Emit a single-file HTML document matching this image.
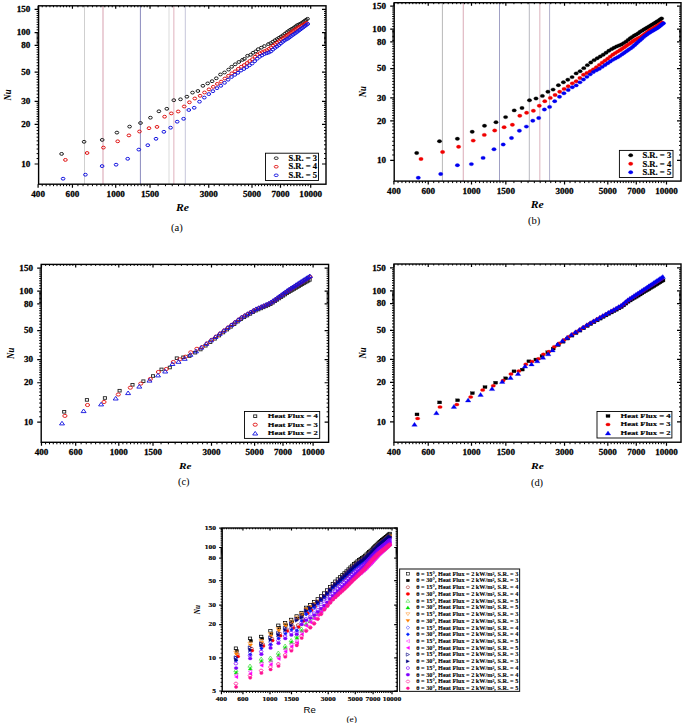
<!DOCTYPE html><html><head><meta charset="utf-8"><style>html,body{margin:0;padding:0;background:#fff;width:685px;height:723px;overflow:hidden}svg{display:block}</style></head><body>
<svg width="685" height="723" viewBox="0 0 685 723">
<rect width="685" height="723" fill="#fff"/>
<line x1="84.5" y1="5.8" x2="84.5" y2="184.2" stroke="#cfcfcf" stroke-width="1"/>
<line x1="103" y1="5.8" x2="103" y2="184.2" stroke="#e6c4cd" stroke-width="1.6"/>
<line x1="140.4" y1="5.8" x2="140.4" y2="184.2" stroke="#8a8abd" stroke-width="1"/>
<line x1="169" y1="5.8" x2="169" y2="184.2" stroke="#e6e6e6" stroke-width="1.4"/>
<line x1="173.8" y1="5.8" x2="173.8" y2="184.2" stroke="#ebcbd3" stroke-width="1.5"/>
<line x1="185.3" y1="5.8" x2="185.3" y2="184.2" stroke="#c6c6da" stroke-width="1"/>
<ellipse cx="61.6" cy="153.9" rx="1.85" ry="1.4" fill="none" stroke="#1a1a1a" stroke-width="1"/>
<ellipse cx="84.1" cy="141.8" rx="1.85" ry="1.4" fill="none" stroke="#1a1a1a" stroke-width="1"/>
<ellipse cx="102.2" cy="139.9" rx="1.85" ry="1.4" fill="none" stroke="#1a1a1a" stroke-width="1"/>
<ellipse cx="116.9" cy="132.6" rx="1.85" ry="1.4" fill="none" stroke="#1a1a1a" stroke-width="1"/>
<ellipse cx="129.6" cy="126.6" rx="1.85" ry="1.4" fill="none" stroke="#1a1a1a" stroke-width="1"/>
<ellipse cx="140.5" cy="123" rx="1.85" ry="1.4" fill="none" stroke="#1a1a1a" stroke-width="1"/>
<ellipse cx="150.4" cy="117.7" rx="1.85" ry="1.4" fill="none" stroke="#1a1a1a" stroke-width="1"/>
<ellipse cx="158.9" cy="111.3" rx="1.85" ry="1.4" fill="none" stroke="#1a1a1a" stroke-width="1"/>
<ellipse cx="166.8" cy="108.8" rx="1.85" ry="1.4" fill="none" stroke="#1a1a1a" stroke-width="1"/>
<ellipse cx="173.8" cy="100.2" rx="1.85" ry="1.4" fill="none" stroke="#1a1a1a" stroke-width="1"/>
<ellipse cx="180.5" cy="99.3" rx="1.85" ry="1.4" fill="none" stroke="#1a1a1a" stroke-width="1"/>
<ellipse cx="186.9" cy="96.7" rx="1.85" ry="1.4" fill="none" stroke="#1a1a1a" stroke-width="1"/>
<ellipse cx="192.5" cy="92.6" rx="1.85" ry="1.4" fill="none" stroke="#1a1a1a" stroke-width="1"/>
<ellipse cx="197.9" cy="91" rx="1.85" ry="1.4" fill="none" stroke="#1a1a1a" stroke-width="1"/>
<ellipse cx="202.9" cy="85.8" rx="1.85" ry="1.4" fill="none" stroke="#1a1a1a" stroke-width="1"/>
<ellipse cx="207.7" cy="83.4" rx="1.85" ry="1.4" fill="none" stroke="#1a1a1a" stroke-width="1"/>
<ellipse cx="212.1" cy="81.2" rx="1.85" ry="1.4" fill="none" stroke="#1a1a1a" stroke-width="1"/>
<ellipse cx="216.3" cy="78.3" rx="1.85" ry="1.4" fill="none" stroke="#1a1a1a" stroke-width="1"/>
<ellipse cx="220.4" cy="74.5" rx="1.85" ry="1.4" fill="none" stroke="#1a1a1a" stroke-width="1"/>
<ellipse cx="224.5" cy="72.5" rx="1.85" ry="1.4" fill="none" stroke="#1a1a1a" stroke-width="1"/>
<ellipse cx="228.6" cy="69.6" rx="1.85" ry="1.4" fill="none" stroke="#1a1a1a" stroke-width="1"/>
<ellipse cx="231.7" cy="66.8" rx="1.85" ry="1.4" fill="none" stroke="#1a1a1a" stroke-width="1"/>
<ellipse cx="235.2" cy="64.3" rx="1.85" ry="1.4" fill="none" stroke="#1a1a1a" stroke-width="1"/>
<ellipse cx="238.8" cy="62" rx="1.85" ry="1.4" fill="none" stroke="#1a1a1a" stroke-width="1"/>
<ellipse cx="242.4" cy="59.9" rx="1.85" ry="1.4" fill="none" stroke="#1a1a1a" stroke-width="1"/>
<ellipse cx="244.4" cy="58.9" rx="1.85" ry="1.4" fill="none" stroke="#1a1a1a" stroke-width="1"/>
<ellipse cx="247.5" cy="55.8" rx="1.85" ry="1.4" fill="none" stroke="#1a1a1a" stroke-width="1"/>
<ellipse cx="250.6" cy="54.8" rx="1.85" ry="1.4" fill="none" stroke="#1a1a1a" stroke-width="1"/>
<ellipse cx="253.1" cy="52.8" rx="1.85" ry="1.4" fill="none" stroke="#1a1a1a" stroke-width="1"/>
<ellipse cx="255.7" cy="51.4" rx="1.85" ry="1.4" fill="none" stroke="#1a1a1a" stroke-width="1"/>
<ellipse cx="258.2" cy="49.2" rx="1.85" ry="1.4" fill="none" stroke="#1a1a1a" stroke-width="1"/>
<ellipse cx="261.3" cy="47.7" rx="1.85" ry="1.4" fill="none" stroke="#1a1a1a" stroke-width="1"/>
<ellipse cx="264.4" cy="46.1" rx="1.85" ry="1.4" fill="none" stroke="#1a1a1a" stroke-width="1"/>
<ellipse cx="268.4" cy="44.1" rx="1.85" ry="1.4" fill="none" stroke="#1a1a1a" stroke-width="1"/>
<ellipse cx="270.63" cy="43.17" rx="1.85" ry="1.4" fill="none" stroke="#1a1a1a" stroke-width="1"/>
<ellipse cx="272.8" cy="41.76" rx="1.85" ry="1.4" fill="none" stroke="#1a1a1a" stroke-width="1"/>
<ellipse cx="274.92" cy="40.28" rx="1.85" ry="1.4" fill="none" stroke="#1a1a1a" stroke-width="1"/>
<ellipse cx="276.99" cy="39.09" rx="1.85" ry="1.4" fill="none" stroke="#1a1a1a" stroke-width="1"/>
<ellipse cx="279.01" cy="37.81" rx="1.85" ry="1.4" fill="none" stroke="#1a1a1a" stroke-width="1"/>
<ellipse cx="280.98" cy="36.55" rx="1.85" ry="1.4" fill="none" stroke="#1a1a1a" stroke-width="1"/>
<ellipse cx="282.91" cy="35.33" rx="1.85" ry="1.4" fill="none" stroke="#1a1a1a" stroke-width="1"/>
<ellipse cx="284.79" cy="33.86" rx="1.85" ry="1.4" fill="none" stroke="#1a1a1a" stroke-width="1"/>
<ellipse cx="286.63" cy="32.34" rx="1.85" ry="1.4" fill="none" stroke="#1a1a1a" stroke-width="1"/>
<ellipse cx="288.44" cy="31.04" rx="1.85" ry="1.4" fill="none" stroke="#1a1a1a" stroke-width="1"/>
<ellipse cx="290.2" cy="29.82" rx="1.85" ry="1.4" fill="none" stroke="#1a1a1a" stroke-width="1"/>
<ellipse cx="291.93" cy="28.81" rx="1.85" ry="1.4" fill="none" stroke="#1a1a1a" stroke-width="1"/>
<ellipse cx="293.63" cy="27.86" rx="1.85" ry="1.4" fill="none" stroke="#1a1a1a" stroke-width="1"/>
<ellipse cx="295.29" cy="26.59" rx="1.85" ry="1.4" fill="none" stroke="#1a1a1a" stroke-width="1"/>
<ellipse cx="296.92" cy="25.36" rx="1.85" ry="1.4" fill="none" stroke="#1a1a1a" stroke-width="1"/>
<ellipse cx="298.52" cy="24.61" rx="1.85" ry="1.4" fill="none" stroke="#1a1a1a" stroke-width="1"/>
<ellipse cx="300.09" cy="23.88" rx="1.85" ry="1.4" fill="none" stroke="#1a1a1a" stroke-width="1"/>
<ellipse cx="301.63" cy="22.95" rx="1.85" ry="1.4" fill="none" stroke="#1a1a1a" stroke-width="1"/>
<ellipse cx="303.14" cy="21.89" rx="1.85" ry="1.4" fill="none" stroke="#1a1a1a" stroke-width="1"/>
<ellipse cx="304.63" cy="20.84" rx="1.85" ry="1.4" fill="none" stroke="#1a1a1a" stroke-width="1"/>
<ellipse cx="306.09" cy="19.82" rx="1.85" ry="1.4" fill="none" stroke="#1a1a1a" stroke-width="1"/>
<ellipse cx="307.53" cy="18.81" rx="1.85" ry="1.4" fill="none" stroke="#1a1a1a" stroke-width="1"/>
<ellipse cx="65.4" cy="159.9" rx="1.85" ry="1.4" fill="none" stroke="#e01010" stroke-width="1"/>
<ellipse cx="87.1" cy="153" rx="1.85" ry="1.4" fill="none" stroke="#e01010" stroke-width="1"/>
<ellipse cx="103.4" cy="147.6" rx="1.85" ry="1.4" fill="none" stroke="#e01010" stroke-width="1"/>
<ellipse cx="117.7" cy="141.3" rx="1.85" ry="1.4" fill="none" stroke="#e01010" stroke-width="1"/>
<ellipse cx="128.9" cy="135.4" rx="1.85" ry="1.4" fill="none" stroke="#e01010" stroke-width="1"/>
<ellipse cx="139.5" cy="131.5" rx="1.85" ry="1.4" fill="none" stroke="#e01010" stroke-width="1"/>
<ellipse cx="149" cy="128.2" rx="1.85" ry="1.4" fill="none" stroke="#e01010" stroke-width="1"/>
<ellipse cx="157" cy="126.9" rx="1.85" ry="1.4" fill="none" stroke="#e01010" stroke-width="1"/>
<ellipse cx="164.6" cy="116.7" rx="1.85" ry="1.4" fill="none" stroke="#e01010" stroke-width="1"/>
<ellipse cx="171.3" cy="113.4" rx="1.85" ry="1.4" fill="none" stroke="#e01010" stroke-width="1"/>
<ellipse cx="178.2" cy="111.5" rx="1.85" ry="1.4" fill="none" stroke="#e01010" stroke-width="1"/>
<ellipse cx="184.2" cy="106.5" rx="1.85" ry="1.4" fill="none" stroke="#e01010" stroke-width="1"/>
<ellipse cx="189.4" cy="102.3" rx="1.85" ry="1.4" fill="none" stroke="#e01010" stroke-width="1"/>
<ellipse cx="194.8" cy="98.5" rx="1.85" ry="1.4" fill="none" stroke="#e01010" stroke-width="1"/>
<ellipse cx="200.1" cy="95.8" rx="1.85" ry="1.4" fill="none" stroke="#e01010" stroke-width="1"/>
<ellipse cx="204.5" cy="92.5" rx="1.85" ry="1.4" fill="none" stroke="#e01010" stroke-width="1"/>
<ellipse cx="208.98" cy="89.39" rx="1.85" ry="1.4" fill="none" stroke="#e01010" stroke-width="1"/>
<ellipse cx="213.23" cy="86.85" rx="1.85" ry="1.4" fill="none" stroke="#e01010" stroke-width="1"/>
<ellipse cx="217.28" cy="83.9" rx="1.85" ry="1.4" fill="none" stroke="#e01010" stroke-width="1"/>
<ellipse cx="221.15" cy="81.63" rx="1.85" ry="1.4" fill="none" stroke="#e01010" stroke-width="1"/>
<ellipse cx="224.85" cy="78.53" rx="1.85" ry="1.4" fill="none" stroke="#e01010" stroke-width="1"/>
<ellipse cx="228.39" cy="75.83" rx="1.85" ry="1.4" fill="none" stroke="#e01010" stroke-width="1"/>
<ellipse cx="231.79" cy="73.39" rx="1.85" ry="1.4" fill="none" stroke="#e01010" stroke-width="1"/>
<ellipse cx="235.06" cy="71.35" rx="1.85" ry="1.4" fill="none" stroke="#e01010" stroke-width="1"/>
<ellipse cx="238.21" cy="68.89" rx="1.85" ry="1.4" fill="none" stroke="#e01010" stroke-width="1"/>
<ellipse cx="241.24" cy="66.79" rx="1.85" ry="1.4" fill="none" stroke="#e01010" stroke-width="1"/>
<ellipse cx="244.17" cy="65.08" rx="1.85" ry="1.4" fill="none" stroke="#e01010" stroke-width="1"/>
<ellipse cx="247" cy="63.08" rx="1.85" ry="1.4" fill="none" stroke="#e01010" stroke-width="1"/>
<ellipse cx="249.74" cy="61.01" rx="1.85" ry="1.4" fill="none" stroke="#e01010" stroke-width="1"/>
<ellipse cx="252.4" cy="59.2" rx="1.85" ry="1.4" fill="none" stroke="#e01010" stroke-width="1"/>
<ellipse cx="254.97" cy="56.77" rx="1.85" ry="1.4" fill="none" stroke="#e01010" stroke-width="1"/>
<ellipse cx="257.47" cy="54.79" rx="1.85" ry="1.4" fill="none" stroke="#e01010" stroke-width="1"/>
<ellipse cx="259.89" cy="53.25" rx="1.85" ry="1.4" fill="none" stroke="#e01010" stroke-width="1"/>
<ellipse cx="262.25" cy="52.1" rx="1.85" ry="1.4" fill="none" stroke="#e01010" stroke-width="1"/>
<ellipse cx="264.55" cy="51.17" rx="1.85" ry="1.4" fill="none" stroke="#e01010" stroke-width="1"/>
<ellipse cx="266.78" cy="50.16" rx="1.85" ry="1.4" fill="none" stroke="#e01010" stroke-width="1"/>
<ellipse cx="268.96" cy="48.93" rx="1.85" ry="1.4" fill="none" stroke="#e01010" stroke-width="1"/>
<ellipse cx="271.08" cy="47.37" rx="1.85" ry="1.4" fill="none" stroke="#e01010" stroke-width="1"/>
<ellipse cx="273.15" cy="45.71" rx="1.85" ry="1.4" fill="none" stroke="#e01010" stroke-width="1"/>
<ellipse cx="275.17" cy="44.1" rx="1.85" ry="1.4" fill="none" stroke="#e01010" stroke-width="1"/>
<ellipse cx="277.14" cy="42.69" rx="1.85" ry="1.4" fill="none" stroke="#e01010" stroke-width="1"/>
<ellipse cx="279.07" cy="41.17" rx="1.85" ry="1.4" fill="none" stroke="#e01010" stroke-width="1"/>
<ellipse cx="280.96" cy="39.71" rx="1.85" ry="1.4" fill="none" stroke="#e01010" stroke-width="1"/>
<ellipse cx="282.8" cy="38.32" rx="1.85" ry="1.4" fill="none" stroke="#e01010" stroke-width="1"/>
<ellipse cx="284.61" cy="37" rx="1.85" ry="1.4" fill="none" stroke="#e01010" stroke-width="1"/>
<ellipse cx="286.38" cy="35.75" rx="1.85" ry="1.4" fill="none" stroke="#e01010" stroke-width="1"/>
<ellipse cx="288.11" cy="34.53" rx="1.85" ry="1.4" fill="none" stroke="#e01010" stroke-width="1"/>
<ellipse cx="289.81" cy="33.34" rx="1.85" ry="1.4" fill="none" stroke="#e01010" stroke-width="1"/>
<ellipse cx="291.47" cy="32.17" rx="1.85" ry="1.4" fill="none" stroke="#e01010" stroke-width="1"/>
<ellipse cx="293.1" cy="31.02" rx="1.85" ry="1.4" fill="none" stroke="#e01010" stroke-width="1"/>
<ellipse cx="294.7" cy="29.89" rx="1.85" ry="1.4" fill="none" stroke="#e01010" stroke-width="1"/>
<ellipse cx="296.27" cy="28.79" rx="1.85" ry="1.4" fill="none" stroke="#e01010" stroke-width="1"/>
<ellipse cx="297.81" cy="27.87" rx="1.85" ry="1.4" fill="none" stroke="#e01010" stroke-width="1"/>
<ellipse cx="299.33" cy="26.98" rx="1.85" ry="1.4" fill="none" stroke="#e01010" stroke-width="1"/>
<ellipse cx="300.82" cy="26.11" rx="1.85" ry="1.4" fill="none" stroke="#e01010" stroke-width="1"/>
<ellipse cx="302.28" cy="25.26" rx="1.85" ry="1.4" fill="none" stroke="#e01010" stroke-width="1"/>
<ellipse cx="303.72" cy="24.42" rx="1.85" ry="1.4" fill="none" stroke="#e01010" stroke-width="1"/>
<ellipse cx="305.13" cy="23.59" rx="1.85" ry="1.4" fill="none" stroke="#e01010" stroke-width="1"/>
<ellipse cx="306.52" cy="22.77" rx="1.85" ry="1.4" fill="none" stroke="#e01010" stroke-width="1"/>
<ellipse cx="63.1" cy="178.7" rx="1.85" ry="1.4" fill="none" stroke="#1010e0" stroke-width="1"/>
<ellipse cx="85.4" cy="174.7" rx="1.85" ry="1.4" fill="none" stroke="#1010e0" stroke-width="1"/>
<ellipse cx="102.1" cy="166.1" rx="1.85" ry="1.4" fill="none" stroke="#1010e0" stroke-width="1"/>
<ellipse cx="116.1" cy="164.7" rx="1.85" ry="1.4" fill="none" stroke="#1010e0" stroke-width="1"/>
<ellipse cx="127.7" cy="158.8" rx="1.85" ry="1.4" fill="none" stroke="#1010e0" stroke-width="1"/>
<ellipse cx="138.8" cy="149.6" rx="1.85" ry="1.4" fill="none" stroke="#1010e0" stroke-width="1"/>
<ellipse cx="147.8" cy="145.2" rx="1.85" ry="1.4" fill="none" stroke="#1010e0" stroke-width="1"/>
<ellipse cx="156" cy="138.8" rx="1.85" ry="1.4" fill="none" stroke="#1010e0" stroke-width="1"/>
<ellipse cx="163.9" cy="131.8" rx="1.85" ry="1.4" fill="none" stroke="#1010e0" stroke-width="1"/>
<ellipse cx="170.6" cy="127.7" rx="1.85" ry="1.4" fill="none" stroke="#1010e0" stroke-width="1"/>
<ellipse cx="177.2" cy="121.7" rx="1.85" ry="1.4" fill="none" stroke="#1010e0" stroke-width="1"/>
<ellipse cx="183.6" cy="118.8" rx="1.85" ry="1.4" fill="none" stroke="#1010e0" stroke-width="1"/>
<ellipse cx="188.8" cy="110" rx="1.85" ry="1.4" fill="none" stroke="#1010e0" stroke-width="1"/>
<ellipse cx="194.2" cy="107.8" rx="1.85" ry="1.4" fill="none" stroke="#1010e0" stroke-width="1"/>
<ellipse cx="199.5" cy="101.7" rx="1.85" ry="1.4" fill="none" stroke="#1010e0" stroke-width="1"/>
<ellipse cx="204.3" cy="97.6" rx="1.85" ry="1.4" fill="none" stroke="#1010e0" stroke-width="1"/>
<ellipse cx="208.8" cy="94.1" rx="1.85" ry="1.4" fill="none" stroke="#1010e0" stroke-width="1"/>
<ellipse cx="212.9" cy="91.2" rx="1.85" ry="1.4" fill="none" stroke="#1010e0" stroke-width="1"/>
<ellipse cx="216.97" cy="88.16" rx="1.85" ry="1.4" fill="none" stroke="#1010e0" stroke-width="1"/>
<ellipse cx="220.85" cy="85.8" rx="1.85" ry="1.4" fill="none" stroke="#1010e0" stroke-width="1"/>
<ellipse cx="224.56" cy="82.82" rx="1.85" ry="1.4" fill="none" stroke="#1010e0" stroke-width="1"/>
<ellipse cx="228.11" cy="79.72" rx="1.85" ry="1.4" fill="none" stroke="#1010e0" stroke-width="1"/>
<ellipse cx="231.52" cy="76.99" rx="1.85" ry="1.4" fill="none" stroke="#1010e0" stroke-width="1"/>
<ellipse cx="234.8" cy="74.82" rx="1.85" ry="1.4" fill="none" stroke="#1010e0" stroke-width="1"/>
<ellipse cx="237.96" cy="72.81" rx="1.85" ry="1.4" fill="none" stroke="#1010e0" stroke-width="1"/>
<ellipse cx="241" cy="70.55" rx="1.85" ry="1.4" fill="none" stroke="#1010e0" stroke-width="1"/>
<ellipse cx="243.94" cy="68.99" rx="1.85" ry="1.4" fill="none" stroke="#1010e0" stroke-width="1"/>
<ellipse cx="246.78" cy="67.06" rx="1.85" ry="1.4" fill="none" stroke="#1010e0" stroke-width="1"/>
<ellipse cx="249.53" cy="65.27" rx="1.85" ry="1.4" fill="none" stroke="#1010e0" stroke-width="1"/>
<ellipse cx="252.19" cy="63.5" rx="1.85" ry="1.4" fill="none" stroke="#1010e0" stroke-width="1"/>
<ellipse cx="254.77" cy="61.14" rx="1.85" ry="1.4" fill="none" stroke="#1010e0" stroke-width="1"/>
<ellipse cx="257.27" cy="58.7" rx="1.85" ry="1.4" fill="none" stroke="#1010e0" stroke-width="1"/>
<ellipse cx="259.7" cy="56.76" rx="1.85" ry="1.4" fill="none" stroke="#1010e0" stroke-width="1"/>
<ellipse cx="262.07" cy="55.39" rx="1.85" ry="1.4" fill="none" stroke="#1010e0" stroke-width="1"/>
<ellipse cx="264.37" cy="54.05" rx="1.85" ry="1.4" fill="none" stroke="#1010e0" stroke-width="1"/>
<ellipse cx="266.6" cy="53.28" rx="1.85" ry="1.4" fill="none" stroke="#1010e0" stroke-width="1"/>
<ellipse cx="268.79" cy="52.55" rx="1.85" ry="1.4" fill="none" stroke="#1010e0" stroke-width="1"/>
<ellipse cx="270.91" cy="51.44" rx="1.85" ry="1.4" fill="none" stroke="#1010e0" stroke-width="1"/>
<ellipse cx="272.99" cy="49.59" rx="1.85" ry="1.4" fill="none" stroke="#1010e0" stroke-width="1"/>
<ellipse cx="275.01" cy="47.93" rx="1.85" ry="1.4" fill="none" stroke="#1010e0" stroke-width="1"/>
<ellipse cx="276.99" cy="46.56" rx="1.85" ry="1.4" fill="none" stroke="#1010e0" stroke-width="1"/>
<ellipse cx="278.92" cy="45.1" rx="1.85" ry="1.4" fill="none" stroke="#1010e0" stroke-width="1"/>
<ellipse cx="280.81" cy="43.51" rx="1.85" ry="1.4" fill="none" stroke="#1010e0" stroke-width="1"/>
<ellipse cx="282.66" cy="41.97" rx="1.85" ry="1.4" fill="none" stroke="#1010e0" stroke-width="1"/>
<ellipse cx="284.47" cy="40.62" rx="1.85" ry="1.4" fill="none" stroke="#1010e0" stroke-width="1"/>
<ellipse cx="286.24" cy="39.49" rx="1.85" ry="1.4" fill="none" stroke="#1010e0" stroke-width="1"/>
<ellipse cx="287.97" cy="38.6" rx="1.85" ry="1.4" fill="none" stroke="#1010e0" stroke-width="1"/>
<ellipse cx="289.67" cy="37.39" rx="1.85" ry="1.4" fill="none" stroke="#1010e0" stroke-width="1"/>
<ellipse cx="291.34" cy="36.06" rx="1.85" ry="1.4" fill="none" stroke="#1010e0" stroke-width="1"/>
<ellipse cx="292.97" cy="34.88" rx="1.85" ry="1.4" fill="none" stroke="#1010e0" stroke-width="1"/>
<ellipse cx="294.57" cy="33.74" rx="1.85" ry="1.4" fill="none" stroke="#1010e0" stroke-width="1"/>
<ellipse cx="296.15" cy="32.67" rx="1.85" ry="1.4" fill="none" stroke="#1010e0" stroke-width="1"/>
<ellipse cx="297.69" cy="31.53" rx="1.85" ry="1.4" fill="none" stroke="#1010e0" stroke-width="1"/>
<ellipse cx="299.21" cy="30.39" rx="1.85" ry="1.4" fill="none" stroke="#1010e0" stroke-width="1"/>
<ellipse cx="300.7" cy="29.28" rx="1.85" ry="1.4" fill="none" stroke="#1010e0" stroke-width="1"/>
<ellipse cx="302.16" cy="28.18" rx="1.85" ry="1.4" fill="none" stroke="#1010e0" stroke-width="1"/>
<ellipse cx="303.6" cy="27.1" rx="1.85" ry="1.4" fill="none" stroke="#1010e0" stroke-width="1"/>
<ellipse cx="305.02" cy="26.04" rx="1.85" ry="1.4" fill="none" stroke="#1010e0" stroke-width="1"/>
<ellipse cx="306.41" cy="24.99" rx="1.85" ry="1.4" fill="none" stroke="#1010e0" stroke-width="1"/>
<ellipse cx="307.78" cy="23.96" rx="1.85" ry="1.4" fill="none" stroke="#1010e0" stroke-width="1"/>
<path d="M42.23 184.2v2 M42.23 5.8v1.5 M46.17 184.2v2 M46.17 5.8v1.5 M49.94 184.2v2 M49.94 5.8v1.5 M53.54 184.2v2 M53.54 5.8v1.5 M57 184.2v2 M57 5.8v1.5 M60.32 184.2v2 M60.32 5.8v1.5 M63.52 184.2v2 M63.52 5.8v1.5 M66.6 184.2v2 M66.6 5.8v1.5 M69.57 184.2v2 M69.57 5.8v1.5 M77.91 184.2v2 M77.91 5.8v1.5 M83.04 184.2v2 M83.04 5.8v1.5 M87.88 184.2v2 M87.88 5.8v1.5 M92.46 184.2v2 M92.46 5.8v1.5 M96.8 184.2v2 M96.8 5.8v1.5 M100.93 184.2v2 M100.93 5.8v1.5 M104.87 184.2v2 M104.87 5.8v1.5 M108.64 184.2v2 M108.64 5.8v1.5 M112.24 184.2v2 M112.24 5.8v1.5 M119.83 184.2v2 M119.83 5.8v1.5 M123.77 184.2v2 M123.77 5.8v1.5 M127.54 184.2v2 M127.54 5.8v1.5 M131.14 184.2v2 M131.14 5.8v1.5 M134.6 184.2v2 M134.6 5.8v1.5 M137.92 184.2v2 M137.92 5.8v1.5 M141.12 184.2v2 M141.12 5.8v1.5 M144.19 184.2v2 M144.19 5.8v1.5 M147.17 184.2v2 M147.17 5.8v1.5 M158.11 184.2v2 M158.11 5.8v1.5 M165.48 184.2v2 M165.48 5.8v1.5 M172.26 184.2v2 M172.26 5.8v1.5 M178.53 184.2v2 M178.53 5.8v1.5 M184.38 184.2v2 M184.38 5.8v1.5 M189.84 184.2v2 M189.84 5.8v1.5 M194.98 184.2v2 M194.98 5.8v1.5 M199.82 184.2v2 M199.82 5.8v1.5 M204.39 184.2v2 M204.39 5.8v1.5 M214.2 184.2v2 M214.2 5.8v1.5 M219.34 184.2v2 M219.34 5.8v1.5 M224.18 184.2v2 M224.18 5.8v1.5 M228.76 184.2v2 M228.76 5.8v1.5 M233.1 184.2v2 M233.1 5.8v1.5 M237.23 184.2v2 M237.23 5.8v1.5 M241.17 184.2v2 M241.17 5.8v1.5 M244.94 184.2v2 M244.94 5.8v1.5 M248.54 184.2v2 M248.54 5.8v1.5 M255.32 184.2v2 M255.32 5.8v1.5 M258.52 184.2v2 M258.52 5.8v1.5 M261.6 184.2v2 M261.6 5.8v1.5 M264.57 184.2v2 M264.57 5.8v1.5 M267.44 184.2v2 M267.44 5.8v1.5 M270.22 184.2v2 M270.22 5.8v1.5 M272.91 184.2v2 M272.91 5.8v1.5 M275.51 184.2v2 M275.51 5.8v1.5 M278.04 184.2v2 M278.04 5.8v1.5 M284.05 184.2v2 M284.05 5.8v1.5 M287.46 184.2v2 M287.46 5.8v1.5 M290.74 184.2v2 M290.74 5.8v1.5 M293.89 184.2v2 M293.89 5.8v1.5 M296.94 184.2v2 M296.94 5.8v1.5 M299.87 184.2v2 M299.87 5.8v1.5 M302.71 184.2v2 M302.71 5.8v1.5 M305.46 184.2v2 M305.46 5.8v1.5 M308.12 184.2v2 M308.12 5.8v1.5 M38.6 158.56h-2 M326 158.56h-2 M38.6 153.6h-2 M326 153.6h-2 M38.6 149.03h-2 M326 149.03h-2 M38.6 144.8h-2 M326 144.8h-2 M38.6 140.86h-2 M326 140.86h-2 M38.6 137.18h-2 M326 137.18h-2 M38.6 133.72h-2 M326 133.72h-2 M38.6 130.46h-2 M326 130.46h-2 M38.6 127.37h-2 M326 127.37h-2 M38.6 121.66h-2 M326 121.66h-2 M38.6 119.01h-2 M326 119.01h-2 M38.6 116.47h-2 M326 116.47h-2 M38.6 114.04h-2 M326 114.04h-2 M38.6 111.71h-2 M326 111.71h-2 M38.6 109.47h-2 M326 109.47h-2 M38.6 107.32h-2 M326 107.32h-2 M38.6 105.24h-2 M326 105.24h-2 M38.6 103.24h-2 M326 103.24h-2 M38.6 97.62h-2 M326 97.62h-2 M38.6 94.16h-2 M326 94.16h-2 M38.6 90.9h-2 M326 90.9h-2 M38.6 87.82h-2 M326 87.82h-2 M38.6 84.89h-2 M326 84.89h-2 M38.6 82.11h-2 M326 82.11h-2 M38.6 79.45h-2 M326 79.45h-2 M38.6 76.91h-2 M326 76.91h-2 M38.6 74.48h-2 M326 74.48h-2 M38.6 68.83h-2 M326 68.83h-2 M38.6 65.69h-2 M326 65.69h-2 M38.6 62.71h-2 M326 62.71h-2 M38.6 59.88h-2 M326 59.88h-2 M38.6 57.18h-2 M326 57.18h-2 M38.6 54.61h-2 M326 54.61h-2 M38.6 52.14h-2 M326 52.14h-2 M38.6 49.78h-2 M326 49.78h-2 M38.6 47.52h-2 M326 47.52h-2 M38.6 43.92h-2 M326 43.92h-2 M38.6 42.55h-2 M326 42.55h-2 M38.6 41.21h-2 M326 41.21h-2 M38.6 39.89h-2 M326 39.89h-2 M38.6 38.61h-2 M326 38.61h-2 M38.6 37.36h-2 M326 37.36h-2 M38.6 36.13h-2 M326 36.13h-2 M38.6 34.93h-2 M326 34.93h-2 M38.6 33.75h-2 M326 33.75h-2 M38.6 29.82h-2 M326 29.82h-2 M38.6 27.16h-2 M326 27.16h-2 M38.6 24.62h-2 M326 24.62h-2 M38.6 22.2h-2 M326 22.2h-2 M38.6 19.87h-2 M326 19.87h-2 M38.6 17.63h-2 M326 17.63h-2 M38.6 15.47h-2 M326 15.47h-2 M38.6 13.4h-2 M326 13.4h-2 M38.6 11.4h-2 M326 11.4h-2" stroke="#000" stroke-width="1.0" fill="none"/>
<path d="M38.1 184.2v3.5 M38.1 5.8v3 M72.44 184.2v3.5 M72.44 5.8v3 M115.7 184.2v3.5 M115.7 5.8v3 M150.04 184.2v3.5 M150.04 5.8v3 M208.74 184.2v3.5 M208.74 5.8v3 M252 184.2v3.5 M252 5.8v3 M280.49 184.2v3.5 M280.49 5.8v3 M310.7 184.2v3.5 M310.7 5.8v3 M38.6 164h-4 M326 164h-4 M38.6 124.44h-4 M326 124.44h-4 M38.6 101.31h-4 M326 101.31h-4 M38.6 72.16h-4 M326 72.16h-4 M38.6 45.33h-4 M326 45.33h-4 M38.6 32.6h-4 M326 32.6h-4 M38.6 9.46h-4 M326 9.46h-4" stroke="#000" stroke-width="1.2" fill="none"/>
<rect x="38.6" y="5.8" width="287.4" height="178.4" fill="none" stroke="#000" stroke-width="1.4"/>
<text transform="translate(38.1,196.8) scale(1.17,1)" font-family="'Liberation Serif', serif" font-size="7.8" font-weight="bold" font-style="normal" fill="#000" text-anchor="middle" stroke="#000" stroke-width="0.25">400</text>
<text transform="translate(72.44,196.8) scale(1.17,1)" font-family="'Liberation Serif', serif" font-size="7.8" font-weight="bold" font-style="normal" fill="#000" text-anchor="middle" stroke="#000" stroke-width="0.25">600</text>
<text transform="translate(115.7,196.8) scale(1.17,1)" font-family="'Liberation Serif', serif" font-size="7.8" font-weight="bold" font-style="normal" fill="#000" text-anchor="middle" stroke="#000" stroke-width="0.25">1000</text>
<text transform="translate(150.04,196.8) scale(1.17,1)" font-family="'Liberation Serif', serif" font-size="7.8" font-weight="bold" font-style="normal" fill="#000" text-anchor="middle" stroke="#000" stroke-width="0.25">1500</text>
<text transform="translate(208.74,196.8) scale(1.17,1)" font-family="'Liberation Serif', serif" font-size="7.8" font-weight="bold" font-style="normal" fill="#000" text-anchor="middle" stroke="#000" stroke-width="0.25">3000</text>
<text transform="translate(252,196.8) scale(1.17,1)" font-family="'Liberation Serif', serif" font-size="7.8" font-weight="bold" font-style="normal" fill="#000" text-anchor="middle" stroke="#000" stroke-width="0.25">5000</text>
<text transform="translate(280.49,196.8) scale(1.17,1)" font-family="'Liberation Serif', serif" font-size="7.8" font-weight="bold" font-style="normal" fill="#000" text-anchor="middle" stroke="#000" stroke-width="0.25">7000</text>
<text transform="translate(310.7,196.8) scale(1.17,1)" font-family="'Liberation Serif', serif" font-size="7.8" font-weight="bold" font-style="normal" fill="#000" text-anchor="middle" stroke="#000" stroke-width="0.25">10000</text>
<text transform="translate(30.4,166.7) scale(1.17,1)" font-family="'Liberation Serif', serif" font-size="7.8" font-weight="bold" font-style="normal" fill="#000" text-anchor="end" stroke="#000" stroke-width="0.25">10</text>
<text transform="translate(30.4,127.14) scale(1.17,1)" font-family="'Liberation Serif', serif" font-size="7.8" font-weight="bold" font-style="normal" fill="#000" text-anchor="end" stroke="#000" stroke-width="0.25">20</text>
<text transform="translate(30.4,104.01) scale(1.17,1)" font-family="'Liberation Serif', serif" font-size="7.8" font-weight="bold" font-style="normal" fill="#000" text-anchor="end" stroke="#000" stroke-width="0.25">30</text>
<text transform="translate(30.4,74.86) scale(1.17,1)" font-family="'Liberation Serif', serif" font-size="7.8" font-weight="bold" font-style="normal" fill="#000" text-anchor="end" stroke="#000" stroke-width="0.25">50</text>
<text transform="translate(30.4,48.03) scale(1.17,1)" font-family="'Liberation Serif', serif" font-size="7.8" font-weight="bold" font-style="normal" fill="#000" text-anchor="end" stroke="#000" stroke-width="0.25">80</text>
<text transform="translate(30.4,35.3) scale(1.17,1)" font-family="'Liberation Serif', serif" font-size="7.8" font-weight="bold" font-style="normal" fill="#000" text-anchor="end" stroke="#000" stroke-width="0.25">100</text>
<text transform="translate(30.4,12.16) scale(1.17,1)" font-family="'Liberation Serif', serif" font-size="7.8" font-weight="bold" font-style="normal" fill="#000" text-anchor="end" stroke="#000" stroke-width="0.25">150</text>
<rect x="265.5" y="153.2" width="53" height="27.3" fill="#fff" stroke="#000" stroke-width="0.9"/>
<ellipse cx="276.2" cy="158.2" rx="2" ry="1.3" fill="none" stroke="#1a1a1a" stroke-width="0.9"/>
<text transform="translate(288.4,160.8)" font-family="'Liberation Serif', serif" font-size="7.2" font-weight="bold" font-style="normal" fill="#000" text-anchor="start" stroke="#000" stroke-width="0.15" textLength="28.6" lengthAdjust="spacingAndGlyphs">S.R. = 3</text>
<ellipse cx="276.2" cy="166.75" rx="2" ry="1.3" fill="none" stroke="#e01010" stroke-width="0.9"/>
<text transform="translate(288.4,169.35)" font-family="'Liberation Serif', serif" font-size="7.2" font-weight="bold" font-style="normal" fill="#000" text-anchor="start" stroke="#000" stroke-width="0.15" textLength="28.6" lengthAdjust="spacingAndGlyphs">S.R. = 4</text>
<ellipse cx="276.2" cy="175.3" rx="2" ry="1.3" fill="none" stroke="#1010e0" stroke-width="0.9"/>
<text transform="translate(288.4,177.9)" font-family="'Liberation Serif', serif" font-size="7.2" font-weight="bold" font-style="normal" fill="#000" text-anchor="start" stroke="#000" stroke-width="0.15" textLength="28.6" lengthAdjust="spacingAndGlyphs">S.R. = 5</text>
<text transform="translate(11,94.9) rotate(-90)" font-family="'Liberation Serif', serif" font-size="10.5" font-weight="bold" font-style="italic" fill="#000" text-anchor="middle" textLength="11.2" lengthAdjust="spacingAndGlyphs">Nu</text>
<text transform="translate(182.4,211)" font-family="'Liberation Serif', serif" font-size="9.6" font-weight="bold" font-style="italic" fill="#000" text-anchor="middle" textLength="13" lengthAdjust="spacingAndGlyphs">Re</text>
<text transform="translate(176.8,231.3)" font-family="'Liberation Serif', serif" font-size="9.4" font-weight="normal" font-style="normal" fill="#000" text-anchor="middle" textLength="11.8" lengthAdjust="spacingAndGlyphs">(a)</text>
<line x1="442.4" y1="2.7" x2="442.4" y2="181.1" stroke="#b8b8b8" stroke-width="1"/>
<line x1="463.3" y1="2.7" x2="463.3" y2="181.1" stroke="#e0b8c2" stroke-width="1.2"/>
<line x1="499.5" y1="2.7" x2="499.5" y2="181.1" stroke="#a0a0c4" stroke-width="1"/>
<line x1="529.3" y1="2.7" x2="529.3" y2="181.1" stroke="#b8b8c0" stroke-width="1"/>
<line x1="539.8" y1="2.7" x2="539.8" y2="181.1" stroke="#e2c0c8" stroke-width="1.2"/>
<line x1="549.6" y1="2.7" x2="549.6" y2="181.1" stroke="#b0b0cc" stroke-width="1"/>
<ellipse cx="416.7" cy="153" rx="2.2" ry="1.7" fill="#000" stroke="#000" stroke-width="0.3"/>
<ellipse cx="439.5" cy="141.2" rx="2.2" ry="1.7" fill="#000" stroke="#000" stroke-width="0.3"/>
<ellipse cx="457.4" cy="138.8" rx="2.2" ry="1.7" fill="#000" stroke="#000" stroke-width="0.3"/>
<ellipse cx="472.2" cy="131.8" rx="2.2" ry="1.7" fill="#000" stroke="#000" stroke-width="0.3"/>
<ellipse cx="484.5" cy="125.8" rx="2.2" ry="1.7" fill="#000" stroke="#000" stroke-width="0.3"/>
<ellipse cx="496" cy="122.2" rx="2.2" ry="1.7" fill="#000" stroke="#000" stroke-width="0.3"/>
<ellipse cx="505.6" cy="117.1" rx="2.2" ry="1.7" fill="#000" stroke="#000" stroke-width="0.3"/>
<ellipse cx="514.2" cy="110.4" rx="2.2" ry="1.7" fill="#000" stroke="#000" stroke-width="0.3"/>
<ellipse cx="522" cy="108" rx="2.2" ry="1.7" fill="#000" stroke="#000" stroke-width="0.3"/>
<ellipse cx="529.5" cy="100.3" rx="2.2" ry="1.7" fill="#000" stroke="#000" stroke-width="0.3"/>
<ellipse cx="536" cy="98.5" rx="2.2" ry="1.7" fill="#000" stroke="#000" stroke-width="0.3"/>
<ellipse cx="542.4" cy="95.9" rx="2.2" ry="1.7" fill="#000" stroke="#000" stroke-width="0.3"/>
<ellipse cx="547.9" cy="91.7" rx="2.2" ry="1.7" fill="#000" stroke="#000" stroke-width="0.3"/>
<ellipse cx="553.1" cy="89.6" rx="2.2" ry="1.7" fill="#000" stroke="#000" stroke-width="0.3"/>
<ellipse cx="558.4" cy="85.2" rx="2.2" ry="1.7" fill="#000" stroke="#000" stroke-width="0.3"/>
<ellipse cx="563.4" cy="82.3" rx="2.2" ry="1.7" fill="#000" stroke="#000" stroke-width="0.3"/>
<ellipse cx="567.8" cy="79.7" rx="2.2" ry="1.7" fill="#000" stroke="#000" stroke-width="0.3"/>
<ellipse cx="572.09" cy="77.12" rx="2.2" ry="1.7" fill="#000" stroke="#000" stroke-width="0.3"/>
<ellipse cx="576.17" cy="73.41" rx="2.2" ry="1.7" fill="#000" stroke="#000" stroke-width="0.3"/>
<ellipse cx="580.07" cy="71.29" rx="2.2" ry="1.7" fill="#000" stroke="#000" stroke-width="0.3"/>
<ellipse cx="583.79" cy="68.17" rx="2.2" ry="1.7" fill="#000" stroke="#000" stroke-width="0.3"/>
<ellipse cx="587.36" cy="65.15" rx="2.2" ry="1.7" fill="#000" stroke="#000" stroke-width="0.3"/>
<ellipse cx="590.78" cy="62.51" rx="2.2" ry="1.7" fill="#000" stroke="#000" stroke-width="0.3"/>
<ellipse cx="594.07" cy="60.16" rx="2.2" ry="1.7" fill="#000" stroke="#000" stroke-width="0.3"/>
<ellipse cx="597.24" cy="58.26" rx="2.2" ry="1.7" fill="#000" stroke="#000" stroke-width="0.3"/>
<ellipse cx="600.29" cy="56.43" rx="2.2" ry="1.7" fill="#000" stroke="#000" stroke-width="0.3"/>
<ellipse cx="603.24" cy="54.69" rx="2.2" ry="1.7" fill="#000" stroke="#000" stroke-width="0.3"/>
<ellipse cx="606.08" cy="52.73" rx="2.2" ry="1.7" fill="#000" stroke="#000" stroke-width="0.3"/>
<ellipse cx="608.84" cy="50.8" rx="2.2" ry="1.7" fill="#000" stroke="#000" stroke-width="0.3"/>
<ellipse cx="611.51" cy="49.15" rx="2.2" ry="1.7" fill="#000" stroke="#000" stroke-width="0.3"/>
<ellipse cx="614.09" cy="47.75" rx="2.2" ry="1.7" fill="#000" stroke="#000" stroke-width="0.3"/>
<ellipse cx="616.6" cy="46.5" rx="2.2" ry="1.7" fill="#000" stroke="#000" stroke-width="0.3"/>
<ellipse cx="619.04" cy="45.51" rx="2.2" ry="1.7" fill="#000" stroke="#000" stroke-width="0.3"/>
<ellipse cx="621.41" cy="44.51" rx="2.2" ry="1.7" fill="#000" stroke="#000" stroke-width="0.3"/>
<ellipse cx="623.72" cy="43.1" rx="2.2" ry="1.7" fill="#000" stroke="#000" stroke-width="0.3"/>
<ellipse cx="625.96" cy="41.64" rx="2.2" ry="1.7" fill="#000" stroke="#000" stroke-width="0.3"/>
<ellipse cx="628.14" cy="39.9" rx="2.2" ry="1.7" fill="#000" stroke="#000" stroke-width="0.3"/>
<ellipse cx="630.28" cy="38.24" rx="2.2" ry="1.7" fill="#000" stroke="#000" stroke-width="0.3"/>
<ellipse cx="632.35" cy="36.83" rx="2.2" ry="1.7" fill="#000" stroke="#000" stroke-width="0.3"/>
<ellipse cx="634.38" cy="35.46" rx="2.2" ry="1.7" fill="#000" stroke="#000" stroke-width="0.3"/>
<ellipse cx="636.36" cy="34.44" rx="2.2" ry="1.7" fill="#000" stroke="#000" stroke-width="0.3"/>
<ellipse cx="638.3" cy="33.3" rx="2.2" ry="1.7" fill="#000" stroke="#000" stroke-width="0.3"/>
<ellipse cx="640.19" cy="31.77" rx="2.2" ry="1.7" fill="#000" stroke="#000" stroke-width="0.3"/>
<ellipse cx="642.04" cy="30.63" rx="2.2" ry="1.7" fill="#000" stroke="#000" stroke-width="0.3"/>
<ellipse cx="643.86" cy="29.56" rx="2.2" ry="1.7" fill="#000" stroke="#000" stroke-width="0.3"/>
<ellipse cx="645.63" cy="28.5" rx="2.2" ry="1.7" fill="#000" stroke="#000" stroke-width="0.3"/>
<ellipse cx="647.37" cy="27.45" rx="2.2" ry="1.7" fill="#000" stroke="#000" stroke-width="0.3"/>
<ellipse cx="649.07" cy="26.42" rx="2.2" ry="1.7" fill="#000" stroke="#000" stroke-width="0.3"/>
<ellipse cx="650.74" cy="25.39" rx="2.2" ry="1.7" fill="#000" stroke="#000" stroke-width="0.3"/>
<ellipse cx="652.38" cy="24.39" rx="2.2" ry="1.7" fill="#000" stroke="#000" stroke-width="0.3"/>
<ellipse cx="653.98" cy="23.42" rx="2.2" ry="1.7" fill="#000" stroke="#000" stroke-width="0.3"/>
<ellipse cx="655.56" cy="22.48" rx="2.2" ry="1.7" fill="#000" stroke="#000" stroke-width="0.3"/>
<ellipse cx="657.1" cy="21.57" rx="2.2" ry="1.7" fill="#000" stroke="#000" stroke-width="0.3"/>
<ellipse cx="658.62" cy="20.6" rx="2.2" ry="1.7" fill="#000" stroke="#000" stroke-width="0.3"/>
<ellipse cx="660.12" cy="19.56" rx="2.2" ry="1.7" fill="#000" stroke="#000" stroke-width="0.3"/>
<ellipse cx="661.58" cy="18.54" rx="2.2" ry="1.7" fill="#000" stroke="#000" stroke-width="0.3"/>
<ellipse cx="421" cy="159" rx="2.2" ry="1.7" fill="#f00000" stroke="#f00000" stroke-width="0.3"/>
<ellipse cx="442.6" cy="152" rx="2.2" ry="1.7" fill="#f00000" stroke="#f00000" stroke-width="0.3"/>
<ellipse cx="458.6" cy="146.8" rx="2.2" ry="1.7" fill="#f00000" stroke="#f00000" stroke-width="0.3"/>
<ellipse cx="473.2" cy="140.6" rx="2.2" ry="1.7" fill="#f00000" stroke="#f00000" stroke-width="0.3"/>
<ellipse cx="484.3" cy="134.9" rx="2.2" ry="1.7" fill="#f00000" stroke="#f00000" stroke-width="0.3"/>
<ellipse cx="494.7" cy="130.5" rx="2.2" ry="1.7" fill="#f00000" stroke="#f00000" stroke-width="0.3"/>
<ellipse cx="504.1" cy="127.2" rx="2.2" ry="1.7" fill="#f00000" stroke="#f00000" stroke-width="0.3"/>
<ellipse cx="512.4" cy="124.8" rx="2.2" ry="1.7" fill="#f00000" stroke="#f00000" stroke-width="0.3"/>
<ellipse cx="519.8" cy="115.8" rx="2.2" ry="1.7" fill="#f00000" stroke="#f00000" stroke-width="0.3"/>
<ellipse cx="526.6" cy="112.8" rx="2.2" ry="1.7" fill="#f00000" stroke="#f00000" stroke-width="0.3"/>
<ellipse cx="533.4" cy="110.8" rx="2.2" ry="1.7" fill="#f00000" stroke="#f00000" stroke-width="0.3"/>
<ellipse cx="539.3" cy="105.8" rx="2.2" ry="1.7" fill="#f00000" stroke="#f00000" stroke-width="0.3"/>
<ellipse cx="544.8" cy="101.2" rx="2.2" ry="1.7" fill="#f00000" stroke="#f00000" stroke-width="0.3"/>
<ellipse cx="550.3" cy="97.9" rx="2.2" ry="1.7" fill="#f00000" stroke="#f00000" stroke-width="0.3"/>
<ellipse cx="555.1" cy="95" rx="2.2" ry="1.7" fill="#f00000" stroke="#f00000" stroke-width="0.3"/>
<ellipse cx="559.7" cy="91.7" rx="2.2" ry="1.7" fill="#f00000" stroke="#f00000" stroke-width="0.3"/>
<ellipse cx="564.1" cy="88.9" rx="2.2" ry="1.7" fill="#f00000" stroke="#f00000" stroke-width="0.3"/>
<ellipse cx="568.2" cy="86.3" rx="2.2" ry="1.7" fill="#f00000" stroke="#f00000" stroke-width="0.3"/>
<ellipse cx="572.29" cy="83.35" rx="2.2" ry="1.7" fill="#f00000" stroke="#f00000" stroke-width="0.3"/>
<ellipse cx="576.19" cy="81.3" rx="2.2" ry="1.7" fill="#f00000" stroke="#f00000" stroke-width="0.3"/>
<ellipse cx="579.92" cy="78.04" rx="2.2" ry="1.7" fill="#f00000" stroke="#f00000" stroke-width="0.3"/>
<ellipse cx="583.49" cy="74.71" rx="2.2" ry="1.7" fill="#f00000" stroke="#f00000" stroke-width="0.3"/>
<ellipse cx="586.92" cy="73.02" rx="2.2" ry="1.7" fill="#f00000" stroke="#f00000" stroke-width="0.3"/>
<ellipse cx="590.22" cy="71.23" rx="2.2" ry="1.7" fill="#f00000" stroke="#f00000" stroke-width="0.3"/>
<ellipse cx="593.39" cy="69.33" rx="2.2" ry="1.7" fill="#f00000" stroke="#f00000" stroke-width="0.3"/>
<ellipse cx="596.44" cy="67.22" rx="2.2" ry="1.7" fill="#f00000" stroke="#f00000" stroke-width="0.3"/>
<ellipse cx="599.39" cy="64.85" rx="2.2" ry="1.7" fill="#f00000" stroke="#f00000" stroke-width="0.3"/>
<ellipse cx="602.24" cy="62.6" rx="2.2" ry="1.7" fill="#f00000" stroke="#f00000" stroke-width="0.3"/>
<ellipse cx="605" cy="60.6" rx="2.2" ry="1.7" fill="#f00000" stroke="#f00000" stroke-width="0.3"/>
<ellipse cx="607.67" cy="58.66" rx="2.2" ry="1.7" fill="#f00000" stroke="#f00000" stroke-width="0.3"/>
<ellipse cx="610.26" cy="56.62" rx="2.2" ry="1.7" fill="#f00000" stroke="#f00000" stroke-width="0.3"/>
<ellipse cx="612.77" cy="54.66" rx="2.2" ry="1.7" fill="#f00000" stroke="#f00000" stroke-width="0.3"/>
<ellipse cx="615.21" cy="53.11" rx="2.2" ry="1.7" fill="#f00000" stroke="#f00000" stroke-width="0.3"/>
<ellipse cx="617.59" cy="51.62" rx="2.2" ry="1.7" fill="#f00000" stroke="#f00000" stroke-width="0.3"/>
<ellipse cx="619.89" cy="50.23" rx="2.2" ry="1.7" fill="#f00000" stroke="#f00000" stroke-width="0.3"/>
<ellipse cx="622.14" cy="48.77" rx="2.2" ry="1.7" fill="#f00000" stroke="#f00000" stroke-width="0.3"/>
<ellipse cx="624.33" cy="47.23" rx="2.2" ry="1.7" fill="#f00000" stroke="#f00000" stroke-width="0.3"/>
<ellipse cx="626.46" cy="45.75" rx="2.2" ry="1.7" fill="#f00000" stroke="#f00000" stroke-width="0.3"/>
<ellipse cx="628.54" cy="44.33" rx="2.2" ry="1.7" fill="#f00000" stroke="#f00000" stroke-width="0.3"/>
<ellipse cx="630.57" cy="42.93" rx="2.2" ry="1.7" fill="#f00000" stroke="#f00000" stroke-width="0.3"/>
<ellipse cx="632.55" cy="41.53" rx="2.2" ry="1.7" fill="#f00000" stroke="#f00000" stroke-width="0.3"/>
<ellipse cx="634.49" cy="40.2" rx="2.2" ry="1.7" fill="#f00000" stroke="#f00000" stroke-width="0.3"/>
<ellipse cx="636.39" cy="39.23" rx="2.2" ry="1.7" fill="#f00000" stroke="#f00000" stroke-width="0.3"/>
<ellipse cx="638.24" cy="38.28" rx="2.2" ry="1.7" fill="#f00000" stroke="#f00000" stroke-width="0.3"/>
<ellipse cx="640.05" cy="37.37" rx="2.2" ry="1.7" fill="#f00000" stroke="#f00000" stroke-width="0.3"/>
<ellipse cx="641.83" cy="36.23" rx="2.2" ry="1.7" fill="#f00000" stroke="#f00000" stroke-width="0.3"/>
<ellipse cx="643.57" cy="35.04" rx="2.2" ry="1.7" fill="#f00000" stroke="#f00000" stroke-width="0.3"/>
<ellipse cx="645.27" cy="33.82" rx="2.2" ry="1.7" fill="#f00000" stroke="#f00000" stroke-width="0.3"/>
<ellipse cx="646.94" cy="32.46" rx="2.2" ry="1.7" fill="#f00000" stroke="#f00000" stroke-width="0.3"/>
<ellipse cx="648.58" cy="31.13" rx="2.2" ry="1.7" fill="#f00000" stroke="#f00000" stroke-width="0.3"/>
<ellipse cx="650.18" cy="30.06" rx="2.2" ry="1.7" fill="#f00000" stroke="#f00000" stroke-width="0.3"/>
<ellipse cx="651.76" cy="29.13" rx="2.2" ry="1.7" fill="#f00000" stroke="#f00000" stroke-width="0.3"/>
<ellipse cx="653.31" cy="28.21" rx="2.2" ry="1.7" fill="#f00000" stroke="#f00000" stroke-width="0.3"/>
<ellipse cx="654.83" cy="27.32" rx="2.2" ry="1.7" fill="#f00000" stroke="#f00000" stroke-width="0.3"/>
<ellipse cx="656.32" cy="26.43" rx="2.2" ry="1.7" fill="#f00000" stroke="#f00000" stroke-width="0.3"/>
<ellipse cx="657.79" cy="25.57" rx="2.2" ry="1.7" fill="#f00000" stroke="#f00000" stroke-width="0.3"/>
<ellipse cx="659.23" cy="24.52" rx="2.2" ry="1.7" fill="#f00000" stroke="#f00000" stroke-width="0.3"/>
<ellipse cx="660.65" cy="23.48" rx="2.2" ry="1.7" fill="#f00000" stroke="#f00000" stroke-width="0.3"/>
<ellipse cx="662.05" cy="22.45" rx="2.2" ry="1.7" fill="#f00000" stroke="#f00000" stroke-width="0.3"/>
<ellipse cx="418.3" cy="177.8" rx="2.2" ry="1.7" fill="#0000f0" stroke="#0000f0" stroke-width="0.3"/>
<ellipse cx="440.7" cy="174" rx="2.2" ry="1.7" fill="#0000f0" stroke="#0000f0" stroke-width="0.3"/>
<ellipse cx="457.4" cy="165.2" rx="2.2" ry="1.7" fill="#0000f0" stroke="#0000f0" stroke-width="0.3"/>
<ellipse cx="471.4" cy="164.1" rx="2.2" ry="1.7" fill="#0000f0" stroke="#0000f0" stroke-width="0.3"/>
<ellipse cx="483.1" cy="157.9" rx="2.2" ry="1.7" fill="#0000f0" stroke="#0000f0" stroke-width="0.3"/>
<ellipse cx="494" cy="149.3" rx="2.2" ry="1.7" fill="#0000f0" stroke="#0000f0" stroke-width="0.3"/>
<ellipse cx="503.2" cy="144.5" rx="2.2" ry="1.7" fill="#0000f0" stroke="#0000f0" stroke-width="0.3"/>
<ellipse cx="511.5" cy="138" rx="2.2" ry="1.7" fill="#0000f0" stroke="#0000f0" stroke-width="0.3"/>
<ellipse cx="519.4" cy="130.7" rx="2.2" ry="1.7" fill="#0000f0" stroke="#0000f0" stroke-width="0.3"/>
<ellipse cx="526.4" cy="126.6" rx="2.2" ry="1.7" fill="#0000f0" stroke="#0000f0" stroke-width="0.3"/>
<ellipse cx="532.8" cy="120.7" rx="2.2" ry="1.7" fill="#0000f0" stroke="#0000f0" stroke-width="0.3"/>
<ellipse cx="538.7" cy="118" rx="2.2" ry="1.7" fill="#0000f0" stroke="#0000f0" stroke-width="0.3"/>
<ellipse cx="544.4" cy="109.5" rx="2.2" ry="1.7" fill="#0000f0" stroke="#0000f0" stroke-width="0.3"/>
<ellipse cx="549.6" cy="106.9" rx="2.2" ry="1.7" fill="#0000f0" stroke="#0000f0" stroke-width="0.3"/>
<ellipse cx="554.7" cy="101.2" rx="2.2" ry="1.7" fill="#0000f0" stroke="#0000f0" stroke-width="0.3"/>
<ellipse cx="559.5" cy="96.8" rx="2.2" ry="1.7" fill="#0000f0" stroke="#0000f0" stroke-width="0.3"/>
<ellipse cx="563.9" cy="93.3" rx="2.2" ry="1.7" fill="#0000f0" stroke="#0000f0" stroke-width="0.3"/>
<ellipse cx="568.2" cy="90" rx="2.2" ry="1.7" fill="#0000f0" stroke="#0000f0" stroke-width="0.3"/>
<ellipse cx="572.29" cy="87.31" rx="2.2" ry="1.7" fill="#0000f0" stroke="#0000f0" stroke-width="0.3"/>
<ellipse cx="576.19" cy="85.4" rx="2.2" ry="1.7" fill="#0000f0" stroke="#0000f0" stroke-width="0.3"/>
<ellipse cx="579.92" cy="82.33" rx="2.2" ry="1.7" fill="#0000f0" stroke="#0000f0" stroke-width="0.3"/>
<ellipse cx="583.49" cy="79.51" rx="2.2" ry="1.7" fill="#0000f0" stroke="#0000f0" stroke-width="0.3"/>
<ellipse cx="586.92" cy="76.87" rx="2.2" ry="1.7" fill="#0000f0" stroke="#0000f0" stroke-width="0.3"/>
<ellipse cx="590.22" cy="74.34" rx="2.2" ry="1.7" fill="#0000f0" stroke="#0000f0" stroke-width="0.3"/>
<ellipse cx="593.39" cy="71.99" rx="2.2" ry="1.7" fill="#0000f0" stroke="#0000f0" stroke-width="0.3"/>
<ellipse cx="596.44" cy="70.35" rx="2.2" ry="1.7" fill="#0000f0" stroke="#0000f0" stroke-width="0.3"/>
<ellipse cx="599.39" cy="68.76" rx="2.2" ry="1.7" fill="#0000f0" stroke="#0000f0" stroke-width="0.3"/>
<ellipse cx="602.24" cy="66.87" rx="2.2" ry="1.7" fill="#0000f0" stroke="#0000f0" stroke-width="0.3"/>
<ellipse cx="605" cy="65.03" rx="2.2" ry="1.7" fill="#0000f0" stroke="#0000f0" stroke-width="0.3"/>
<ellipse cx="607.67" cy="63.22" rx="2.2" ry="1.7" fill="#0000f0" stroke="#0000f0" stroke-width="0.3"/>
<ellipse cx="610.26" cy="61.45" rx="2.2" ry="1.7" fill="#0000f0" stroke="#0000f0" stroke-width="0.3"/>
<ellipse cx="612.77" cy="59.87" rx="2.2" ry="1.7" fill="#0000f0" stroke="#0000f0" stroke-width="0.3"/>
<ellipse cx="615.21" cy="58.55" rx="2.2" ry="1.7" fill="#0000f0" stroke="#0000f0" stroke-width="0.3"/>
<ellipse cx="617.59" cy="57.27" rx="2.2" ry="1.7" fill="#0000f0" stroke="#0000f0" stroke-width="0.3"/>
<ellipse cx="619.89" cy="55.86" rx="2.2" ry="1.7" fill="#0000f0" stroke="#0000f0" stroke-width="0.3"/>
<ellipse cx="622.14" cy="54.24" rx="2.2" ry="1.7" fill="#0000f0" stroke="#0000f0" stroke-width="0.3"/>
<ellipse cx="624.33" cy="52.7" rx="2.2" ry="1.7" fill="#0000f0" stroke="#0000f0" stroke-width="0.3"/>
<ellipse cx="626.46" cy="51.25" rx="2.2" ry="1.7" fill="#0000f0" stroke="#0000f0" stroke-width="0.3"/>
<ellipse cx="628.54" cy="49.81" rx="2.2" ry="1.7" fill="#0000f0" stroke="#0000f0" stroke-width="0.3"/>
<ellipse cx="630.57" cy="48.38" rx="2.2" ry="1.7" fill="#0000f0" stroke="#0000f0" stroke-width="0.3"/>
<ellipse cx="632.55" cy="46.9" rx="2.2" ry="1.7" fill="#0000f0" stroke="#0000f0" stroke-width="0.3"/>
<ellipse cx="634.49" cy="45.18" rx="2.2" ry="1.7" fill="#0000f0" stroke="#0000f0" stroke-width="0.3"/>
<ellipse cx="636.39" cy="43.5" rx="2.2" ry="1.7" fill="#0000f0" stroke="#0000f0" stroke-width="0.3"/>
<ellipse cx="638.24" cy="41.85" rx="2.2" ry="1.7" fill="#0000f0" stroke="#0000f0" stroke-width="0.3"/>
<ellipse cx="640.05" cy="40.23" rx="2.2" ry="1.7" fill="#0000f0" stroke="#0000f0" stroke-width="0.3"/>
<ellipse cx="641.83" cy="38.65" rx="2.2" ry="1.7" fill="#0000f0" stroke="#0000f0" stroke-width="0.3"/>
<ellipse cx="643.57" cy="37.1" rx="2.2" ry="1.7" fill="#0000f0" stroke="#0000f0" stroke-width="0.3"/>
<ellipse cx="645.27" cy="35.66" rx="2.2" ry="1.7" fill="#0000f0" stroke="#0000f0" stroke-width="0.3"/>
<ellipse cx="646.94" cy="34.46" rx="2.2" ry="1.7" fill="#0000f0" stroke="#0000f0" stroke-width="0.3"/>
<ellipse cx="648.58" cy="33.28" rx="2.2" ry="1.7" fill="#0000f0" stroke="#0000f0" stroke-width="0.3"/>
<ellipse cx="650.18" cy="32.26" rx="2.2" ry="1.7" fill="#0000f0" stroke="#0000f0" stroke-width="0.3"/>
<ellipse cx="651.76" cy="31.33" rx="2.2" ry="1.7" fill="#0000f0" stroke="#0000f0" stroke-width="0.3"/>
<ellipse cx="653.31" cy="30.41" rx="2.2" ry="1.7" fill="#0000f0" stroke="#0000f0" stroke-width="0.3"/>
<ellipse cx="654.83" cy="29.52" rx="2.2" ry="1.7" fill="#0000f0" stroke="#0000f0" stroke-width="0.3"/>
<ellipse cx="656.32" cy="28.63" rx="2.2" ry="1.7" fill="#0000f0" stroke="#0000f0" stroke-width="0.3"/>
<ellipse cx="657.79" cy="27.77" rx="2.2" ry="1.7" fill="#0000f0" stroke="#0000f0" stroke-width="0.3"/>
<ellipse cx="659.23" cy="26.63" rx="2.2" ry="1.7" fill="#0000f0" stroke="#0000f0" stroke-width="0.3"/>
<ellipse cx="660.65" cy="25.48" rx="2.2" ry="1.7" fill="#0000f0" stroke="#0000f0" stroke-width="0.3"/>
<ellipse cx="662.05" cy="24.35" rx="2.2" ry="1.7" fill="#0000f0" stroke="#0000f0" stroke-width="0.3"/>
<ellipse cx="663.42" cy="23.25" rx="2.2" ry="1.7" fill="#0000f0" stroke="#0000f0" stroke-width="0.3"/>
<path d="M398.03 181.1v2 M398.03 2.7v1.5 M401.97 181.1v2 M401.97 2.7v1.5 M405.74 181.1v2 M405.74 2.7v1.5 M409.34 181.1v2 M409.34 2.7v1.5 M412.8 181.1v2 M412.8 2.7v1.5 M416.12 181.1v2 M416.12 2.7v1.5 M419.32 181.1v2 M419.32 2.7v1.5 M422.4 181.1v2 M422.4 2.7v1.5 M425.37 181.1v2 M425.37 2.7v1.5 M433.71 181.1v2 M433.71 2.7v1.5 M438.84 181.1v2 M438.84 2.7v1.5 M443.68 181.1v2 M443.68 2.7v1.5 M448.26 181.1v2 M448.26 2.7v1.5 M452.6 181.1v2 M452.6 2.7v1.5 M456.73 181.1v2 M456.73 2.7v1.5 M460.67 181.1v2 M460.67 2.7v1.5 M464.44 181.1v2 M464.44 2.7v1.5 M468.04 181.1v2 M468.04 2.7v1.5 M475.63 181.1v2 M475.63 2.7v1.5 M479.57 181.1v2 M479.57 2.7v1.5 M483.34 181.1v2 M483.34 2.7v1.5 M486.94 181.1v2 M486.94 2.7v1.5 M490.4 181.1v2 M490.4 2.7v1.5 M493.72 181.1v2 M493.72 2.7v1.5 M496.92 181.1v2 M496.92 2.7v1.5 M499.99 181.1v2 M499.99 2.7v1.5 M502.97 181.1v2 M502.97 2.7v1.5 M513.91 181.1v2 M513.91 2.7v1.5 M521.28 181.1v2 M521.28 2.7v1.5 M528.06 181.1v2 M528.06 2.7v1.5 M534.33 181.1v2 M534.33 2.7v1.5 M540.18 181.1v2 M540.18 2.7v1.5 M545.64 181.1v2 M545.64 2.7v1.5 M550.78 181.1v2 M550.78 2.7v1.5 M555.62 181.1v2 M555.62 2.7v1.5 M560.19 181.1v2 M560.19 2.7v1.5 M570 181.1v2 M570 2.7v1.5 M575.14 181.1v2 M575.14 2.7v1.5 M579.98 181.1v2 M579.98 2.7v1.5 M584.56 181.1v2 M584.56 2.7v1.5 M588.9 181.1v2 M588.9 2.7v1.5 M593.03 181.1v2 M593.03 2.7v1.5 M596.97 181.1v2 M596.97 2.7v1.5 M600.74 181.1v2 M600.74 2.7v1.5 M604.34 181.1v2 M604.34 2.7v1.5 M611.12 181.1v2 M611.12 2.7v1.5 M614.32 181.1v2 M614.32 2.7v1.5 M617.4 181.1v2 M617.4 2.7v1.5 M620.37 181.1v2 M620.37 2.7v1.5 M623.24 181.1v2 M623.24 2.7v1.5 M626.02 181.1v2 M626.02 2.7v1.5 M628.71 181.1v2 M628.71 2.7v1.5 M631.31 181.1v2 M631.31 2.7v1.5 M633.84 181.1v2 M633.84 2.7v1.5 M639.85 181.1v2 M639.85 2.7v1.5 M643.26 181.1v2 M643.26 2.7v1.5 M646.54 181.1v2 M646.54 2.7v1.5 M649.69 181.1v2 M649.69 2.7v1.5 M652.74 181.1v2 M652.74 2.7v1.5 M655.67 181.1v2 M655.67 2.7v1.5 M658.51 181.1v2 M658.51 2.7v1.5 M661.26 181.1v2 M661.26 2.7v1.5 M663.92 181.1v2 M663.92 2.7v1.5 M394.2 154.97h-2 M681 154.97h-2 M394.2 150.01h-2 M681 150.01h-2 M394.2 145.45h-2 M681 145.45h-2 M394.2 141.23h-2 M681 141.23h-2 M394.2 137.3h-2 M681 137.3h-2 M394.2 133.62h-2 M681 133.62h-2 M394.2 130.17h-2 M681 130.17h-2 M394.2 126.91h-2 M681 126.91h-2 M394.2 123.83h-2 M681 123.83h-2 M394.2 118.12h-2 M681 118.12h-2 M394.2 115.47h-2 M681 115.47h-2 M394.2 112.94h-2 M681 112.94h-2 M394.2 110.52h-2 M681 110.52h-2 M394.2 108.19h-2 M681 108.19h-2 M394.2 105.96h-2 M681 105.96h-2 M394.2 103.81h-2 M681 103.81h-2 M394.2 101.73h-2 M681 101.73h-2 M394.2 99.73h-2 M681 99.73h-2 M394.2 94.12h-2 M681 94.12h-2 M394.2 90.67h-2 M681 90.67h-2 M394.2 87.41h-2 M681 87.41h-2 M394.2 84.33h-2 M681 84.33h-2 M394.2 81.41h-2 M681 81.41h-2 M394.2 78.63h-2 M681 78.63h-2 M394.2 75.98h-2 M681 75.98h-2 M394.2 73.45h-2 M681 73.45h-2 M394.2 71.02h-2 M681 71.02h-2 M394.2 65.38h-2 M681 65.38h-2 M394.2 62.24h-2 M681 62.24h-2 M394.2 59.26h-2 M681 59.26h-2 M394.2 56.44h-2 M681 56.44h-2 M394.2 53.75h-2 M681 53.75h-2 M394.2 51.17h-2 M681 51.17h-2 M394.2 48.71h-2 M681 48.71h-2 M394.2 46.36h-2 M681 46.36h-2 M394.2 44.09h-2 M681 44.09h-2 M394.2 40.51h-2 M681 40.51h-2 M394.2 39.13h-2 M681 39.13h-2 M394.2 37.79h-2 M681 37.79h-2 M394.2 36.48h-2 M681 36.48h-2 M394.2 35.2h-2 M681 35.2h-2 M394.2 33.95h-2 M681 33.95h-2 M394.2 32.73h-2 M681 32.73h-2 M394.2 31.53h-2 M681 31.53h-2 M394.2 30.35h-2 M681 30.35h-2 M394.2 26.42h-2 M681 26.42h-2 M394.2 23.77h-2 M681 23.77h-2 M394.2 21.24h-2 M681 21.24h-2 M394.2 18.81h-2 M681 18.81h-2 M394.2 16.49h-2 M681 16.49h-2 M394.2 14.25h-2 M681 14.25h-2 M394.2 12.1h-2 M681 12.1h-2 M394.2 10.03h-2 M681 10.03h-2 M394.2 8.03h-2 M681 8.03h-2" stroke="#000" stroke-width="1.0" fill="none"/>
<path d="M393.9 181.1v3.5 M393.9 2.7v3 M428.24 181.1v3.5 M428.24 2.7v3 M471.5 181.1v3.5 M471.5 2.7v3 M505.84 181.1v3.5 M505.84 2.7v3 M564.54 181.1v3.5 M564.54 2.7v3 M607.8 181.1v3.5 M607.8 2.7v3 M636.29 181.1v3.5 M636.29 2.7v3 M666.5 181.1v3.5 M666.5 2.7v3 M394.2 160.4h-4 M681 160.4h-4 M394.2 120.9h-4 M681 120.9h-4 M394.2 97.8h-4 M681 97.8h-4 M394.2 68.7h-4 M681 68.7h-4 M394.2 41.91h-4 M681 41.91h-4 M394.2 29.2h-4 M681 29.2h-4 M394.2 6.1h-4 M681 6.1h-4" stroke="#000" stroke-width="1.2" fill="none"/>
<rect x="394.2" y="2.7" width="286.8" height="178.4" fill="none" stroke="#000" stroke-width="1.4"/>
<text transform="translate(393.9,193.7) scale(1.17,1)" font-family="'Liberation Serif', serif" font-size="7.8" font-weight="bold" font-style="normal" fill="#000" text-anchor="middle" stroke="#000" stroke-width="0.25">400</text>
<text transform="translate(428.24,193.7) scale(1.17,1)" font-family="'Liberation Serif', serif" font-size="7.8" font-weight="bold" font-style="normal" fill="#000" text-anchor="middle" stroke="#000" stroke-width="0.25">600</text>
<text transform="translate(471.5,193.7) scale(1.17,1)" font-family="'Liberation Serif', serif" font-size="7.8" font-weight="bold" font-style="normal" fill="#000" text-anchor="middle" stroke="#000" stroke-width="0.25">1000</text>
<text transform="translate(505.84,193.7) scale(1.17,1)" font-family="'Liberation Serif', serif" font-size="7.8" font-weight="bold" font-style="normal" fill="#000" text-anchor="middle" stroke="#000" stroke-width="0.25">1500</text>
<text transform="translate(564.54,193.7) scale(1.17,1)" font-family="'Liberation Serif', serif" font-size="7.8" font-weight="bold" font-style="normal" fill="#000" text-anchor="middle" stroke="#000" stroke-width="0.25">3000</text>
<text transform="translate(607.8,193.7) scale(1.17,1)" font-family="'Liberation Serif', serif" font-size="7.8" font-weight="bold" font-style="normal" fill="#000" text-anchor="middle" stroke="#000" stroke-width="0.25">5000</text>
<text transform="translate(636.29,193.7) scale(1.17,1)" font-family="'Liberation Serif', serif" font-size="7.8" font-weight="bold" font-style="normal" fill="#000" text-anchor="middle" stroke="#000" stroke-width="0.25">7000</text>
<text transform="translate(666.5,193.7) scale(1.17,1)" font-family="'Liberation Serif', serif" font-size="7.8" font-weight="bold" font-style="normal" fill="#000" text-anchor="middle" stroke="#000" stroke-width="0.25">10000</text>
<text transform="translate(386,163.1) scale(1.17,1)" font-family="'Liberation Serif', serif" font-size="7.8" font-weight="bold" font-style="normal" fill="#000" text-anchor="end" stroke="#000" stroke-width="0.25">10</text>
<text transform="translate(386,123.6) scale(1.17,1)" font-family="'Liberation Serif', serif" font-size="7.8" font-weight="bold" font-style="normal" fill="#000" text-anchor="end" stroke="#000" stroke-width="0.25">20</text>
<text transform="translate(386,100.5) scale(1.17,1)" font-family="'Liberation Serif', serif" font-size="7.8" font-weight="bold" font-style="normal" fill="#000" text-anchor="end" stroke="#000" stroke-width="0.25">30</text>
<text transform="translate(386,71.4) scale(1.17,1)" font-family="'Liberation Serif', serif" font-size="7.8" font-weight="bold" font-style="normal" fill="#000" text-anchor="end" stroke="#000" stroke-width="0.25">50</text>
<text transform="translate(386,44.61) scale(1.17,1)" font-family="'Liberation Serif', serif" font-size="7.8" font-weight="bold" font-style="normal" fill="#000" text-anchor="end" stroke="#000" stroke-width="0.25">80</text>
<text transform="translate(386,31.9) scale(1.17,1)" font-family="'Liberation Serif', serif" font-size="7.8" font-weight="bold" font-style="normal" fill="#000" text-anchor="end" stroke="#000" stroke-width="0.25">100</text>
<text transform="translate(386,8.8) scale(1.17,1)" font-family="'Liberation Serif', serif" font-size="7.8" font-weight="bold" font-style="normal" fill="#000" text-anchor="end" stroke="#000" stroke-width="0.25">150</text>
<rect x="619.4" y="150.4" width="53.6" height="27.1" fill="#fff" stroke="#000" stroke-width="0.9"/>
<ellipse cx="630.7" cy="155.3" rx="2.2" ry="1.7" fill="#000" stroke="#000" stroke-width="0.3"/>
<text transform="translate(642.4,158)" font-family="'Liberation Serif', serif" font-size="7.2" font-weight="bold" font-style="normal" fill="#000" text-anchor="start" stroke="#000" stroke-width="0.15" textLength="28.8" lengthAdjust="spacingAndGlyphs">S.R. = 3</text>
<ellipse cx="630.7" cy="163.8" rx="2.2" ry="1.7" fill="#f00000" stroke="#f00000" stroke-width="0.3"/>
<text transform="translate(642.4,166.5)" font-family="'Liberation Serif', serif" font-size="7.2" font-weight="bold" font-style="normal" fill="#000" text-anchor="start" stroke="#000" stroke-width="0.15" textLength="28.8" lengthAdjust="spacingAndGlyphs">S.R. = 4</text>
<ellipse cx="630.7" cy="172.3" rx="2.2" ry="1.7" fill="#0000f0" stroke="#0000f0" stroke-width="0.3"/>
<text transform="translate(642.4,175)" font-family="'Liberation Serif', serif" font-size="7.2" font-weight="bold" font-style="normal" fill="#000" text-anchor="start" stroke="#000" stroke-width="0.15" textLength="28.8" lengthAdjust="spacingAndGlyphs">S.R. = 5</text>
<text transform="translate(366.4,91.7) rotate(-90)" font-family="'Liberation Serif', serif" font-size="10.5" font-weight="bold" font-style="italic" fill="#000" text-anchor="middle" textLength="11.2" lengthAdjust="spacingAndGlyphs">Nu</text>
<text transform="translate(537.3,207.6)" font-family="'Liberation Serif', serif" font-size="9.6" font-weight="bold" font-style="italic" fill="#000" text-anchor="middle" textLength="13" lengthAdjust="spacingAndGlyphs">Re</text>
<text transform="translate(534.2,224.3)" font-family="'Liberation Serif', serif" font-size="9.4" font-weight="normal" font-style="normal" fill="#000" text-anchor="middle" textLength="12.3" lengthAdjust="spacingAndGlyphs">(b)</text>
<rect x="62.65" y="410.5" width="3.1" height="2.6" fill="none" stroke="#222" stroke-width="0.9"/>
<rect x="85.35" y="398.6" width="3.1" height="2.6" fill="none" stroke="#222" stroke-width="0.9"/>
<rect x="103.35" y="396.7" width="3.1" height="2.6" fill="none" stroke="#222" stroke-width="0.9"/>
<rect x="118.05" y="389.4" width="3.1" height="2.6" fill="none" stroke="#222" stroke-width="0.9"/>
<rect x="130.95" y="383.5" width="3.1" height="2.6" fill="none" stroke="#222" stroke-width="0.9"/>
<rect x="141.85" y="379.9" width="3.1" height="2.6" fill="none" stroke="#222" stroke-width="0.9"/>
<rect x="151.45" y="374.7" width="3.1" height="2.6" fill="none" stroke="#222" stroke-width="0.9"/>
<rect x="159.95" y="368.1" width="3.1" height="2.6" fill="none" stroke="#222" stroke-width="0.9"/>
<rect x="168.25" y="366.2" width="3.1" height="2.6" fill="none" stroke="#222" stroke-width="0.9"/>
<rect x="175.25" y="356.9" width="3.1" height="2.6" fill="none" stroke="#222" stroke-width="0.9"/>
<rect x="181.75" y="356" width="3.1" height="2.6" fill="none" stroke="#222" stroke-width="0.9"/>
<rect x="187.89" y="354.76" width="3.1" height="2.6" fill="none" stroke="#222" stroke-width="0.9"/>
<rect x="193.61" y="351.39" width="3.1" height="2.6" fill="none" stroke="#222" stroke-width="0.9"/>
<rect x="198.96" y="348.21" width="3.1" height="2.6" fill="none" stroke="#222" stroke-width="0.9"/>
<rect x="204" y="344.43" width="3.1" height="2.6" fill="none" stroke="#222" stroke-width="0.9"/>
<rect x="208.75" y="340.86" width="3.1" height="2.6" fill="none" stroke="#222" stroke-width="0.9"/>
<rect x="213.25" y="337.48" width="3.1" height="2.6" fill="none" stroke="#222" stroke-width="0.9"/>
<rect x="217.53" y="334.27" width="3.1" height="2.6" fill="none" stroke="#222" stroke-width="0.9"/>
<rect x="221.59" y="331.22" width="3.1" height="2.6" fill="none" stroke="#222" stroke-width="0.9"/>
<rect x="225.47" y="328.31" width="3.1" height="2.6" fill="none" stroke="#222" stroke-width="0.9"/>
<rect x="229.18" y="325.53" width="3.1" height="2.6" fill="none" stroke="#222" stroke-width="0.9"/>
<rect x="232.73" y="322.86" width="3.1" height="2.6" fill="none" stroke="#222" stroke-width="0.9"/>
<rect x="236.14" y="320.31" width="3.1" height="2.6" fill="none" stroke="#222" stroke-width="0.9"/>
<rect x="239.42" y="317.85" width="3.1" height="2.6" fill="none" stroke="#222" stroke-width="0.9"/>
<rect x="242.57" y="315.98" width="3.1" height="2.6" fill="none" stroke="#222" stroke-width="0.9"/>
<rect x="245.61" y="314.24" width="3.1" height="2.6" fill="none" stroke="#222" stroke-width="0.9"/>
<rect x="248.55" y="312.56" width="3.1" height="2.6" fill="none" stroke="#222" stroke-width="0.9"/>
<rect x="251.38" y="310.93" width="3.1" height="2.6" fill="none" stroke="#222" stroke-width="0.9"/>
<rect x="254.13" y="309.37" width="3.1" height="2.6" fill="none" stroke="#222" stroke-width="0.9"/>
<rect x="256.78" y="308.23" width="3.1" height="2.6" fill="none" stroke="#222" stroke-width="0.9"/>
<rect x="259.36" y="307.13" width="3.1" height="2.6" fill="none" stroke="#222" stroke-width="0.9"/>
<rect x="261.86" y="306.07" width="3.1" height="2.6" fill="none" stroke="#222" stroke-width="0.9"/>
<rect x="264.29" y="305.03" width="3.1" height="2.6" fill="none" stroke="#222" stroke-width="0.9"/>
<rect x="266.65" y="304.03" width="3.1" height="2.6" fill="none" stroke="#222" stroke-width="0.9"/>
<rect x="268.94" y="302.9" width="3.1" height="2.6" fill="none" stroke="#222" stroke-width="0.9"/>
<rect x="271.18" y="301.42" width="3.1" height="2.6" fill="none" stroke="#222" stroke-width="0.9"/>
<rect x="273.36" y="299.97" width="3.1" height="2.6" fill="none" stroke="#222" stroke-width="0.9"/>
<rect x="275.48" y="298.56" width="3.1" height="2.6" fill="none" stroke="#222" stroke-width="0.9"/>
<rect x="277.55" y="297.18" width="3.1" height="2.6" fill="none" stroke="#222" stroke-width="0.9"/>
<rect x="279.57" y="295.84" width="3.1" height="2.6" fill="none" stroke="#222" stroke-width="0.9"/>
<rect x="281.54" y="294.53" width="3.1" height="2.6" fill="none" stroke="#222" stroke-width="0.9"/>
<rect x="283.47" y="293.25" width="3.1" height="2.6" fill="none" stroke="#222" stroke-width="0.9"/>
<rect x="285.36" y="291.99" width="3.1" height="2.6" fill="none" stroke="#222" stroke-width="0.9"/>
<rect x="287.2" y="290.8" width="3.1" height="2.6" fill="none" stroke="#222" stroke-width="0.9"/>
<rect x="289.01" y="289.75" width="3.1" height="2.6" fill="none" stroke="#222" stroke-width="0.9"/>
<rect x="290.77" y="288.71" width="3.1" height="2.6" fill="none" stroke="#222" stroke-width="0.9"/>
<rect x="292.51" y="287.69" width="3.1" height="2.6" fill="none" stroke="#222" stroke-width="0.9"/>
<rect x="294.2" y="286.7" width="3.1" height="2.6" fill="none" stroke="#222" stroke-width="0.9"/>
<rect x="295.86" y="285.72" width="3.1" height="2.6" fill="none" stroke="#222" stroke-width="0.9"/>
<rect x="297.49" y="284.77" width="3.1" height="2.6" fill="none" stroke="#222" stroke-width="0.9"/>
<rect x="299.09" y="283.83" width="3.1" height="2.6" fill="none" stroke="#222" stroke-width="0.9"/>
<rect x="300.66" y="282.91" width="3.1" height="2.6" fill="none" stroke="#222" stroke-width="0.9"/>
<rect x="302.2" y="282.01" width="3.1" height="2.6" fill="none" stroke="#222" stroke-width="0.9"/>
<rect x="303.72" y="281.13" width="3.1" height="2.6" fill="none" stroke="#222" stroke-width="0.9"/>
<rect x="305.2" y="280.26" width="3.1" height="2.6" fill="none" stroke="#222" stroke-width="0.9"/>
<rect x="306.67" y="279.41" width="3.1" height="2.6" fill="none" stroke="#222" stroke-width="0.9"/>
<rect x="308.1" y="278.57" width="3.1" height="2.6" fill="none" stroke="#222" stroke-width="0.9"/>
<ellipse cx="64.9" cy="415.9" rx="2.1" ry="1.55" fill="none" stroke="#e01010" stroke-width="0.9"/>
<ellipse cx="87.5" cy="405" rx="2.1" ry="1.55" fill="none" stroke="#e01010" stroke-width="0.9"/>
<ellipse cx="104" cy="402" rx="2.1" ry="1.55" fill="none" stroke="#e01010" stroke-width="0.9"/>
<ellipse cx="118.3" cy="394.5" rx="2.1" ry="1.55" fill="none" stroke="#e01010" stroke-width="0.9"/>
<ellipse cx="130.3" cy="387.7" rx="2.1" ry="1.55" fill="none" stroke="#e01010" stroke-width="0.9"/>
<ellipse cx="140.8" cy="383.6" rx="2.1" ry="1.55" fill="none" stroke="#e01010" stroke-width="0.9"/>
<ellipse cx="150.3" cy="379" rx="2.1" ry="1.55" fill="none" stroke="#e01010" stroke-width="0.9"/>
<ellipse cx="158.4" cy="372" rx="2.1" ry="1.55" fill="none" stroke="#e01010" stroke-width="0.9"/>
<ellipse cx="166.3" cy="369" rx="2.1" ry="1.55" fill="none" stroke="#e01010" stroke-width="0.9"/>
<ellipse cx="173.3" cy="362" rx="2.1" ry="1.55" fill="none" stroke="#e01010" stroke-width="0.9"/>
<ellipse cx="179.8" cy="359.3" rx="2.1" ry="1.55" fill="none" stroke="#e01010" stroke-width="0.9"/>
<ellipse cx="185.5" cy="356.7" rx="2.1" ry="1.55" fill="none" stroke="#e01010" stroke-width="0.9"/>
<ellipse cx="190.8" cy="352.3" rx="2.1" ry="1.55" fill="none" stroke="#e01010" stroke-width="0.9"/>
<ellipse cx="196.9" cy="348.8" rx="2.1" ry="1.55" fill="none" stroke="#e01010" stroke-width="0.9"/>
<ellipse cx="202.15" cy="347.08" rx="2.1" ry="1.55" fill="none" stroke="#e01010" stroke-width="0.9"/>
<ellipse cx="207.09" cy="343.37" rx="2.1" ry="1.55" fill="none" stroke="#e01010" stroke-width="0.9"/>
<ellipse cx="211.76" cy="339.86" rx="2.1" ry="1.55" fill="none" stroke="#e01010" stroke-width="0.9"/>
<ellipse cx="216.19" cy="336.54" rx="2.1" ry="1.55" fill="none" stroke="#e01010" stroke-width="0.9"/>
<ellipse cx="220.39" cy="333.38" rx="2.1" ry="1.55" fill="none" stroke="#e01010" stroke-width="0.9"/>
<ellipse cx="224.4" cy="330.38" rx="2.1" ry="1.55" fill="none" stroke="#e01010" stroke-width="0.9"/>
<ellipse cx="228.22" cy="327.51" rx="2.1" ry="1.55" fill="none" stroke="#e01010" stroke-width="0.9"/>
<ellipse cx="231.88" cy="324.77" rx="2.1" ry="1.55" fill="none" stroke="#e01010" stroke-width="0.9"/>
<ellipse cx="235.38" cy="322.14" rx="2.1" ry="1.55" fill="none" stroke="#e01010" stroke-width="0.9"/>
<ellipse cx="238.75" cy="319.61" rx="2.1" ry="1.55" fill="none" stroke="#e01010" stroke-width="0.9"/>
<ellipse cx="241.99" cy="317.31" rx="2.1" ry="1.55" fill="none" stroke="#e01010" stroke-width="0.9"/>
<ellipse cx="245.1" cy="315.52" rx="2.1" ry="1.55" fill="none" stroke="#e01010" stroke-width="0.9"/>
<ellipse cx="248.11" cy="313.8" rx="2.1" ry="1.55" fill="none" stroke="#e01010" stroke-width="0.9"/>
<ellipse cx="251.01" cy="312.13" rx="2.1" ry="1.55" fill="none" stroke="#e01010" stroke-width="0.9"/>
<ellipse cx="253.82" cy="310.52" rx="2.1" ry="1.55" fill="none" stroke="#e01010" stroke-width="0.9"/>
<ellipse cx="256.53" cy="309.1" rx="2.1" ry="1.55" fill="none" stroke="#e01010" stroke-width="0.9"/>
<ellipse cx="259.16" cy="307.98" rx="2.1" ry="1.55" fill="none" stroke="#e01010" stroke-width="0.9"/>
<ellipse cx="261.71" cy="306.89" rx="2.1" ry="1.55" fill="none" stroke="#e01010" stroke-width="0.9"/>
<ellipse cx="264.19" cy="305.84" rx="2.1" ry="1.55" fill="none" stroke="#e01010" stroke-width="0.9"/>
<ellipse cx="266.6" cy="304.81" rx="2.1" ry="1.55" fill="none" stroke="#e01010" stroke-width="0.9"/>
<ellipse cx="268.94" cy="303.81" rx="2.1" ry="1.55" fill="none" stroke="#e01010" stroke-width="0.9"/>
<ellipse cx="271.21" cy="302.52" rx="2.1" ry="1.55" fill="none" stroke="#e01010" stroke-width="0.9"/>
<ellipse cx="273.43" cy="301.03" rx="2.1" ry="1.55" fill="none" stroke="#e01010" stroke-width="0.9"/>
<ellipse cx="275.59" cy="299.58" rx="2.1" ry="1.55" fill="none" stroke="#e01010" stroke-width="0.9"/>
<ellipse cx="277.69" cy="298.1" rx="2.1" ry="1.55" fill="none" stroke="#e01010" stroke-width="0.9"/>
<ellipse cx="279.75" cy="296.65" rx="2.1" ry="1.55" fill="none" stroke="#e01010" stroke-width="0.9"/>
<ellipse cx="281.75" cy="295.23" rx="2.1" ry="1.55" fill="none" stroke="#e01010" stroke-width="0.9"/>
<ellipse cx="283.71" cy="293.84" rx="2.1" ry="1.55" fill="none" stroke="#e01010" stroke-width="0.9"/>
<ellipse cx="285.63" cy="292.49" rx="2.1" ry="1.55" fill="none" stroke="#e01010" stroke-width="0.9"/>
<ellipse cx="287.5" cy="291.17" rx="2.1" ry="1.55" fill="none" stroke="#e01010" stroke-width="0.9"/>
<ellipse cx="289.33" cy="289.95" rx="2.1" ry="1.55" fill="none" stroke="#e01010" stroke-width="0.9"/>
<ellipse cx="291.12" cy="288.82" rx="2.1" ry="1.55" fill="none" stroke="#e01010" stroke-width="0.9"/>
<ellipse cx="292.88" cy="287.72" rx="2.1" ry="1.55" fill="none" stroke="#e01010" stroke-width="0.9"/>
<ellipse cx="294.6" cy="286.64" rx="2.1" ry="1.55" fill="none" stroke="#e01010" stroke-width="0.9"/>
<ellipse cx="296.28" cy="285.57" rx="2.1" ry="1.55" fill="none" stroke="#e01010" stroke-width="0.9"/>
<ellipse cx="297.94" cy="284.54" rx="2.1" ry="1.55" fill="none" stroke="#e01010" stroke-width="0.9"/>
<ellipse cx="299.56" cy="283.52" rx="2.1" ry="1.55" fill="none" stroke="#e01010" stroke-width="0.9"/>
<ellipse cx="301.15" cy="282.51" rx="2.1" ry="1.55" fill="none" stroke="#e01010" stroke-width="0.9"/>
<ellipse cx="302.71" cy="281.53" rx="2.1" ry="1.55" fill="none" stroke="#e01010" stroke-width="0.9"/>
<ellipse cx="304.24" cy="280.58" rx="2.1" ry="1.55" fill="none" stroke="#e01010" stroke-width="0.9"/>
<ellipse cx="305.74" cy="279.64" rx="2.1" ry="1.55" fill="none" stroke="#e01010" stroke-width="0.9"/>
<ellipse cx="307.22" cy="278.72" rx="2.1" ry="1.55" fill="none" stroke="#e01010" stroke-width="0.9"/>
<ellipse cx="308.68" cy="277.82" rx="2.1" ry="1.55" fill="none" stroke="#e01010" stroke-width="0.9"/>
<ellipse cx="310.1" cy="276.93" rx="2.1" ry="1.55" fill="none" stroke="#e01010" stroke-width="0.9"/>
<path d="M62 421.3L64.5 424.9L59.5 424.9Z" fill="none" stroke="#1010e0" stroke-width="0.9"/>
<path d="M83.6 409L86.1 412.6L81.1 412.6Z" fill="none" stroke="#1010e0" stroke-width="0.9"/>
<path d="M101.1 402.3L103.6 405.9L98.6 405.9Z" fill="none" stroke="#1010e0" stroke-width="0.9"/>
<path d="M115.7 396.4L118.2 400L113.2 400Z" fill="none" stroke="#1010e0" stroke-width="0.9"/>
<path d="M128.1 391L130.6 394.6L125.6 394.6Z" fill="none" stroke="#1010e0" stroke-width="0.9"/>
<path d="M139.3 384.5L141.8 388.1L136.8 388.1Z" fill="none" stroke="#1010e0" stroke-width="0.9"/>
<path d="M149.5 378.5L152 382.1L147 382.1Z" fill="none" stroke="#1010e0" stroke-width="0.9"/>
<path d="M158 373.3L160.5 376.9L155.5 376.9Z" fill="none" stroke="#1010e0" stroke-width="0.9"/>
<path d="M165.2 369.4L167.7 373L162.7 373Z" fill="none" stroke="#1010e0" stroke-width="0.9"/>
<path d="M172.4 361.9L174.9 365.5L169.9 365.5Z" fill="none" stroke="#1010e0" stroke-width="0.9"/>
<path d="M178.5 359.7L181 363.3L176 363.3Z" fill="none" stroke="#1010e0" stroke-width="0.9"/>
<path d="M184.7 356.7L187.2 360.3L182.2 360.3Z" fill="none" stroke="#1010e0" stroke-width="0.9"/>
<path d="M190.4 352.7L192.9 356.3L187.9 356.3Z" fill="none" stroke="#1010e0" stroke-width="0.9"/>
<path d="M196 349.2L198.5 352.8L193.5 352.8Z" fill="none" stroke="#1010e0" stroke-width="0.9"/>
<path d="M201.31 345.52L203.81 349.12L198.81 349.12Z" fill="none" stroke="#1010e0" stroke-width="0.9"/>
<path d="M206.3 341.77L208.8 345.37L203.8 345.37Z" fill="none" stroke="#1010e0" stroke-width="0.9"/>
<path d="M211.01 338.23L213.51 341.83L208.51 341.83Z" fill="none" stroke="#1010e0" stroke-width="0.9"/>
<path d="M215.47 334.88L217.97 338.48L212.97 338.48Z" fill="none" stroke="#1010e0" stroke-width="0.9"/>
<path d="M219.71 331.69L222.21 335.29L217.21 335.29Z" fill="none" stroke="#1010e0" stroke-width="0.9"/>
<path d="M223.75 328.66L226.25 332.26L221.25 332.26Z" fill="none" stroke="#1010e0" stroke-width="0.9"/>
<path d="M227.6 325.77L230.1 329.37L225.1 329.37Z" fill="none" stroke="#1010e0" stroke-width="0.9"/>
<path d="M231.28 323L233.78 326.6L228.78 326.6Z" fill="none" stroke="#1010e0" stroke-width="0.9"/>
<path d="M234.81 320.35L237.31 323.95L232.31 323.95Z" fill="none" stroke="#1010e0" stroke-width="0.9"/>
<path d="M238.2 317.81L240.7 321.41L235.7 321.41Z" fill="none" stroke="#1010e0" stroke-width="0.9"/>
<path d="M241.46 315.39L243.96 318.99L238.96 318.99Z" fill="none" stroke="#1010e0" stroke-width="0.9"/>
<path d="M244.6 313.55L247.1 317.15L242.1 317.15Z" fill="none" stroke="#1010e0" stroke-width="0.9"/>
<path d="M247.62 311.78L250.12 315.38L245.12 315.38Z" fill="none" stroke="#1010e0" stroke-width="0.9"/>
<path d="M250.54 310.07L253.04 313.67L248.04 313.67Z" fill="none" stroke="#1010e0" stroke-width="0.9"/>
<path d="M253.36 308.41L255.86 312.01L250.86 312.01Z" fill="none" stroke="#1010e0" stroke-width="0.9"/>
<path d="M256.09 306.88L258.59 310.48L253.59 310.48Z" fill="none" stroke="#1010e0" stroke-width="0.9"/>
<path d="M258.73 305.72L261.23 309.32L256.23 309.32Z" fill="none" stroke="#1010e0" stroke-width="0.9"/>
<path d="M261.3 304.6L263.8 308.2L258.8 308.2Z" fill="none" stroke="#1010e0" stroke-width="0.9"/>
<path d="M263.79 303.5L266.29 307.1L261.29 307.1Z" fill="none" stroke="#1010e0" stroke-width="0.9"/>
<path d="M266.2 302.44L268.7 306.04L263.7 306.04Z" fill="none" stroke="#1010e0" stroke-width="0.9"/>
<path d="M268.55 301.41L271.05 305.01L266.05 305.01Z" fill="none" stroke="#1010e0" stroke-width="0.9"/>
<path d="M270.84 300.17L273.34 303.77L268.34 303.77Z" fill="none" stroke="#1010e0" stroke-width="0.9"/>
<path d="M273.07 298.65L275.57 302.25L270.57 302.25Z" fill="none" stroke="#1010e0" stroke-width="0.9"/>
<path d="M275.24 297.16L277.74 300.76L272.74 300.76Z" fill="none" stroke="#1010e0" stroke-width="0.9"/>
<path d="M277.35 295.66L279.85 299.26L274.85 299.26Z" fill="none" stroke="#1010e0" stroke-width="0.9"/>
<path d="M279.41 294.18L281.91 297.78L276.91 297.78Z" fill="none" stroke="#1010e0" stroke-width="0.9"/>
<path d="M281.43 292.73L283.93 296.33L278.93 296.33Z" fill="none" stroke="#1010e0" stroke-width="0.9"/>
<path d="M283.39 291.31L285.89 294.91L280.89 294.91Z" fill="none" stroke="#1010e0" stroke-width="0.9"/>
<path d="M285.31 289.93L287.81 293.53L282.81 293.53Z" fill="none" stroke="#1010e0" stroke-width="0.9"/>
<path d="M287.19 288.58L289.69 292.18L284.69 292.18Z" fill="none" stroke="#1010e0" stroke-width="0.9"/>
<path d="M289.03 287.31L291.53 290.91L286.53 290.91Z" fill="none" stroke="#1010e0" stroke-width="0.9"/>
<path d="M290.83 286.15L293.33 289.75L288.33 289.75Z" fill="none" stroke="#1010e0" stroke-width="0.9"/>
<path d="M292.59 285.02L295.09 288.62L290.09 288.62Z" fill="none" stroke="#1010e0" stroke-width="0.9"/>
<path d="M294.32 283.91L296.82 287.51L291.82 287.51Z" fill="none" stroke="#1010e0" stroke-width="0.9"/>
<path d="M296.01 282.83L298.51 286.43L293.51 286.43Z" fill="none" stroke="#1010e0" stroke-width="0.9"/>
<path d="M297.67 281.76L300.17 285.36L295.17 285.36Z" fill="none" stroke="#1010e0" stroke-width="0.9"/>
<path d="M299.29 280.72L301.79 284.32L296.79 284.32Z" fill="none" stroke="#1010e0" stroke-width="0.9"/>
<path d="M300.89 279.7L303.39 283.3L298.39 283.3Z" fill="none" stroke="#1010e0" stroke-width="0.9"/>
<path d="M302.45 278.69L304.95 282.29L299.95 282.29Z" fill="none" stroke="#1010e0" stroke-width="0.9"/>
<path d="M303.99 277.72L306.49 281.32L301.49 281.32Z" fill="none" stroke="#1010e0" stroke-width="0.9"/>
<path d="M305.5 276.76L308 280.36L303 280.36Z" fill="none" stroke="#1010e0" stroke-width="0.9"/>
<path d="M306.98 275.82L309.48 279.42L304.48 279.42Z" fill="none" stroke="#1010e0" stroke-width="0.9"/>
<path d="M308.44 274.9L310.94 278.5L305.94 278.5Z" fill="none" stroke="#1010e0" stroke-width="0.9"/>
<path d="M309.87 273.99L312.37 277.59L307.37 277.59Z" fill="none" stroke="#1010e0" stroke-width="0.9"/>
<path d="M45.6 442.3v2 M45.6 264.4v1.5 M49.52 442.3v2 M49.52 264.4v1.5 M53.27 442.3v2 M53.27 264.4v1.5 M56.87 442.3v2 M56.87 264.4v1.5 M60.31 442.3v2 M60.31 264.4v1.5 M63.62 442.3v2 M63.62 264.4v1.5 M66.8 442.3v2 M66.8 264.4v1.5 M69.87 442.3v2 M69.87 264.4v1.5 M72.83 442.3v2 M72.83 264.4v1.5 M81.14 442.3v2 M81.14 264.4v1.5 M86.26 442.3v2 M86.26 264.4v1.5 M91.08 442.3v2 M91.08 264.4v1.5 M95.64 442.3v2 M95.64 264.4v1.5 M99.97 442.3v2 M99.97 264.4v1.5 M104.09 442.3v2 M104.09 264.4v1.5 M108.01 442.3v2 M108.01 264.4v1.5 M111.76 442.3v2 M111.76 264.4v1.5 M115.36 442.3v2 M115.36 264.4v1.5 M122.92 442.3v2 M122.92 264.4v1.5 M126.84 442.3v2 M126.84 264.4v1.5 M130.59 442.3v2 M130.59 264.4v1.5 M134.18 442.3v2 M134.18 264.4v1.5 M137.63 442.3v2 M137.63 264.4v1.5 M140.94 442.3v2 M140.94 264.4v1.5 M144.12 442.3v2 M144.12 264.4v1.5 M147.19 442.3v2 M147.19 264.4v1.5 M150.15 442.3v2 M150.15 264.4v1.5 M161.06 442.3v2 M161.06 264.4v1.5 M168.4 442.3v2 M168.4 264.4v1.5 M175.15 442.3v2 M175.15 264.4v1.5 M181.41 442.3v2 M181.41 264.4v1.5 M187.23 442.3v2 M187.23 264.4v1.5 M192.68 442.3v2 M192.68 264.4v1.5 M197.79 442.3v2 M197.79 264.4v1.5 M202.61 442.3v2 M202.61 264.4v1.5 M207.18 442.3v2 M207.18 264.4v1.5 M216.95 442.3v2 M216.95 264.4v1.5 M222.07 442.3v2 M222.07 264.4v1.5 M226.89 442.3v2 M226.89 264.4v1.5 M231.45 442.3v2 M231.45 264.4v1.5 M235.78 442.3v2 M235.78 264.4v1.5 M239.9 442.3v2 M239.9 264.4v1.5 M243.82 442.3v2 M243.82 264.4v1.5 M247.57 442.3v2 M247.57 264.4v1.5 M251.17 442.3v2 M251.17 264.4v1.5 M257.92 442.3v2 M257.92 264.4v1.5 M261.1 442.3v2 M261.1 264.4v1.5 M264.17 442.3v2 M264.17 264.4v1.5 M267.13 442.3v2 M267.13 264.4v1.5 M269.99 442.3v2 M269.99 264.4v1.5 M272.76 442.3v2 M272.76 264.4v1.5 M275.44 442.3v2 M275.44 264.4v1.5 M278.04 442.3v2 M278.04 264.4v1.5 M280.56 442.3v2 M280.56 264.4v1.5 M286.54 442.3v2 M286.54 264.4v1.5 M289.94 442.3v2 M289.94 264.4v1.5 M293.21 442.3v2 M293.21 264.4v1.5 M296.35 442.3v2 M296.35 264.4v1.5 M299.39 442.3v2 M299.39 264.4v1.5 M302.31 442.3v2 M302.31 264.4v1.5 M305.14 442.3v2 M305.14 264.4v1.5 M307.88 442.3v2 M307.88 264.4v1.5 M310.53 442.3v2 M310.53 264.4v1.5 M41.2 416.78h-2 M328.6 416.78h-2 M41.2 411.83h-2 M328.6 411.83h-2 M41.2 407.27h-2 M328.6 407.27h-2 M41.2 403.06h-2 M328.6 403.06h-2 M41.2 399.13h-2 M328.6 399.13h-2 M41.2 395.46h-2 M328.6 395.46h-2 M41.2 392.01h-2 M328.6 392.01h-2 M41.2 388.76h-2 M328.6 388.76h-2 M41.2 385.68h-2 M328.6 385.68h-2 M41.2 379.99h-2 M328.6 379.99h-2 M41.2 377.34h-2 M328.6 377.34h-2 M41.2 374.81h-2 M328.6 374.81h-2 M41.2 372.39h-2 M328.6 372.39h-2 M41.2 370.07h-2 M328.6 370.07h-2 M41.2 367.84h-2 M328.6 367.84h-2 M41.2 365.69h-2 M328.6 365.69h-2 M41.2 363.62h-2 M328.6 363.62h-2 M41.2 361.63h-2 M328.6 361.63h-2 M41.2 356.03h-2 M328.6 356.03h-2 M41.2 352.58h-2 M328.6 352.58h-2 M41.2 349.32h-2 M328.6 349.32h-2 M41.2 346.25h-2 M328.6 346.25h-2 M41.2 343.33h-2 M328.6 343.33h-2 M41.2 340.55h-2 M328.6 340.55h-2 M41.2 337.91h-2 M328.6 337.91h-2 M41.2 335.38h-2 M328.6 335.38h-2 M41.2 332.96h-2 M328.6 332.96h-2 M41.2 327.32h-2 M328.6 327.32h-2 M41.2 324.19h-2 M328.6 324.19h-2 M41.2 321.22h-2 M328.6 321.22h-2 M41.2 318.4h-2 M328.6 318.4h-2 M41.2 315.71h-2 M328.6 315.71h-2 M41.2 313.14h-2 M328.6 313.14h-2 M41.2 310.69h-2 M328.6 310.69h-2 M41.2 308.33h-2 M328.6 308.33h-2 M41.2 306.07h-2 M328.6 306.07h-2 M41.2 302.49h-2 M328.6 302.49h-2 M41.2 301.12h-2 M328.6 301.12h-2 M41.2 299.78h-2 M328.6 299.78h-2 M41.2 298.47h-2 M328.6 298.47h-2 M41.2 297.19h-2 M328.6 297.19h-2 M41.2 295.94h-2 M328.6 295.94h-2 M41.2 294.72h-2 M328.6 294.72h-2 M41.2 293.52h-2 M328.6 293.52h-2 M41.2 292.35h-2 M328.6 292.35h-2 M41.2 288.42h-2 M328.6 288.42h-2 M41.2 285.78h-2 M328.6 285.78h-2 M41.2 283.25h-2 M328.6 283.25h-2 M41.2 280.83h-2 M328.6 280.83h-2 M41.2 278.5h-2 M328.6 278.5h-2 M41.2 276.27h-2 M328.6 276.27h-2 M41.2 274.13h-2 M328.6 274.13h-2 M41.2 272.06h-2 M328.6 272.06h-2 M41.2 270.06h-2 M328.6 270.06h-2" stroke="#000" stroke-width="1.0" fill="none"/>
<path d="M41.48 442.3v3.5 M41.48 264.4v3 M75.69 442.3v3.5 M75.69 264.4v3 M118.8 442.3v3.5 M118.8 264.4v3 M153.01 442.3v3.5 M153.01 264.4v3 M211.5 442.3v3.5 M211.5 264.4v3 M254.61 442.3v3.5 M254.61 264.4v3 M283 442.3v3.5 M283 264.4v3 M313.1 442.3v3.5 M313.1 264.4v3 M41.2 422.2h-4 M328.6 422.2h-4 M41.2 382.77h-4 M328.6 382.77h-4 M41.2 359.7h-4 M328.6 359.7h-4 M41.2 330.63h-4 M328.6 330.63h-4 M41.2 303.9h-4 M328.6 303.9h-4 M41.2 291.2h-4 M328.6 291.2h-4 M41.2 268.13h-4 M328.6 268.13h-4" stroke="#000" stroke-width="1.2" fill="none"/>
<rect x="41.2" y="264.4" width="287.4" height="177.9" fill="none" stroke="#000" stroke-width="1.4"/>
<text transform="translate(41.48,454.9) scale(1.17,1)" font-family="'Liberation Serif', serif" font-size="7.8" font-weight="bold" font-style="normal" fill="#000" text-anchor="middle" stroke="#000" stroke-width="0.25">400</text>
<text transform="translate(75.69,454.9) scale(1.17,1)" font-family="'Liberation Serif', serif" font-size="7.8" font-weight="bold" font-style="normal" fill="#000" text-anchor="middle" stroke="#000" stroke-width="0.25">600</text>
<text transform="translate(118.8,454.9) scale(1.17,1)" font-family="'Liberation Serif', serif" font-size="7.8" font-weight="bold" font-style="normal" fill="#000" text-anchor="middle" stroke="#000" stroke-width="0.25">1000</text>
<text transform="translate(153.01,454.9) scale(1.17,1)" font-family="'Liberation Serif', serif" font-size="7.8" font-weight="bold" font-style="normal" fill="#000" text-anchor="middle" stroke="#000" stroke-width="0.25">1500</text>
<text transform="translate(211.5,454.9) scale(1.17,1)" font-family="'Liberation Serif', serif" font-size="7.8" font-weight="bold" font-style="normal" fill="#000" text-anchor="middle" stroke="#000" stroke-width="0.25">3000</text>
<text transform="translate(254.61,454.9) scale(1.17,1)" font-family="'Liberation Serif', serif" font-size="7.8" font-weight="bold" font-style="normal" fill="#000" text-anchor="middle" stroke="#000" stroke-width="0.25">5000</text>
<text transform="translate(283,454.9) scale(1.17,1)" font-family="'Liberation Serif', serif" font-size="7.8" font-weight="bold" font-style="normal" fill="#000" text-anchor="middle" stroke="#000" stroke-width="0.25">7000</text>
<text transform="translate(313.1,454.9) scale(1.17,1)" font-family="'Liberation Serif', serif" font-size="7.8" font-weight="bold" font-style="normal" fill="#000" text-anchor="middle" stroke="#000" stroke-width="0.25">10000</text>
<text transform="translate(33,424.9) scale(1.17,1)" font-family="'Liberation Serif', serif" font-size="7.8" font-weight="bold" font-style="normal" fill="#000" text-anchor="end" stroke="#000" stroke-width="0.25">10</text>
<text transform="translate(33,385.47) scale(1.17,1)" font-family="'Liberation Serif', serif" font-size="7.8" font-weight="bold" font-style="normal" fill="#000" text-anchor="end" stroke="#000" stroke-width="0.25">20</text>
<text transform="translate(33,362.4) scale(1.17,1)" font-family="'Liberation Serif', serif" font-size="7.8" font-weight="bold" font-style="normal" fill="#000" text-anchor="end" stroke="#000" stroke-width="0.25">30</text>
<text transform="translate(33,333.33) scale(1.17,1)" font-family="'Liberation Serif', serif" font-size="7.8" font-weight="bold" font-style="normal" fill="#000" text-anchor="end" stroke="#000" stroke-width="0.25">50</text>
<text transform="translate(33,306.6) scale(1.17,1)" font-family="'Liberation Serif', serif" font-size="7.8" font-weight="bold" font-style="normal" fill="#000" text-anchor="end" stroke="#000" stroke-width="0.25">80</text>
<text transform="translate(33,293.9) scale(1.17,1)" font-family="'Liberation Serif', serif" font-size="7.8" font-weight="bold" font-style="normal" fill="#000" text-anchor="end" stroke="#000" stroke-width="0.25">100</text>
<text transform="translate(33,270.83) scale(1.17,1)" font-family="'Liberation Serif', serif" font-size="7.8" font-weight="bold" font-style="normal" fill="#000" text-anchor="end" stroke="#000" stroke-width="0.25">150</text>
<rect x="244.5" y="411.5" width="75.2" height="26.9" fill="#fff" stroke="#000" stroke-width="0.9"/>
<rect x="253.65" y="414.9" width="3.1" height="2.6" fill="none" stroke="#222" stroke-width="0.9"/>
<text transform="translate(267.8,418.1)" font-family="'Liberation Serif', serif" font-size="6.4" font-weight="bold" font-style="normal" fill="#000" text-anchor="start" stroke="#000" stroke-width="0.15" textLength="50" lengthAdjust="spacingAndGlyphs">Heat Flux = 4</text>
<ellipse cx="255.2" cy="424.7" rx="2.1" ry="1.55" fill="none" stroke="#e01010" stroke-width="0.9"/>
<text transform="translate(267.8,426.6)" font-family="'Liberation Serif', serif" font-size="6.4" font-weight="bold" font-style="normal" fill="#000" text-anchor="start" stroke="#000" stroke-width="0.15" textLength="50" lengthAdjust="spacingAndGlyphs">Heat Flux = 3</text>
<path d="M255.2 431.4L257.7 435L252.7 435Z" fill="none" stroke="#1010e0" stroke-width="0.9"/>
<text transform="translate(267.8,435.1)" font-family="'Liberation Serif', serif" font-size="6.4" font-weight="bold" font-style="normal" fill="#000" text-anchor="start" stroke="#000" stroke-width="0.15" textLength="50" lengthAdjust="spacingAndGlyphs">Heat Flux = 2</text>
<text transform="translate(13.8,353.3) rotate(-90)" font-family="'Liberation Serif', serif" font-size="10.5" font-weight="bold" font-style="italic" fill="#000" text-anchor="middle" textLength="11.2" lengthAdjust="spacingAndGlyphs">Nu</text>
<text transform="translate(185.2,469.3)" font-family="'Liberation Serif', serif" font-size="9.2" font-weight="bold" font-style="italic" fill="#000" text-anchor="middle" textLength="12.5" lengthAdjust="spacingAndGlyphs">Re</text>
<text transform="translate(183.8,484.7)" font-family="'Liberation Serif', serif" font-size="9.4" font-weight="normal" font-style="normal" fill="#000" text-anchor="middle" textLength="11.6" lengthAdjust="spacingAndGlyphs">(c)</text>
<rect x="415" y="412.95" width="4" height="2.9" fill="#000" stroke="#000" stroke-width="0.3"/>
<rect x="437.6" y="400.95" width="4" height="2.9" fill="#000" stroke="#000" stroke-width="0.3"/>
<rect x="455.6" y="398.85" width="4" height="2.9" fill="#000" stroke="#000" stroke-width="0.3"/>
<rect x="470.4" y="391.75" width="4" height="2.9" fill="#000" stroke="#000" stroke-width="0.3"/>
<rect x="483" y="385.65" width="4" height="2.9" fill="#000" stroke="#000" stroke-width="0.3"/>
<rect x="493.6" y="381.25" width="4" height="2.9" fill="#000" stroke="#000" stroke-width="0.3"/>
<rect x="503.7" y="376.85" width="4" height="2.9" fill="#000" stroke="#000" stroke-width="0.3"/>
<rect x="512" y="369.85" width="4" height="2.9" fill="#000" stroke="#000" stroke-width="0.3"/>
<rect x="520.3" y="368.15" width="4" height="2.9" fill="#000" stroke="#000" stroke-width="0.3"/>
<rect x="526.9" y="359.85" width="4" height="2.9" fill="#000" stroke="#000" stroke-width="0.3"/>
<rect x="533.9" y="358.05" width="4" height="2.9" fill="#000" stroke="#000" stroke-width="0.3"/>
<rect x="540.08" y="354.67" width="4" height="2.9" fill="#000" stroke="#000" stroke-width="0.3"/>
<rect x="545.84" y="350.85" width="4" height="2.9" fill="#000" stroke="#000" stroke-width="0.3"/>
<rect x="551.24" y="347.17" width="4" height="2.9" fill="#000" stroke="#000" stroke-width="0.3"/>
<rect x="556.31" y="343.63" width="4" height="2.9" fill="#000" stroke="#000" stroke-width="0.3"/>
<rect x="561.09" y="340.3" width="4" height="2.9" fill="#000" stroke="#000" stroke-width="0.3"/>
<rect x="565.62" y="337.14" width="4" height="2.9" fill="#000" stroke="#000" stroke-width="0.3"/>
<rect x="569.92" y="334.21" width="4" height="2.9" fill="#000" stroke="#000" stroke-width="0.3"/>
<rect x="574.01" y="331.65" width="4" height="2.9" fill="#000" stroke="#000" stroke-width="0.3"/>
<rect x="577.91" y="329.21" width="4" height="2.9" fill="#000" stroke="#000" stroke-width="0.3"/>
<rect x="581.64" y="326.88" width="4" height="2.9" fill="#000" stroke="#000" stroke-width="0.3"/>
<rect x="585.22" y="324.64" width="4" height="2.9" fill="#000" stroke="#000" stroke-width="0.3"/>
<rect x="588.65" y="322.67" width="4" height="2.9" fill="#000" stroke="#000" stroke-width="0.3"/>
<rect x="591.94" y="320.78" width="4" height="2.9" fill="#000" stroke="#000" stroke-width="0.3"/>
<rect x="595.11" y="318.97" width="4" height="2.9" fill="#000" stroke="#000" stroke-width="0.3"/>
<rect x="598.17" y="317.21" width="4" height="2.9" fill="#000" stroke="#000" stroke-width="0.3"/>
<rect x="601.12" y="315.57" width="4" height="2.9" fill="#000" stroke="#000" stroke-width="0.3"/>
<rect x="603.97" y="314.02" width="4" height="2.9" fill="#000" stroke="#000" stroke-width="0.3"/>
<rect x="606.73" y="312.53" width="4" height="2.9" fill="#000" stroke="#000" stroke-width="0.3"/>
<rect x="609.4" y="311.08" width="4" height="2.9" fill="#000" stroke="#000" stroke-width="0.3"/>
<rect x="611.99" y="309.67" width="4" height="2.9" fill="#000" stroke="#000" stroke-width="0.3"/>
<rect x="614.5" y="308.31" width="4" height="2.9" fill="#000" stroke="#000" stroke-width="0.3"/>
<rect x="616.94" y="306.98" width="4" height="2.9" fill="#000" stroke="#000" stroke-width="0.3"/>
<rect x="619.32" y="305.69" width="4" height="2.9" fill="#000" stroke="#000" stroke-width="0.3"/>
<rect x="621.62" y="304" width="4" height="2.9" fill="#000" stroke="#000" stroke-width="0.3"/>
<rect x="623.87" y="302.16" width="4" height="2.9" fill="#000" stroke="#000" stroke-width="0.3"/>
<rect x="626.06" y="300.37" width="4" height="2.9" fill="#000" stroke="#000" stroke-width="0.3"/>
<rect x="628.19" y="299.07" width="4" height="2.9" fill="#000" stroke="#000" stroke-width="0.3"/>
<rect x="630.27" y="297.8" width="4" height="2.9" fill="#000" stroke="#000" stroke-width="0.3"/>
<rect x="632.3" y="296.57" width="4" height="2.9" fill="#000" stroke="#000" stroke-width="0.3"/>
<rect x="634.28" y="295.37" width="4" height="2.9" fill="#000" stroke="#000" stroke-width="0.3"/>
<rect x="636.22" y="294.19" width="4" height="2.9" fill="#000" stroke="#000" stroke-width="0.3"/>
<rect x="638.12" y="293.04" width="4" height="2.9" fill="#000" stroke="#000" stroke-width="0.3"/>
<rect x="639.97" y="291.91" width="4" height="2.9" fill="#000" stroke="#000" stroke-width="0.3"/>
<rect x="641.78" y="290.8" width="4" height="2.9" fill="#000" stroke="#000" stroke-width="0.3"/>
<rect x="643.56" y="289.71" width="4" height="2.9" fill="#000" stroke="#000" stroke-width="0.3"/>
<rect x="645.3" y="288.65" width="4" height="2.9" fill="#000" stroke="#000" stroke-width="0.3"/>
<rect x="647" y="287.61" width="4" height="2.9" fill="#000" stroke="#000" stroke-width="0.3"/>
<rect x="648.67" y="286.58" width="4" height="2.9" fill="#000" stroke="#000" stroke-width="0.3"/>
<rect x="650.31" y="285.58" width="4" height="2.9" fill="#000" stroke="#000" stroke-width="0.3"/>
<rect x="651.92" y="284.59" width="4" height="2.9" fill="#000" stroke="#000" stroke-width="0.3"/>
<rect x="653.49" y="283.63" width="4" height="2.9" fill="#000" stroke="#000" stroke-width="0.3"/>
<rect x="655.04" y="282.68" width="4" height="2.9" fill="#000" stroke="#000" stroke-width="0.3"/>
<rect x="656.56" y="281.75" width="4" height="2.9" fill="#000" stroke="#000" stroke-width="0.3"/>
<rect x="658.06" y="280.83" width="4" height="2.9" fill="#000" stroke="#000" stroke-width="0.3"/>
<rect x="659.52" y="279.93" width="4" height="2.9" fill="#000" stroke="#000" stroke-width="0.3"/>
<rect x="660.97" y="279.05" width="4" height="2.9" fill="#000" stroke="#000" stroke-width="0.3"/>
<ellipse cx="417.6" cy="418.4" rx="2.25" ry="1.5" fill="#f00000" stroke="#f00000" stroke-width="0.3"/>
<ellipse cx="440" cy="407" rx="2.25" ry="1.5" fill="#f00000" stroke="#f00000" stroke-width="0.3"/>
<ellipse cx="456.8" cy="404.6" rx="2.25" ry="1.5" fill="#f00000" stroke="#f00000" stroke-width="0.3"/>
<ellipse cx="470.7" cy="396.9" rx="2.25" ry="1.5" fill="#f00000" stroke="#f00000" stroke-width="0.3"/>
<ellipse cx="482.7" cy="390" rx="2.25" ry="1.5" fill="#f00000" stroke="#f00000" stroke-width="0.3"/>
<ellipse cx="493.3" cy="385.7" rx="2.25" ry="1.5" fill="#f00000" stroke="#f00000" stroke-width="0.3"/>
<ellipse cx="503.1" cy="380.5" rx="2.25" ry="1.5" fill="#f00000" stroke="#f00000" stroke-width="0.3"/>
<ellipse cx="511" cy="374" rx="2.25" ry="1.5" fill="#f00000" stroke="#f00000" stroke-width="0.3"/>
<ellipse cx="518.8" cy="371.1" rx="2.25" ry="1.5" fill="#f00000" stroke="#f00000" stroke-width="0.3"/>
<ellipse cx="525.8" cy="364.3" rx="2.25" ry="1.5" fill="#f00000" stroke="#f00000" stroke-width="0.3"/>
<ellipse cx="532" cy="361.5" rx="2.25" ry="1.5" fill="#f00000" stroke="#f00000" stroke-width="0.3"/>
<ellipse cx="538.5" cy="358.8" rx="2.25" ry="1.5" fill="#f00000" stroke="#f00000" stroke-width="0.3"/>
<ellipse cx="543.4" cy="354.3" rx="2.25" ry="1.5" fill="#f00000" stroke="#f00000" stroke-width="0.3"/>
<ellipse cx="549" cy="351.6" rx="2.25" ry="1.5" fill="#f00000" stroke="#f00000" stroke-width="0.3"/>
<ellipse cx="554.32" cy="346.66" rx="2.25" ry="1.5" fill="#f00000" stroke="#f00000" stroke-width="0.3"/>
<ellipse cx="559.33" cy="343.17" rx="2.25" ry="1.5" fill="#f00000" stroke="#f00000" stroke-width="0.3"/>
<ellipse cx="564.06" cy="339.87" rx="2.25" ry="1.5" fill="#f00000" stroke="#f00000" stroke-width="0.3"/>
<ellipse cx="568.54" cy="336.75" rx="2.25" ry="1.5" fill="#f00000" stroke="#f00000" stroke-width="0.3"/>
<ellipse cx="572.79" cy="333.92" rx="2.25" ry="1.5" fill="#f00000" stroke="#f00000" stroke-width="0.3"/>
<ellipse cx="576.84" cy="331.38" rx="2.25" ry="1.5" fill="#f00000" stroke="#f00000" stroke-width="0.3"/>
<ellipse cx="580.71" cy="328.96" rx="2.25" ry="1.5" fill="#f00000" stroke="#f00000" stroke-width="0.3"/>
<ellipse cx="584.4" cy="326.65" rx="2.25" ry="1.5" fill="#f00000" stroke="#f00000" stroke-width="0.3"/>
<ellipse cx="587.95" cy="324.47" rx="2.25" ry="1.5" fill="#f00000" stroke="#f00000" stroke-width="0.3"/>
<ellipse cx="591.35" cy="322.52" rx="2.25" ry="1.5" fill="#f00000" stroke="#f00000" stroke-width="0.3"/>
<ellipse cx="594.61" cy="320.65" rx="2.25" ry="1.5" fill="#f00000" stroke="#f00000" stroke-width="0.3"/>
<ellipse cx="597.76" cy="318.84" rx="2.25" ry="1.5" fill="#f00000" stroke="#f00000" stroke-width="0.3"/>
<ellipse cx="600.79" cy="317.1" rx="2.25" ry="1.5" fill="#f00000" stroke="#f00000" stroke-width="0.3"/>
<ellipse cx="603.72" cy="315.48" rx="2.25" ry="1.5" fill="#f00000" stroke="#f00000" stroke-width="0.3"/>
<ellipse cx="606.56" cy="313.94" rx="2.25" ry="1.5" fill="#f00000" stroke="#f00000" stroke-width="0.3"/>
<ellipse cx="609.29" cy="312.44" rx="2.25" ry="1.5" fill="#f00000" stroke="#f00000" stroke-width="0.3"/>
<ellipse cx="611.95" cy="310.99" rx="2.25" ry="1.5" fill="#f00000" stroke="#f00000" stroke-width="0.3"/>
<ellipse cx="614.52" cy="309.59" rx="2.25" ry="1.5" fill="#f00000" stroke="#f00000" stroke-width="0.3"/>
<ellipse cx="617.02" cy="308.22" rx="2.25" ry="1.5" fill="#f00000" stroke="#f00000" stroke-width="0.3"/>
<ellipse cx="619.45" cy="306.9" rx="2.25" ry="1.5" fill="#f00000" stroke="#f00000" stroke-width="0.3"/>
<ellipse cx="621.8" cy="305.61" rx="2.25" ry="1.5" fill="#f00000" stroke="#f00000" stroke-width="0.3"/>
<ellipse cx="624.1" cy="303.71" rx="2.25" ry="1.5" fill="#f00000" stroke="#f00000" stroke-width="0.3"/>
<ellipse cx="626.33" cy="301.81" rx="2.25" ry="1.5" fill="#f00000" stroke="#f00000" stroke-width="0.3"/>
<ellipse cx="628.51" cy="300.04" rx="2.25" ry="1.5" fill="#f00000" stroke="#f00000" stroke-width="0.3"/>
<ellipse cx="630.63" cy="298.67" rx="2.25" ry="1.5" fill="#f00000" stroke="#f00000" stroke-width="0.3"/>
<ellipse cx="632.7" cy="297.34" rx="2.25" ry="1.5" fill="#f00000" stroke="#f00000" stroke-width="0.3"/>
<ellipse cx="634.72" cy="296.04" rx="2.25" ry="1.5" fill="#f00000" stroke="#f00000" stroke-width="0.3"/>
<ellipse cx="636.69" cy="294.77" rx="2.25" ry="1.5" fill="#f00000" stroke="#f00000" stroke-width="0.3"/>
<ellipse cx="638.62" cy="293.53" rx="2.25" ry="1.5" fill="#f00000" stroke="#f00000" stroke-width="0.3"/>
<ellipse cx="640.51" cy="292.32" rx="2.25" ry="1.5" fill="#f00000" stroke="#f00000" stroke-width="0.3"/>
<ellipse cx="642.35" cy="291.13" rx="2.25" ry="1.5" fill="#f00000" stroke="#f00000" stroke-width="0.3"/>
<ellipse cx="644.16" cy="289.96" rx="2.25" ry="1.5" fill="#f00000" stroke="#f00000" stroke-width="0.3"/>
<ellipse cx="645.93" cy="288.82" rx="2.25" ry="1.5" fill="#f00000" stroke="#f00000" stroke-width="0.3"/>
<ellipse cx="647.66" cy="287.7" rx="2.25" ry="1.5" fill="#f00000" stroke="#f00000" stroke-width="0.3"/>
<ellipse cx="649.35" cy="286.6" rx="2.25" ry="1.5" fill="#f00000" stroke="#f00000" stroke-width="0.3"/>
<ellipse cx="651.02" cy="285.52" rx="2.25" ry="1.5" fill="#f00000" stroke="#f00000" stroke-width="0.3"/>
<ellipse cx="652.65" cy="284.47" rx="2.25" ry="1.5" fill="#f00000" stroke="#f00000" stroke-width="0.3"/>
<ellipse cx="654.25" cy="283.43" rx="2.25" ry="1.5" fill="#f00000" stroke="#f00000" stroke-width="0.3"/>
<ellipse cx="655.82" cy="282.42" rx="2.25" ry="1.5" fill="#f00000" stroke="#f00000" stroke-width="0.3"/>
<ellipse cx="657.36" cy="281.42" rx="2.25" ry="1.5" fill="#f00000" stroke="#f00000" stroke-width="0.3"/>
<ellipse cx="658.88" cy="280.44" rx="2.25" ry="1.5" fill="#f00000" stroke="#f00000" stroke-width="0.3"/>
<ellipse cx="660.36" cy="279.48" rx="2.25" ry="1.5" fill="#f00000" stroke="#f00000" stroke-width="0.3"/>
<ellipse cx="661.83" cy="278.53" rx="2.25" ry="1.5" fill="#f00000" stroke="#f00000" stroke-width="0.3"/>
<path d="M414.5 422.3L417.25 426.3L411.75 426.3Z" fill="#0000f0" stroke="#0000f0" stroke-width="0.3"/>
<path d="M436.4 410.7L439.15 414.7L433.65 414.7Z" fill="#0000f0" stroke="#0000f0" stroke-width="0.3"/>
<path d="M453.9 404.4L456.65 408.4L451.15 408.4Z" fill="#0000f0" stroke="#0000f0" stroke-width="0.3"/>
<path d="M468.1 398L470.85 402L465.35 402Z" fill="#0000f0" stroke="#0000f0" stroke-width="0.3"/>
<path d="M480.6 392.4L483.35 396.4L477.85 396.4Z" fill="#0000f0" stroke="#0000f0" stroke-width="0.3"/>
<path d="M492 386.6L494.75 390.6L489.25 390.6Z" fill="#0000f0" stroke="#0000f0" stroke-width="0.3"/>
<path d="M502.2 379.4L504.95 383.4L499.45 383.4Z" fill="#0000f0" stroke="#0000f0" stroke-width="0.3"/>
<path d="M510.5 375.5L513.25 379.5L507.75 379.5Z" fill="#0000f0" stroke="#0000f0" stroke-width="0.3"/>
<path d="M518 371.5L520.75 375.5L515.25 375.5Z" fill="#0000f0" stroke="#0000f0" stroke-width="0.3"/>
<path d="M525 364.1L527.75 368.1L522.25 368.1Z" fill="#0000f0" stroke="#0000f0" stroke-width="0.3"/>
<path d="M531.5 361.9L534.25 365.9L528.75 365.9Z" fill="#0000f0" stroke="#0000f0" stroke-width="0.3"/>
<path d="M537.2 358.8L539.95 362.8L534.45 362.8Z" fill="#0000f0" stroke="#0000f0" stroke-width="0.3"/>
<path d="M542.9 355.3L545.65 359.3L540.15 359.3Z" fill="#0000f0" stroke="#0000f0" stroke-width="0.3"/>
<path d="M548.2 351.8L550.95 355.8L545.45 355.8Z" fill="#0000f0" stroke="#0000f0" stroke-width="0.3"/>
<path d="M552.5 347.9L555.25 351.9L549.75 351.9Z" fill="#0000f0" stroke="#0000f0" stroke-width="0.3"/>
<path d="M557.61 341.97L560.36 345.97L554.86 345.97Z" fill="#0000f0" stroke="#0000f0" stroke-width="0.3"/>
<path d="M562.44 338.6L565.19 342.6L559.69 342.6Z" fill="#0000f0" stroke="#0000f0" stroke-width="0.3"/>
<path d="M567 335.42L569.75 339.42L564.25 339.42Z" fill="#0000f0" stroke="#0000f0" stroke-width="0.3"/>
<path d="M571.33 332.43L574.08 336.43L568.58 336.43Z" fill="#0000f0" stroke="#0000f0" stroke-width="0.3"/>
<path d="M575.45 329.85L578.2 333.85L572.7 333.85Z" fill="#0000f0" stroke="#0000f0" stroke-width="0.3"/>
<path d="M579.38 327.4L582.13 331.4L576.63 331.4Z" fill="#0000f0" stroke="#0000f0" stroke-width="0.3"/>
<path d="M583.13 325.05L585.88 329.05L580.38 329.05Z" fill="#0000f0" stroke="#0000f0" stroke-width="0.3"/>
<path d="M586.72 322.8L589.47 326.8L583.97 326.8Z" fill="#0000f0" stroke="#0000f0" stroke-width="0.3"/>
<path d="M590.17 320.77L592.92 324.77L587.42 324.77Z" fill="#0000f0" stroke="#0000f0" stroke-width="0.3"/>
<path d="M593.49 318.83L596.24 322.83L590.74 322.83Z" fill="#0000f0" stroke="#0000f0" stroke-width="0.3"/>
<path d="M596.67 316.97L599.42 320.97L593.92 320.97Z" fill="#0000f0" stroke="#0000f0" stroke-width="0.3"/>
<path d="M599.75 315.18L602.5 319.18L597 319.18Z" fill="#0000f0" stroke="#0000f0" stroke-width="0.3"/>
<path d="M602.71 313.48L605.46 317.48L599.96 317.48Z" fill="#0000f0" stroke="#0000f0" stroke-width="0.3"/>
<path d="M605.58 311.88L608.33 315.88L602.83 315.88Z" fill="#0000f0" stroke="#0000f0" stroke-width="0.3"/>
<path d="M608.35 310.33L611.1 314.33L605.6 314.33Z" fill="#0000f0" stroke="#0000f0" stroke-width="0.3"/>
<path d="M611.03 308.83L613.78 312.83L608.28 312.83Z" fill="#0000f0" stroke="#0000f0" stroke-width="0.3"/>
<path d="M613.63 307.38L616.38 311.38L610.88 311.38Z" fill="#0000f0" stroke="#0000f0" stroke-width="0.3"/>
<path d="M616.15 305.97L618.9 309.97L613.4 309.97Z" fill="#0000f0" stroke="#0000f0" stroke-width="0.3"/>
<path d="M618.6 304.6L621.35 308.6L615.85 308.6Z" fill="#0000f0" stroke="#0000f0" stroke-width="0.3"/>
<path d="M620.99 303.27L623.74 307.27L618.24 307.27Z" fill="#0000f0" stroke="#0000f0" stroke-width="0.3"/>
<path d="M623.3 301.57L626.05 305.57L620.55 305.57Z" fill="#0000f0" stroke="#0000f0" stroke-width="0.3"/>
<path d="M625.56 299.62L628.31 303.62L622.81 303.62Z" fill="#0000f0" stroke="#0000f0" stroke-width="0.3"/>
<path d="M627.75 297.72L630.5 301.72L625 301.72Z" fill="#0000f0" stroke="#0000f0" stroke-width="0.3"/>
<path d="M629.89 296.25L632.64 300.25L627.14 300.25Z" fill="#0000f0" stroke="#0000f0" stroke-width="0.3"/>
<path d="M631.98 294.88L634.73 298.88L629.23 298.88Z" fill="#0000f0" stroke="#0000f0" stroke-width="0.3"/>
<path d="M634.02 293.54L636.77 297.54L631.27 297.54Z" fill="#0000f0" stroke="#0000f0" stroke-width="0.3"/>
<path d="M636.01 292.24L638.76 296.24L633.26 296.24Z" fill="#0000f0" stroke="#0000f0" stroke-width="0.3"/>
<path d="M637.95 290.96L640.7 294.96L635.2 294.96Z" fill="#0000f0" stroke="#0000f0" stroke-width="0.3"/>
<path d="M639.85 289.72L642.6 293.72L637.1 293.72Z" fill="#0000f0" stroke="#0000f0" stroke-width="0.3"/>
<path d="M641.71 288.5L644.46 292.5L638.96 292.5Z" fill="#0000f0" stroke="#0000f0" stroke-width="0.3"/>
<path d="M643.53 287.3L646.28 291.3L640.78 291.3Z" fill="#0000f0" stroke="#0000f0" stroke-width="0.3"/>
<path d="M645.31 286.13L648.06 290.13L642.56 290.13Z" fill="#0000f0" stroke="#0000f0" stroke-width="0.3"/>
<path d="M647.06 284.98L649.81 288.98L644.31 288.98Z" fill="#0000f0" stroke="#0000f0" stroke-width="0.3"/>
<path d="M648.76 283.85L651.51 287.85L646.01 287.85Z" fill="#0000f0" stroke="#0000f0" stroke-width="0.3"/>
<path d="M650.44 282.75L653.19 286.75L647.69 286.75Z" fill="#0000f0" stroke="#0000f0" stroke-width="0.3"/>
<path d="M652.08 281.66L654.83 285.66L649.33 285.66Z" fill="#0000f0" stroke="#0000f0" stroke-width="0.3"/>
<path d="M653.69 280.6L656.44 284.6L650.94 284.6Z" fill="#0000f0" stroke="#0000f0" stroke-width="0.3"/>
<path d="M655.27 279.56L658.02 283.56L652.52 283.56Z" fill="#0000f0" stroke="#0000f0" stroke-width="0.3"/>
<path d="M656.83 278.54L659.58 282.54L654.08 282.54Z" fill="#0000f0" stroke="#0000f0" stroke-width="0.3"/>
<path d="M658.35 277.53L661.1 281.53L655.6 281.53Z" fill="#0000f0" stroke="#0000f0" stroke-width="0.3"/>
<path d="M659.85 276.55L662.6 280.55L657.1 280.55Z" fill="#0000f0" stroke="#0000f0" stroke-width="0.3"/>
<path d="M661.32 275.58L664.07 279.58L658.57 279.58Z" fill="#0000f0" stroke="#0000f0" stroke-width="0.3"/>
<path d="M662.76 274.62L665.51 278.62L660.01 278.62Z" fill="#0000f0" stroke="#0000f0" stroke-width="0.3"/>
<path d="M398.03 442.2v2 M398.03 264v1.5 M401.97 442.2v2 M401.97 264v1.5 M405.74 442.2v2 M405.74 264v1.5 M409.34 442.2v2 M409.34 264v1.5 M412.8 442.2v2 M412.8 264v1.5 M416.12 442.2v2 M416.12 264v1.5 M419.32 442.2v2 M419.32 264v1.5 M422.4 442.2v2 M422.4 264v1.5 M425.37 442.2v2 M425.37 264v1.5 M433.71 442.2v2 M433.71 264v1.5 M438.84 442.2v2 M438.84 264v1.5 M443.68 442.2v2 M443.68 264v1.5 M448.26 442.2v2 M448.26 264v1.5 M452.6 442.2v2 M452.6 264v1.5 M456.73 442.2v2 M456.73 264v1.5 M460.67 442.2v2 M460.67 264v1.5 M464.44 442.2v2 M464.44 264v1.5 M468.04 442.2v2 M468.04 264v1.5 M475.63 442.2v2 M475.63 264v1.5 M479.57 442.2v2 M479.57 264v1.5 M483.34 442.2v2 M483.34 264v1.5 M486.94 442.2v2 M486.94 264v1.5 M490.4 442.2v2 M490.4 264v1.5 M493.72 442.2v2 M493.72 264v1.5 M496.92 442.2v2 M496.92 264v1.5 M499.99 442.2v2 M499.99 264v1.5 M502.97 442.2v2 M502.97 264v1.5 M513.91 442.2v2 M513.91 264v1.5 M521.28 442.2v2 M521.28 264v1.5 M528.06 442.2v2 M528.06 264v1.5 M534.33 442.2v2 M534.33 264v1.5 M540.18 442.2v2 M540.18 264v1.5 M545.64 442.2v2 M545.64 264v1.5 M550.78 442.2v2 M550.78 264v1.5 M555.62 442.2v2 M555.62 264v1.5 M560.19 442.2v2 M560.19 264v1.5 M570 442.2v2 M570 264v1.5 M575.14 442.2v2 M575.14 264v1.5 M579.98 442.2v2 M579.98 264v1.5 M584.56 442.2v2 M584.56 264v1.5 M588.9 442.2v2 M588.9 264v1.5 M593.03 442.2v2 M593.03 264v1.5 M596.97 442.2v2 M596.97 264v1.5 M600.74 442.2v2 M600.74 264v1.5 M604.34 442.2v2 M604.34 264v1.5 M611.12 442.2v2 M611.12 264v1.5 M614.32 442.2v2 M614.32 264v1.5 M617.4 442.2v2 M617.4 264v1.5 M620.37 442.2v2 M620.37 264v1.5 M623.24 442.2v2 M623.24 264v1.5 M626.02 442.2v2 M626.02 264v1.5 M628.71 442.2v2 M628.71 264v1.5 M631.31 442.2v2 M631.31 264v1.5 M633.84 442.2v2 M633.84 264v1.5 M639.85 442.2v2 M639.85 264v1.5 M643.26 442.2v2 M643.26 264v1.5 M646.54 442.2v2 M646.54 264v1.5 M649.69 442.2v2 M649.69 264v1.5 M652.74 442.2v2 M652.74 264v1.5 M655.67 442.2v2 M655.67 264v1.5 M658.51 442.2v2 M658.51 264v1.5 M661.26 442.2v2 M661.26 264v1.5 M663.92 442.2v2 M663.92 264v1.5 M394 416.48h-2 M681 416.48h-2 M394 411.53h-2 M681 411.53h-2 M394 406.97h-2 M681 406.97h-2 M394 402.76h-2 M681 402.76h-2 M394 398.83h-2 M681 398.83h-2 M394 395.16h-2 M681 395.16h-2 M394 391.71h-2 M681 391.71h-2 M394 388.46h-2 M681 388.46h-2 M394 385.38h-2 M681 385.38h-2 M394 379.69h-2 M681 379.69h-2 M394 377.04h-2 M681 377.04h-2 M394 374.51h-2 M681 374.51h-2 M394 372.09h-2 M681 372.09h-2 M394 369.77h-2 M681 369.77h-2 M394 367.54h-2 M681 367.54h-2 M394 365.39h-2 M681 365.39h-2 M394 363.32h-2 M681 363.32h-2 M394 361.33h-2 M681 361.33h-2 M394 355.73h-2 M681 355.73h-2 M394 352.28h-2 M681 352.28h-2 M394 349.02h-2 M681 349.02h-2 M394 345.95h-2 M681 345.95h-2 M394 343.03h-2 M681 343.03h-2 M394 340.25h-2 M681 340.25h-2 M394 337.61h-2 M681 337.61h-2 M394 335.08h-2 M681 335.08h-2 M394 332.66h-2 M681 332.66h-2 M394 327.02h-2 M681 327.02h-2 M394 323.89h-2 M681 323.89h-2 M394 320.92h-2 M681 320.92h-2 M394 318.1h-2 M681 318.1h-2 M394 315.41h-2 M681 315.41h-2 M394 312.84h-2 M681 312.84h-2 M394 310.39h-2 M681 310.39h-2 M394 308.03h-2 M681 308.03h-2 M394 305.77h-2 M681 305.77h-2 M394 302.19h-2 M681 302.19h-2 M394 300.82h-2 M681 300.82h-2 M394 299.48h-2 M681 299.48h-2 M394 298.17h-2 M681 298.17h-2 M394 296.89h-2 M681 296.89h-2 M394 295.64h-2 M681 295.64h-2 M394 294.42h-2 M681 294.42h-2 M394 293.22h-2 M681 293.22h-2 M394 292.05h-2 M681 292.05h-2 M394 288.12h-2 M681 288.12h-2 M394 285.48h-2 M681 285.48h-2 M394 282.95h-2 M681 282.95h-2 M394 280.53h-2 M681 280.53h-2 M394 278.2h-2 M681 278.2h-2 M394 275.97h-2 M681 275.97h-2 M394 273.83h-2 M681 273.83h-2 M394 271.76h-2 M681 271.76h-2 M394 269.76h-2 M681 269.76h-2" stroke="#000" stroke-width="1.0" fill="none"/>
<path d="M393.9 442.2v3.5 M393.9 264v3 M428.24 442.2v3.5 M428.24 264v3 M471.5 442.2v3.5 M471.5 264v3 M505.84 442.2v3.5 M505.84 264v3 M564.54 442.2v3.5 M564.54 264v3 M607.8 442.2v3.5 M607.8 264v3 M636.29 442.2v3.5 M636.29 264v3 M666.5 442.2v3.5 M666.5 264v3 M394 421.9h-4 M681 421.9h-4 M394 382.47h-4 M681 382.47h-4 M394 359.4h-4 M681 359.4h-4 M394 330.33h-4 M681 330.33h-4 M394 303.6h-4 M681 303.6h-4 M394 290.9h-4 M681 290.9h-4 M394 267.83h-4 M681 267.83h-4" stroke="#000" stroke-width="1.2" fill="none"/>
<rect x="394" y="264" width="287" height="178.2" fill="none" stroke="#000" stroke-width="1.4"/>
<text transform="translate(393.9,454.8) scale(1.17,1)" font-family="'Liberation Serif', serif" font-size="7.8" font-weight="bold" font-style="normal" fill="#000" text-anchor="middle" stroke="#000" stroke-width="0.25">400</text>
<text transform="translate(428.24,454.8) scale(1.17,1)" font-family="'Liberation Serif', serif" font-size="7.8" font-weight="bold" font-style="normal" fill="#000" text-anchor="middle" stroke="#000" stroke-width="0.25">600</text>
<text transform="translate(471.5,454.8) scale(1.17,1)" font-family="'Liberation Serif', serif" font-size="7.8" font-weight="bold" font-style="normal" fill="#000" text-anchor="middle" stroke="#000" stroke-width="0.25">1000</text>
<text transform="translate(505.84,454.8) scale(1.17,1)" font-family="'Liberation Serif', serif" font-size="7.8" font-weight="bold" font-style="normal" fill="#000" text-anchor="middle" stroke="#000" stroke-width="0.25">1500</text>
<text transform="translate(564.54,454.8) scale(1.17,1)" font-family="'Liberation Serif', serif" font-size="7.8" font-weight="bold" font-style="normal" fill="#000" text-anchor="middle" stroke="#000" stroke-width="0.25">3000</text>
<text transform="translate(607.8,454.8) scale(1.17,1)" font-family="'Liberation Serif', serif" font-size="7.8" font-weight="bold" font-style="normal" fill="#000" text-anchor="middle" stroke="#000" stroke-width="0.25">5000</text>
<text transform="translate(636.29,454.8) scale(1.17,1)" font-family="'Liberation Serif', serif" font-size="7.8" font-weight="bold" font-style="normal" fill="#000" text-anchor="middle" stroke="#000" stroke-width="0.25">7000</text>
<text transform="translate(666.5,454.8) scale(1.17,1)" font-family="'Liberation Serif', serif" font-size="7.8" font-weight="bold" font-style="normal" fill="#000" text-anchor="middle" stroke="#000" stroke-width="0.25">10000</text>
<text transform="translate(385.8,424.6) scale(1.17,1)" font-family="'Liberation Serif', serif" font-size="7.8" font-weight="bold" font-style="normal" fill="#000" text-anchor="end" stroke="#000" stroke-width="0.25">10</text>
<text transform="translate(385.8,385.17) scale(1.17,1)" font-family="'Liberation Serif', serif" font-size="7.8" font-weight="bold" font-style="normal" fill="#000" text-anchor="end" stroke="#000" stroke-width="0.25">20</text>
<text transform="translate(385.8,362.1) scale(1.17,1)" font-family="'Liberation Serif', serif" font-size="7.8" font-weight="bold" font-style="normal" fill="#000" text-anchor="end" stroke="#000" stroke-width="0.25">30</text>
<text transform="translate(385.8,333.03) scale(1.17,1)" font-family="'Liberation Serif', serif" font-size="7.8" font-weight="bold" font-style="normal" fill="#000" text-anchor="end" stroke="#000" stroke-width="0.25">50</text>
<text transform="translate(385.8,306.3) scale(1.17,1)" font-family="'Liberation Serif', serif" font-size="7.8" font-weight="bold" font-style="normal" fill="#000" text-anchor="end" stroke="#000" stroke-width="0.25">80</text>
<text transform="translate(385.8,293.6) scale(1.17,1)" font-family="'Liberation Serif', serif" font-size="7.8" font-weight="bold" font-style="normal" fill="#000" text-anchor="end" stroke="#000" stroke-width="0.25">100</text>
<text transform="translate(385.8,270.53) scale(1.17,1)" font-family="'Liberation Serif', serif" font-size="7.8" font-weight="bold" font-style="normal" fill="#000" text-anchor="end" stroke="#000" stroke-width="0.25">150</text>
<rect x="597" y="411.5" width="74.9" height="26.5" fill="#fff" stroke="#000" stroke-width="0.9"/>
<rect x="606" y="414.55" width="4" height="2.9" fill="#000" stroke="#000" stroke-width="0.3"/>
<text transform="translate(620.5,417.9)" font-family="'Liberation Serif', serif" font-size="6.4" font-weight="bold" font-style="normal" fill="#000" text-anchor="start" stroke="#000" stroke-width="0.15" textLength="50.2" lengthAdjust="spacingAndGlyphs">Heat Flux = 4</text>
<ellipse cx="608" cy="424.5" rx="2.25" ry="1.5" fill="#f00000" stroke="#f00000" stroke-width="0.3"/>
<text transform="translate(620.5,426.4)" font-family="'Liberation Serif', serif" font-size="6.4" font-weight="bold" font-style="normal" fill="#000" text-anchor="start" stroke="#000" stroke-width="0.15" textLength="50.2" lengthAdjust="spacingAndGlyphs">Heat Flux = 3</text>
<path d="M608 431L610.75 435L605.25 435Z" fill="#0000f0" stroke="#0000f0" stroke-width="0.3"/>
<text transform="translate(620.5,434.9)" font-family="'Liberation Serif', serif" font-size="6.4" font-weight="bold" font-style="normal" fill="#000" text-anchor="start" stroke="#000" stroke-width="0.15" textLength="50.2" lengthAdjust="spacingAndGlyphs">Heat Flux = 2</text>
<text transform="translate(366.4,353) rotate(-90)" font-family="'Liberation Serif', serif" font-size="10.5" font-weight="bold" font-style="italic" fill="#000" text-anchor="middle" textLength="11.2" lengthAdjust="spacingAndGlyphs">Nu</text>
<text transform="translate(537.5,469)" font-family="'Liberation Serif', serif" font-size="9.2" font-weight="bold" font-style="italic" fill="#000" text-anchor="middle" textLength="12.8" lengthAdjust="spacingAndGlyphs">Re</text>
<text transform="translate(537,486.2)" font-family="'Liberation Serif', serif" font-size="9.4" font-weight="normal" font-style="normal" fill="#000" text-anchor="middle" textLength="12.2" lengthAdjust="spacingAndGlyphs">(d)</text>
<rect x="234.25" y="646.95" width="3.3" height="2.7" fill="none" stroke="#000" stroke-width="0.75"/>
<rect x="248.35" y="637.05" width="3.3" height="2.7" fill="none" stroke="#000" stroke-width="0.75"/>
<rect x="259.55" y="635.25" width="3.3" height="2.7" fill="none" stroke="#000" stroke-width="0.75"/>
<rect x="268.75" y="629.45" width="3.3" height="2.7" fill="none" stroke="#000" stroke-width="0.75"/>
<rect x="276.65" y="624.05" width="3.3" height="2.7" fill="none" stroke="#000" stroke-width="0.75"/>
<rect x="283.45" y="621.55" width="3.3" height="2.7" fill="none" stroke="#000" stroke-width="0.75"/>
<rect x="289.55" y="618.25" width="3.3" height="2.7" fill="none" stroke="#000" stroke-width="0.75"/>
<rect x="294.95" y="614.75" width="3.3" height="2.7" fill="none" stroke="#000" stroke-width="0.75"/>
<rect x="299.85" y="611.35" width="3.3" height="2.7" fill="none" stroke="#000" stroke-width="0.75"/>
<rect x="304.39" y="606.17" width="3.3" height="2.7" fill="none" stroke="#000" stroke-width="0.75"/>
<rect x="308.57" y="603.53" width="3.3" height="2.7" fill="none" stroke="#000" stroke-width="0.75"/>
<rect x="312.44" y="600.56" width="3.3" height="2.7" fill="none" stroke="#000" stroke-width="0.75"/>
<rect x="316.05" y="597.65" width="3.3" height="2.7" fill="none" stroke="#000" stroke-width="0.75"/>
<rect x="319.43" y="594.69" width="3.3" height="2.7" fill="none" stroke="#000" stroke-width="0.75"/>
<rect x="322.6" y="591.8" width="3.3" height="2.7" fill="none" stroke="#000" stroke-width="0.75"/>
<rect x="325.6" y="588.74" width="3.3" height="2.7" fill="none" stroke="#000" stroke-width="0.75"/>
<rect x="328.44" y="585.45" width="3.3" height="2.7" fill="none" stroke="#000" stroke-width="0.75"/>
<rect x="331.13" y="582.35" width="3.3" height="2.7" fill="none" stroke="#000" stroke-width="0.75"/>
<rect x="333.69" y="580.01" width="3.3" height="2.7" fill="none" stroke="#000" stroke-width="0.75"/>
<rect x="336.13" y="577.78" width="3.3" height="2.7" fill="none" stroke="#000" stroke-width="0.75"/>
<rect x="338.47" y="575.67" width="3.3" height="2.7" fill="none" stroke="#000" stroke-width="0.75"/>
<rect x="340.71" y="573.65" width="3.3" height="2.7" fill="none" stroke="#000" stroke-width="0.75"/>
<rect x="342.85" y="571.73" width="3.3" height="2.7" fill="none" stroke="#000" stroke-width="0.75"/>
<rect x="344.92" y="569.8" width="3.3" height="2.7" fill="none" stroke="#000" stroke-width="0.75"/>
<rect x="346.9" y="567.84" width="3.3" height="2.7" fill="none" stroke="#000" stroke-width="0.75"/>
<rect x="348.82" y="565.95" width="3.3" height="2.7" fill="none" stroke="#000" stroke-width="0.75"/>
<rect x="350.66" y="564.13" width="3.3" height="2.7" fill="none" stroke="#000" stroke-width="0.75"/>
<rect x="352.45" y="562.61" width="3.3" height="2.7" fill="none" stroke="#000" stroke-width="0.75"/>
<rect x="354.17" y="561.19" width="3.3" height="2.7" fill="none" stroke="#000" stroke-width="0.75"/>
<rect x="355.85" y="559.83" width="3.3" height="2.7" fill="none" stroke="#000" stroke-width="0.75"/>
<rect x="357.47" y="558.59" width="3.3" height="2.7" fill="none" stroke="#000" stroke-width="0.75"/>
<rect x="359.04" y="557.47" width="3.3" height="2.7" fill="none" stroke="#000" stroke-width="0.75"/>
<rect x="360.57" y="556.37" width="3.3" height="2.7" fill="none" stroke="#000" stroke-width="0.75"/>
<rect x="362.05" y="555.31" width="3.3" height="2.7" fill="none" stroke="#000" stroke-width="0.75"/>
<rect x="363.5" y="554.22" width="3.3" height="2.7" fill="none" stroke="#000" stroke-width="0.75"/>
<rect x="364.9" y="552.94" width="3.3" height="2.7" fill="none" stroke="#000" stroke-width="0.75"/>
<rect x="366.27" y="551.69" width="3.3" height="2.7" fill="none" stroke="#000" stroke-width="0.75"/>
<rect x="367.61" y="550.47" width="3.3" height="2.7" fill="none" stroke="#000" stroke-width="0.75"/>
<rect x="368.91" y="549.28" width="3.3" height="2.7" fill="none" stroke="#000" stroke-width="0.75"/>
<rect x="370.18" y="548.12" width="3.3" height="2.7" fill="none" stroke="#000" stroke-width="0.75"/>
<rect x="371.42" y="546.88" width="3.3" height="2.7" fill="none" stroke="#000" stroke-width="0.75"/>
<rect x="372.64" y="545.66" width="3.3" height="2.7" fill="none" stroke="#000" stroke-width="0.75"/>
<rect x="373.82" y="544.48" width="3.3" height="2.7" fill="none" stroke="#000" stroke-width="0.75"/>
<rect x="374.98" y="543.32" width="3.3" height="2.7" fill="none" stroke="#000" stroke-width="0.75"/>
<rect x="376.12" y="542.18" width="3.3" height="2.7" fill="none" stroke="#000" stroke-width="0.75"/>
<rect x="377.23" y="541.11" width="3.3" height="2.7" fill="none" stroke="#000" stroke-width="0.75"/>
<rect x="378.32" y="540.26" width="3.3" height="2.7" fill="none" stroke="#000" stroke-width="0.75"/>
<rect x="379.38" y="539.42" width="3.3" height="2.7" fill="none" stroke="#000" stroke-width="0.75"/>
<rect x="380.43" y="538.6" width="3.3" height="2.7" fill="none" stroke="#000" stroke-width="0.75"/>
<rect x="381.45" y="537.79" width="3.3" height="2.7" fill="none" stroke="#000" stroke-width="0.75"/>
<rect x="382.46" y="537" width="3.3" height="2.7" fill="none" stroke="#000" stroke-width="0.75"/>
<rect x="383.45" y="536.23" width="3.3" height="2.7" fill="none" stroke="#000" stroke-width="0.75"/>
<rect x="384.41" y="535.44" width="3.3" height="2.7" fill="none" stroke="#000" stroke-width="0.75"/>
<rect x="385.37" y="534.63" width="3.3" height="2.7" fill="none" stroke="#000" stroke-width="0.75"/>
<rect x="386.3" y="533.83" width="3.3" height="2.7" fill="none" stroke="#000" stroke-width="0.75"/>
<rect x="387.22" y="533.04" width="3.3" height="2.7" fill="none" stroke="#000" stroke-width="0.75"/>
<rect x="388.12" y="532.27" width="3.3" height="2.7" fill="none" stroke="#000" stroke-width="0.75"/>
<rect x="235.15" y="649.65" width="3.3" height="2.7" fill="#000" stroke="#000" stroke-width="0.3"/>
<rect x="249.25" y="639.65" width="3.3" height="2.7" fill="#000" stroke="#000" stroke-width="0.3"/>
<rect x="260.45" y="637.35" width="3.3" height="2.7" fill="#000" stroke="#000" stroke-width="0.3"/>
<rect x="269.65" y="632.05" width="3.3" height="2.7" fill="#000" stroke="#000" stroke-width="0.3"/>
<rect x="277.55" y="626.45" width="3.3" height="2.7" fill="#000" stroke="#000" stroke-width="0.3"/>
<rect x="284.35" y="623.65" width="3.3" height="2.7" fill="#000" stroke="#000" stroke-width="0.3"/>
<rect x="290.45" y="620.45" width="3.3" height="2.7" fill="#000" stroke="#000" stroke-width="0.3"/>
<rect x="295.85" y="616.95" width="3.3" height="2.7" fill="#000" stroke="#000" stroke-width="0.3"/>
<rect x="300.68" y="613.45" width="3.3" height="2.7" fill="#000" stroke="#000" stroke-width="0.3"/>
<rect x="305.02" y="607.65" width="3.3" height="2.7" fill="#000" stroke="#000" stroke-width="0.3"/>
<rect x="309.01" y="605.34" width="3.3" height="2.7" fill="#000" stroke="#000" stroke-width="0.3"/>
<rect x="312.7" y="602.68" width="3.3" height="2.7" fill="#000" stroke="#000" stroke-width="0.3"/>
<rect x="316.15" y="600.07" width="3.3" height="2.7" fill="#000" stroke="#000" stroke-width="0.3"/>
<rect x="319.43" y="597.26" width="3.3" height="2.7" fill="#000" stroke="#000" stroke-width="0.3"/>
<rect x="322.6" y="594.4" width="3.3" height="2.7" fill="#000" stroke="#000" stroke-width="0.3"/>
<rect x="325.6" y="591.34" width="3.3" height="2.7" fill="#000" stroke="#000" stroke-width="0.3"/>
<rect x="328.44" y="588.05" width="3.3" height="2.7" fill="#000" stroke="#000" stroke-width="0.3"/>
<rect x="331.13" y="584.95" width="3.3" height="2.7" fill="#000" stroke="#000" stroke-width="0.3"/>
<rect x="333.69" y="582.61" width="3.3" height="2.7" fill="#000" stroke="#000" stroke-width="0.3"/>
<rect x="336.13" y="580.38" width="3.3" height="2.7" fill="#000" stroke="#000" stroke-width="0.3"/>
<rect x="338.47" y="578.27" width="3.3" height="2.7" fill="#000" stroke="#000" stroke-width="0.3"/>
<rect x="340.71" y="576.25" width="3.3" height="2.7" fill="#000" stroke="#000" stroke-width="0.3"/>
<rect x="342.85" y="574.33" width="3.3" height="2.7" fill="#000" stroke="#000" stroke-width="0.3"/>
<rect x="344.92" y="572.4" width="3.3" height="2.7" fill="#000" stroke="#000" stroke-width="0.3"/>
<rect x="346.9" y="570.44" width="3.3" height="2.7" fill="#000" stroke="#000" stroke-width="0.3"/>
<rect x="348.82" y="568.55" width="3.3" height="2.7" fill="#000" stroke="#000" stroke-width="0.3"/>
<rect x="350.66" y="566.73" width="3.3" height="2.7" fill="#000" stroke="#000" stroke-width="0.3"/>
<rect x="352.45" y="565.21" width="3.3" height="2.7" fill="#000" stroke="#000" stroke-width="0.3"/>
<rect x="354.17" y="563.79" width="3.3" height="2.7" fill="#000" stroke="#000" stroke-width="0.3"/>
<rect x="355.85" y="562.43" width="3.3" height="2.7" fill="#000" stroke="#000" stroke-width="0.3"/>
<rect x="357.47" y="561.19" width="3.3" height="2.7" fill="#000" stroke="#000" stroke-width="0.3"/>
<rect x="359.04" y="560.07" width="3.3" height="2.7" fill="#000" stroke="#000" stroke-width="0.3"/>
<rect x="360.57" y="558.97" width="3.3" height="2.7" fill="#000" stroke="#000" stroke-width="0.3"/>
<rect x="362.05" y="557.91" width="3.3" height="2.7" fill="#000" stroke="#000" stroke-width="0.3"/>
<rect x="363.5" y="556.82" width="3.3" height="2.7" fill="#000" stroke="#000" stroke-width="0.3"/>
<rect x="364.9" y="555.54" width="3.3" height="2.7" fill="#000" stroke="#000" stroke-width="0.3"/>
<rect x="366.27" y="554.29" width="3.3" height="2.7" fill="#000" stroke="#000" stroke-width="0.3"/>
<rect x="367.61" y="553.07" width="3.3" height="2.7" fill="#000" stroke="#000" stroke-width="0.3"/>
<rect x="368.91" y="551.88" width="3.3" height="2.7" fill="#000" stroke="#000" stroke-width="0.3"/>
<rect x="370.18" y="550.72" width="3.3" height="2.7" fill="#000" stroke="#000" stroke-width="0.3"/>
<rect x="371.42" y="549.48" width="3.3" height="2.7" fill="#000" stroke="#000" stroke-width="0.3"/>
<rect x="372.64" y="548.26" width="3.3" height="2.7" fill="#000" stroke="#000" stroke-width="0.3"/>
<rect x="373.82" y="547.08" width="3.3" height="2.7" fill="#000" stroke="#000" stroke-width="0.3"/>
<rect x="374.98" y="545.92" width="3.3" height="2.7" fill="#000" stroke="#000" stroke-width="0.3"/>
<rect x="376.12" y="544.78" width="3.3" height="2.7" fill="#000" stroke="#000" stroke-width="0.3"/>
<rect x="377.23" y="543.71" width="3.3" height="2.7" fill="#000" stroke="#000" stroke-width="0.3"/>
<rect x="378.32" y="542.86" width="3.3" height="2.7" fill="#000" stroke="#000" stroke-width="0.3"/>
<rect x="379.38" y="542.02" width="3.3" height="2.7" fill="#000" stroke="#000" stroke-width="0.3"/>
<rect x="380.43" y="541.2" width="3.3" height="2.7" fill="#000" stroke="#000" stroke-width="0.3"/>
<rect x="381.45" y="540.39" width="3.3" height="2.7" fill="#000" stroke="#000" stroke-width="0.3"/>
<rect x="382.46" y="539.6" width="3.3" height="2.7" fill="#000" stroke="#000" stroke-width="0.3"/>
<rect x="383.45" y="538.83" width="3.3" height="2.7" fill="#000" stroke="#000" stroke-width="0.3"/>
<rect x="384.41" y="538.04" width="3.3" height="2.7" fill="#000" stroke="#000" stroke-width="0.3"/>
<rect x="385.37" y="537.23" width="3.3" height="2.7" fill="#000" stroke="#000" stroke-width="0.3"/>
<rect x="386.3" y="536.43" width="3.3" height="2.7" fill="#000" stroke="#000" stroke-width="0.3"/>
<rect x="387.22" y="535.64" width="3.3" height="2.7" fill="#000" stroke="#000" stroke-width="0.3"/>
<rect x="388.12" y="534.87" width="3.3" height="2.7" fill="#000" stroke="#000" stroke-width="0.3"/>
<ellipse cx="237.4" cy="654.1" rx="1.8" ry="1.4" fill="none" stroke="#b03030" stroke-width="0.75"/>
<ellipse cx="251.5" cy="648.6" rx="1.8" ry="1.4" fill="none" stroke="#b03030" stroke-width="0.75"/>
<ellipse cx="262.7" cy="644.1" rx="1.8" ry="1.4" fill="none" stroke="#b03030" stroke-width="0.75"/>
<ellipse cx="271.9" cy="638.6" rx="1.8" ry="1.4" fill="none" stroke="#b03030" stroke-width="0.75"/>
<ellipse cx="279.8" cy="633.6" rx="1.8" ry="1.4" fill="none" stroke="#b03030" stroke-width="0.75"/>
<ellipse cx="286.6" cy="629.1" rx="1.8" ry="1.4" fill="none" stroke="#b03030" stroke-width="0.75"/>
<ellipse cx="292.7" cy="626.1" rx="1.8" ry="1.4" fill="none" stroke="#b03030" stroke-width="0.75"/>
<ellipse cx="298.1" cy="625.1" rx="1.8" ry="1.4" fill="none" stroke="#b03030" stroke-width="0.75"/>
<ellipse cx="302.89" cy="619.1" rx="1.8" ry="1.4" fill="none" stroke="#b03030" stroke-width="0.75"/>
<ellipse cx="307.08" cy="612.92" rx="1.8" ry="1.4" fill="none" stroke="#b03030" stroke-width="0.75"/>
<ellipse cx="310.95" cy="609.86" rx="1.8" ry="1.4" fill="none" stroke="#b03030" stroke-width="0.75"/>
<ellipse cx="314.53" cy="606.5" rx="1.8" ry="1.4" fill="none" stroke="#b03030" stroke-width="0.75"/>
<ellipse cx="317.87" cy="603.23" rx="1.8" ry="1.4" fill="none" stroke="#b03030" stroke-width="0.75"/>
<ellipse cx="321.08" cy="600.07" rx="1.8" ry="1.4" fill="none" stroke="#b03030" stroke-width="0.75"/>
<ellipse cx="324.25" cy="597.13" rx="1.8" ry="1.4" fill="none" stroke="#b03030" stroke-width="0.75"/>
<ellipse cx="327.25" cy="594.07" rx="1.8" ry="1.4" fill="none" stroke="#b03030" stroke-width="0.75"/>
<ellipse cx="330.09" cy="590.77" rx="1.8" ry="1.4" fill="none" stroke="#b03030" stroke-width="0.75"/>
<ellipse cx="332.78" cy="587.66" rx="1.8" ry="1.4" fill="none" stroke="#b03030" stroke-width="0.75"/>
<ellipse cx="335.34" cy="585.32" rx="1.8" ry="1.4" fill="none" stroke="#b03030" stroke-width="0.75"/>
<ellipse cx="337.78" cy="583.08" rx="1.8" ry="1.4" fill="none" stroke="#b03030" stroke-width="0.75"/>
<ellipse cx="340.12" cy="580.96" rx="1.8" ry="1.4" fill="none" stroke="#b03030" stroke-width="0.75"/>
<ellipse cx="342.36" cy="578.94" rx="1.8" ry="1.4" fill="none" stroke="#b03030" stroke-width="0.75"/>
<ellipse cx="344.5" cy="577.01" rx="1.8" ry="1.4" fill="none" stroke="#b03030" stroke-width="0.75"/>
<ellipse cx="346.57" cy="575.07" rx="1.8" ry="1.4" fill="none" stroke="#b03030" stroke-width="0.75"/>
<ellipse cx="348.55" cy="573.11" rx="1.8" ry="1.4" fill="none" stroke="#b03030" stroke-width="0.75"/>
<ellipse cx="350.47" cy="571.22" rx="1.8" ry="1.4" fill="none" stroke="#b03030" stroke-width="0.75"/>
<ellipse cx="352.31" cy="569.39" rx="1.8" ry="1.4" fill="none" stroke="#b03030" stroke-width="0.75"/>
<ellipse cx="354.1" cy="567.86" rx="1.8" ry="1.4" fill="none" stroke="#b03030" stroke-width="0.75"/>
<ellipse cx="355.82" cy="566.44" rx="1.8" ry="1.4" fill="none" stroke="#b03030" stroke-width="0.75"/>
<ellipse cx="357.5" cy="565.07" rx="1.8" ry="1.4" fill="none" stroke="#b03030" stroke-width="0.75"/>
<ellipse cx="359.12" cy="563.83" rx="1.8" ry="1.4" fill="none" stroke="#b03030" stroke-width="0.75"/>
<ellipse cx="360.69" cy="562.7" rx="1.8" ry="1.4" fill="none" stroke="#b03030" stroke-width="0.75"/>
<ellipse cx="362.22" cy="561.6" rx="1.8" ry="1.4" fill="none" stroke="#b03030" stroke-width="0.75"/>
<ellipse cx="363.7" cy="560.53" rx="1.8" ry="1.4" fill="none" stroke="#b03030" stroke-width="0.75"/>
<ellipse cx="365.15" cy="559.45" rx="1.8" ry="1.4" fill="none" stroke="#b03030" stroke-width="0.75"/>
<ellipse cx="366.55" cy="558.16" rx="1.8" ry="1.4" fill="none" stroke="#b03030" stroke-width="0.75"/>
<ellipse cx="367.92" cy="556.9" rx="1.8" ry="1.4" fill="none" stroke="#b03030" stroke-width="0.75"/>
<ellipse cx="369.26" cy="555.68" rx="1.8" ry="1.4" fill="none" stroke="#b03030" stroke-width="0.75"/>
<ellipse cx="370.56" cy="554.49" rx="1.8" ry="1.4" fill="none" stroke="#b03030" stroke-width="0.75"/>
<ellipse cx="371.83" cy="553.32" rx="1.8" ry="1.4" fill="none" stroke="#b03030" stroke-width="0.75"/>
<ellipse cx="373.07" cy="552.08" rx="1.8" ry="1.4" fill="none" stroke="#b03030" stroke-width="0.75"/>
<ellipse cx="374.29" cy="550.86" rx="1.8" ry="1.4" fill="none" stroke="#b03030" stroke-width="0.75"/>
<ellipse cx="375.47" cy="549.67" rx="1.8" ry="1.4" fill="none" stroke="#b03030" stroke-width="0.75"/>
<ellipse cx="376.63" cy="548.51" rx="1.8" ry="1.4" fill="none" stroke="#b03030" stroke-width="0.75"/>
<ellipse cx="377.77" cy="547.37" rx="1.8" ry="1.4" fill="none" stroke="#b03030" stroke-width="0.75"/>
<ellipse cx="378.88" cy="546.29" rx="1.8" ry="1.4" fill="none" stroke="#b03030" stroke-width="0.75"/>
<ellipse cx="379.97" cy="545.43" rx="1.8" ry="1.4" fill="none" stroke="#b03030" stroke-width="0.75"/>
<ellipse cx="381.03" cy="544.59" rx="1.8" ry="1.4" fill="none" stroke="#b03030" stroke-width="0.75"/>
<ellipse cx="382.08" cy="543.77" rx="1.8" ry="1.4" fill="none" stroke="#b03030" stroke-width="0.75"/>
<ellipse cx="383.1" cy="542.96" rx="1.8" ry="1.4" fill="none" stroke="#b03030" stroke-width="0.75"/>
<ellipse cx="384.11" cy="542.17" rx="1.8" ry="1.4" fill="none" stroke="#b03030" stroke-width="0.75"/>
<ellipse cx="385.1" cy="541.39" rx="1.8" ry="1.4" fill="none" stroke="#b03030" stroke-width="0.75"/>
<ellipse cx="386.06" cy="540.6" rx="1.8" ry="1.4" fill="none" stroke="#b03030" stroke-width="0.75"/>
<ellipse cx="387.02" cy="539.79" rx="1.8" ry="1.4" fill="none" stroke="#b03030" stroke-width="0.75"/>
<ellipse cx="387.95" cy="538.98" rx="1.8" ry="1.4" fill="none" stroke="#b03030" stroke-width="0.75"/>
<ellipse cx="388.87" cy="538.2" rx="1.8" ry="1.4" fill="none" stroke="#b03030" stroke-width="0.75"/>
<ellipse cx="389.77" cy="537.42" rx="1.8" ry="1.4" fill="none" stroke="#b03030" stroke-width="0.75"/>
<ellipse cx="237.9" cy="656.4" rx="1.9" ry="1.5" fill="#ff0000" stroke="#ff0000" stroke-width="0.3"/>
<ellipse cx="252" cy="650.6" rx="1.9" ry="1.5" fill="#ff0000" stroke="#ff0000" stroke-width="0.3"/>
<ellipse cx="263.2" cy="645.9" rx="1.9" ry="1.5" fill="#ff0000" stroke="#ff0000" stroke-width="0.3"/>
<ellipse cx="272.4" cy="640.4" rx="1.9" ry="1.5" fill="#ff0000" stroke="#ff0000" stroke-width="0.3"/>
<ellipse cx="280.3" cy="635.8" rx="1.9" ry="1.5" fill="#ff0000" stroke="#ff0000" stroke-width="0.3"/>
<ellipse cx="287.1" cy="631" rx="1.9" ry="1.5" fill="#ff0000" stroke="#ff0000" stroke-width="0.3"/>
<ellipse cx="293.2" cy="628" rx="1.9" ry="1.5" fill="#ff0000" stroke="#ff0000" stroke-width="0.3"/>
<ellipse cx="298.6" cy="627.1" rx="1.9" ry="1.5" fill="#ff0000" stroke="#ff0000" stroke-width="0.3"/>
<ellipse cx="303.35" cy="621" rx="1.9" ry="1.5" fill="#ff0000" stroke="#ff0000" stroke-width="0.3"/>
<ellipse cx="307.43" cy="613.33" rx="1.9" ry="1.5" fill="#ff0000" stroke="#ff0000" stroke-width="0.3"/>
<ellipse cx="311.19" cy="610.2" rx="1.9" ry="1.5" fill="#ff0000" stroke="#ff0000" stroke-width="0.3"/>
<ellipse cx="314.68" cy="606.79" rx="1.9" ry="1.5" fill="#ff0000" stroke="#ff0000" stroke-width="0.3"/>
<ellipse cx="317.93" cy="603.47" rx="1.9" ry="1.5" fill="#ff0000" stroke="#ff0000" stroke-width="0.3"/>
<ellipse cx="321.08" cy="600.28" rx="1.9" ry="1.5" fill="#ff0000" stroke="#ff0000" stroke-width="0.3"/>
<ellipse cx="324.25" cy="597.33" rx="1.9" ry="1.5" fill="#ff0000" stroke="#ff0000" stroke-width="0.3"/>
<ellipse cx="327.25" cy="594.27" rx="1.9" ry="1.5" fill="#ff0000" stroke="#ff0000" stroke-width="0.3"/>
<ellipse cx="330.09" cy="590.97" rx="1.9" ry="1.5" fill="#ff0000" stroke="#ff0000" stroke-width="0.3"/>
<ellipse cx="332.78" cy="587.86" rx="1.9" ry="1.5" fill="#ff0000" stroke="#ff0000" stroke-width="0.3"/>
<ellipse cx="335.34" cy="585.52" rx="1.9" ry="1.5" fill="#ff0000" stroke="#ff0000" stroke-width="0.3"/>
<ellipse cx="337.78" cy="583.28" rx="1.9" ry="1.5" fill="#ff0000" stroke="#ff0000" stroke-width="0.3"/>
<ellipse cx="340.12" cy="581.16" rx="1.9" ry="1.5" fill="#ff0000" stroke="#ff0000" stroke-width="0.3"/>
<ellipse cx="342.36" cy="579.14" rx="1.9" ry="1.5" fill="#ff0000" stroke="#ff0000" stroke-width="0.3"/>
<ellipse cx="344.5" cy="577.21" rx="1.9" ry="1.5" fill="#ff0000" stroke="#ff0000" stroke-width="0.3"/>
<ellipse cx="346.57" cy="575.27" rx="1.9" ry="1.5" fill="#ff0000" stroke="#ff0000" stroke-width="0.3"/>
<ellipse cx="348.55" cy="573.31" rx="1.9" ry="1.5" fill="#ff0000" stroke="#ff0000" stroke-width="0.3"/>
<ellipse cx="350.47" cy="571.42" rx="1.9" ry="1.5" fill="#ff0000" stroke="#ff0000" stroke-width="0.3"/>
<ellipse cx="352.31" cy="569.59" rx="1.9" ry="1.5" fill="#ff0000" stroke="#ff0000" stroke-width="0.3"/>
<ellipse cx="354.1" cy="568.06" rx="1.9" ry="1.5" fill="#ff0000" stroke="#ff0000" stroke-width="0.3"/>
<ellipse cx="355.82" cy="566.64" rx="1.9" ry="1.5" fill="#ff0000" stroke="#ff0000" stroke-width="0.3"/>
<ellipse cx="357.5" cy="565.27" rx="1.9" ry="1.5" fill="#ff0000" stroke="#ff0000" stroke-width="0.3"/>
<ellipse cx="359.12" cy="564.03" rx="1.9" ry="1.5" fill="#ff0000" stroke="#ff0000" stroke-width="0.3"/>
<ellipse cx="360.69" cy="562.9" rx="1.9" ry="1.5" fill="#ff0000" stroke="#ff0000" stroke-width="0.3"/>
<ellipse cx="362.22" cy="561.8" rx="1.9" ry="1.5" fill="#ff0000" stroke="#ff0000" stroke-width="0.3"/>
<ellipse cx="363.7" cy="560.73" rx="1.9" ry="1.5" fill="#ff0000" stroke="#ff0000" stroke-width="0.3"/>
<ellipse cx="365.15" cy="559.65" rx="1.9" ry="1.5" fill="#ff0000" stroke="#ff0000" stroke-width="0.3"/>
<ellipse cx="366.55" cy="558.36" rx="1.9" ry="1.5" fill="#ff0000" stroke="#ff0000" stroke-width="0.3"/>
<ellipse cx="367.92" cy="557.1" rx="1.9" ry="1.5" fill="#ff0000" stroke="#ff0000" stroke-width="0.3"/>
<ellipse cx="369.26" cy="555.88" rx="1.9" ry="1.5" fill="#ff0000" stroke="#ff0000" stroke-width="0.3"/>
<ellipse cx="370.56" cy="554.69" rx="1.9" ry="1.5" fill="#ff0000" stroke="#ff0000" stroke-width="0.3"/>
<ellipse cx="371.83" cy="553.52" rx="1.9" ry="1.5" fill="#ff0000" stroke="#ff0000" stroke-width="0.3"/>
<ellipse cx="373.07" cy="552.28" rx="1.9" ry="1.5" fill="#ff0000" stroke="#ff0000" stroke-width="0.3"/>
<ellipse cx="374.29" cy="551.06" rx="1.9" ry="1.5" fill="#ff0000" stroke="#ff0000" stroke-width="0.3"/>
<ellipse cx="375.47" cy="549.87" rx="1.9" ry="1.5" fill="#ff0000" stroke="#ff0000" stroke-width="0.3"/>
<ellipse cx="376.63" cy="548.71" rx="1.9" ry="1.5" fill="#ff0000" stroke="#ff0000" stroke-width="0.3"/>
<ellipse cx="377.77" cy="547.57" rx="1.9" ry="1.5" fill="#ff0000" stroke="#ff0000" stroke-width="0.3"/>
<ellipse cx="378.88" cy="546.49" rx="1.9" ry="1.5" fill="#ff0000" stroke="#ff0000" stroke-width="0.3"/>
<ellipse cx="379.97" cy="545.63" rx="1.9" ry="1.5" fill="#ff0000" stroke="#ff0000" stroke-width="0.3"/>
<ellipse cx="381.03" cy="544.79" rx="1.9" ry="1.5" fill="#ff0000" stroke="#ff0000" stroke-width="0.3"/>
<ellipse cx="382.08" cy="543.97" rx="1.9" ry="1.5" fill="#ff0000" stroke="#ff0000" stroke-width="0.3"/>
<ellipse cx="383.1" cy="543.16" rx="1.9" ry="1.5" fill="#ff0000" stroke="#ff0000" stroke-width="0.3"/>
<ellipse cx="384.11" cy="542.37" rx="1.9" ry="1.5" fill="#ff0000" stroke="#ff0000" stroke-width="0.3"/>
<ellipse cx="385.1" cy="541.59" rx="1.9" ry="1.5" fill="#ff0000" stroke="#ff0000" stroke-width="0.3"/>
<ellipse cx="386.06" cy="540.8" rx="1.9" ry="1.5" fill="#ff0000" stroke="#ff0000" stroke-width="0.3"/>
<ellipse cx="387.02" cy="539.99" rx="1.9" ry="1.5" fill="#ff0000" stroke="#ff0000" stroke-width="0.3"/>
<ellipse cx="387.95" cy="539.18" rx="1.9" ry="1.5" fill="#ff0000" stroke="#ff0000" stroke-width="0.3"/>
<ellipse cx="388.87" cy="538.4" rx="1.9" ry="1.5" fill="#ff0000" stroke="#ff0000" stroke-width="0.3"/>
<ellipse cx="389.77" cy="537.62" rx="1.9" ry="1.5" fill="#ff0000" stroke="#ff0000" stroke-width="0.3"/>
<path d="M235.9 668.5L238 671.7L233.8 671.7Z" fill="none" stroke="#40e040" stroke-width="0.75"/>
<path d="M250 664L252.1 667.2L247.9 667.2Z" fill="none" stroke="#40e040" stroke-width="0.75"/>
<path d="M261.2 657L263.3 660.2L259.1 660.2Z" fill="none" stroke="#40e040" stroke-width="0.75"/>
<path d="M270.4 656L272.5 659.2L268.3 659.2Z" fill="none" stroke="#40e040" stroke-width="0.75"/>
<path d="M278.3 651L280.4 654.2L276.2 654.2Z" fill="none" stroke="#40e040" stroke-width="0.75"/>
<path d="M285.1 644L287.2 647.2L283 647.2Z" fill="none" stroke="#40e040" stroke-width="0.75"/>
<path d="M291.2 638.5L293.3 641.7L289.1 641.7Z" fill="none" stroke="#40e040" stroke-width="0.75"/>
<path d="M296.6 634L298.7 637.2L294.5 637.2Z" fill="none" stroke="#40e040" stroke-width="0.75"/>
<path d="M301.5 627L303.6 630.2L299.4 630.2Z" fill="none" stroke="#40e040" stroke-width="0.75"/>
<path d="M306.04 622.29L308.14 625.49L303.94 625.49Z" fill="none" stroke="#40e040" stroke-width="0.75"/>
<path d="M310.22 619.18L312.32 622.38L308.12 622.38Z" fill="none" stroke="#40e040" stroke-width="0.75"/>
<path d="M314.09 615.61L316.19 618.81L311.99 618.81Z" fill="none" stroke="#40e040" stroke-width="0.75"/>
<path d="M317.7 612.15L319.8 615.35L315.6 615.35Z" fill="none" stroke="#40e040" stroke-width="0.75"/>
<path d="M321.08 608.69L323.18 611.89L318.98 611.89Z" fill="none" stroke="#40e040" stroke-width="0.75"/>
<path d="M324.25 605.38L326.35 608.58L322.15 608.58Z" fill="none" stroke="#40e040" stroke-width="0.75"/>
<path d="M327.25 602.16L329.35 605.36L325.15 605.36Z" fill="none" stroke="#40e040" stroke-width="0.75"/>
<path d="M330.09 598.82L332.19 602.02L327.99 602.02Z" fill="none" stroke="#40e040" stroke-width="0.75"/>
<path d="M332.78 595.67L334.88 598.87L330.68 598.87Z" fill="none" stroke="#40e040" stroke-width="0.75"/>
<path d="M335.34 593.29L337.44 596.49L333.24 596.49Z" fill="none" stroke="#40e040" stroke-width="0.75"/>
<path d="M337.78 591.02L339.88 594.22L335.68 594.22Z" fill="none" stroke="#40e040" stroke-width="0.75"/>
<path d="M340.12 588.87L342.22 592.07L338.02 592.07Z" fill="none" stroke="#40e040" stroke-width="0.75"/>
<path d="M342.36 586.82L344.46 590.02L340.26 590.02Z" fill="none" stroke="#40e040" stroke-width="0.75"/>
<path d="M344.5 584.86L346.6 588.06L342.4 588.06Z" fill="none" stroke="#40e040" stroke-width="0.75"/>
<path d="M346.57 582.9L348.67 586.1L344.47 586.1Z" fill="none" stroke="#40e040" stroke-width="0.75"/>
<path d="M348.55 580.91L350.65 584.11L346.45 584.11Z" fill="none" stroke="#40e040" stroke-width="0.75"/>
<path d="M350.47 578.99L352.57 582.19L348.37 582.19Z" fill="none" stroke="#40e040" stroke-width="0.75"/>
<path d="M352.31 577.14L354.41 580.34L350.21 580.34Z" fill="none" stroke="#40e040" stroke-width="0.75"/>
<path d="M354.1 575.54L356.2 578.74L352 578.74Z" fill="none" stroke="#40e040" stroke-width="0.75"/>
<path d="M355.82 574.04L357.92 577.24L353.72 577.24Z" fill="none" stroke="#40e040" stroke-width="0.75"/>
<path d="M357.5 572.58L359.6 575.78L355.4 575.78Z" fill="none" stroke="#40e040" stroke-width="0.75"/>
<path d="M359.12 571.22L361.22 574.42L357.02 574.42Z" fill="none" stroke="#40e040" stroke-width="0.75"/>
<path d="M360.69 569.93L362.79 573.13L358.59 573.13Z" fill="none" stroke="#40e040" stroke-width="0.75"/>
<path d="M362.22 568.68L364.32 571.88L360.12 571.88Z" fill="none" stroke="#40e040" stroke-width="0.75"/>
<path d="M363.7 567.46L365.8 570.66L361.6 570.66Z" fill="none" stroke="#40e040" stroke-width="0.75"/>
<path d="M365.15 566.23L367.25 569.43L363.05 569.43Z" fill="none" stroke="#40e040" stroke-width="0.75"/>
<path d="M366.55 564.8L368.65 568L364.45 568Z" fill="none" stroke="#40e040" stroke-width="0.75"/>
<path d="M367.92 563.41L370.02 566.61L365.82 566.61Z" fill="none" stroke="#40e040" stroke-width="0.75"/>
<path d="M369.26 562.06L371.36 565.26L367.16 565.26Z" fill="none" stroke="#40e040" stroke-width="0.75"/>
<path d="M370.56 560.73L372.66 563.93L368.46 563.93Z" fill="none" stroke="#40e040" stroke-width="0.75"/>
<path d="M371.83 559.44L373.93 562.64L369.73 562.64Z" fill="none" stroke="#40e040" stroke-width="0.75"/>
<path d="M373.07 558.07L375.17 561.27L370.97 561.27Z" fill="none" stroke="#40e040" stroke-width="0.75"/>
<path d="M374.29 556.73L376.39 559.93L372.19 559.93Z" fill="none" stroke="#40e040" stroke-width="0.75"/>
<path d="M375.47 555.42L377.57 558.62L373.37 558.62Z" fill="none" stroke="#40e040" stroke-width="0.75"/>
<path d="M376.63 554.14L378.73 557.34L374.53 557.34Z" fill="none" stroke="#40e040" stroke-width="0.75"/>
<path d="M377.77 552.89L379.87 556.09L375.67 556.09Z" fill="none" stroke="#40e040" stroke-width="0.75"/>
<path d="M378.88 551.71L380.98 554.91L376.78 554.91Z" fill="none" stroke="#40e040" stroke-width="0.75"/>
<path d="M379.97 550.74L382.07 553.94L377.87 553.94Z" fill="none" stroke="#40e040" stroke-width="0.75"/>
<path d="M381.03 549.79L383.13 552.99L378.93 552.99Z" fill="none" stroke="#40e040" stroke-width="0.75"/>
<path d="M382.08 548.86L384.18 552.06L379.98 552.06Z" fill="none" stroke="#40e040" stroke-width="0.75"/>
<path d="M383.1 547.95L385.2 551.15L381 551.15Z" fill="none" stroke="#40e040" stroke-width="0.75"/>
<path d="M384.11 547.06L386.21 550.26L382.01 550.26Z" fill="none" stroke="#40e040" stroke-width="0.75"/>
<path d="M385.1 546.18L387.2 549.38L383 549.38Z" fill="none" stroke="#40e040" stroke-width="0.75"/>
<path d="M386.06 545.29L388.16 548.49L383.96 548.49Z" fill="none" stroke="#40e040" stroke-width="0.75"/>
<path d="M387.02 544.38L389.12 547.58L384.92 547.58Z" fill="none" stroke="#40e040" stroke-width="0.75"/>
<path d="M387.95 543.49L390.05 546.69L385.85 546.69Z" fill="none" stroke="#40e040" stroke-width="0.75"/>
<path d="M388.87 542.61L390.97 545.81L386.77 545.81Z" fill="none" stroke="#40e040" stroke-width="0.75"/>
<path d="M389.77 541.75L391.87 544.95L387.67 544.95Z" fill="none" stroke="#40e040" stroke-width="0.75"/>
<path d="M236.2 670.9L238.3 674.1L234.1 674.1Z" fill="#00e000" stroke="#00e000" stroke-width="0.3"/>
<path d="M250.3 666.9L252.4 670.1L248.2 670.1Z" fill="#00e000" stroke="#00e000" stroke-width="0.3"/>
<path d="M261.5 659.4L263.6 662.6L259.4 662.6Z" fill="#00e000" stroke="#00e000" stroke-width="0.3"/>
<path d="M270.7 658.4L272.8 661.6L268.6 661.6Z" fill="#00e000" stroke="#00e000" stroke-width="0.3"/>
<path d="M278.6 653.6L280.7 656.8L276.5 656.8Z" fill="#00e000" stroke="#00e000" stroke-width="0.3"/>
<path d="M285.4 646.1L287.5 649.3L283.3 649.3Z" fill="#00e000" stroke="#00e000" stroke-width="0.3"/>
<path d="M291.5 640.4L293.6 643.6L289.4 643.6Z" fill="#00e000" stroke="#00e000" stroke-width="0.3"/>
<path d="M296.9 636.1L299 639.3L294.8 639.3Z" fill="#00e000" stroke="#00e000" stroke-width="0.3"/>
<path d="M301.78 629L303.88 632.2L299.68 632.2Z" fill="#00e000" stroke="#00e000" stroke-width="0.3"/>
<path d="M306.25 622.71L308.35 625.91L304.15 625.91Z" fill="#00e000" stroke="#00e000" stroke-width="0.3"/>
<path d="M310.36 619.6L312.46 622.8L308.26 622.8Z" fill="#00e000" stroke="#00e000" stroke-width="0.3"/>
<path d="M314.18 616.05L316.28 619.25L312.08 619.25Z" fill="#00e000" stroke="#00e000" stroke-width="0.3"/>
<path d="M317.73 612.61L319.83 615.81L315.63 615.81Z" fill="#00e000" stroke="#00e000" stroke-width="0.3"/>
<path d="M321.08 609.17L323.18 612.37L318.98 612.37Z" fill="#00e000" stroke="#00e000" stroke-width="0.3"/>
<path d="M324.25 605.88L326.35 609.08L322.15 609.08Z" fill="#00e000" stroke="#00e000" stroke-width="0.3"/>
<path d="M327.25 602.66L329.35 605.86L325.15 605.86Z" fill="#00e000" stroke="#00e000" stroke-width="0.3"/>
<path d="M330.09 599.32L332.19 602.52L327.99 602.52Z" fill="#00e000" stroke="#00e000" stroke-width="0.3"/>
<path d="M332.78 596.17L334.88 599.37L330.68 599.37Z" fill="#00e000" stroke="#00e000" stroke-width="0.3"/>
<path d="M335.34 593.79L337.44 596.99L333.24 596.99Z" fill="#00e000" stroke="#00e000" stroke-width="0.3"/>
<path d="M337.78 591.52L339.88 594.72L335.68 594.72Z" fill="#00e000" stroke="#00e000" stroke-width="0.3"/>
<path d="M340.12 589.37L342.22 592.57L338.02 592.57Z" fill="#00e000" stroke="#00e000" stroke-width="0.3"/>
<path d="M342.36 587.32L344.46 590.52L340.26 590.52Z" fill="#00e000" stroke="#00e000" stroke-width="0.3"/>
<path d="M344.5 585.36L346.6 588.56L342.4 588.56Z" fill="#00e000" stroke="#00e000" stroke-width="0.3"/>
<path d="M346.57 583.4L348.67 586.6L344.47 586.6Z" fill="#00e000" stroke="#00e000" stroke-width="0.3"/>
<path d="M348.55 581.41L350.65 584.61L346.45 584.61Z" fill="#00e000" stroke="#00e000" stroke-width="0.3"/>
<path d="M350.47 579.49L352.57 582.69L348.37 582.69Z" fill="#00e000" stroke="#00e000" stroke-width="0.3"/>
<path d="M352.31 577.64L354.41 580.84L350.21 580.84Z" fill="#00e000" stroke="#00e000" stroke-width="0.3"/>
<path d="M354.1 576.04L356.2 579.24L352 579.24Z" fill="#00e000" stroke="#00e000" stroke-width="0.3"/>
<path d="M355.82 574.54L357.92 577.74L353.72 577.74Z" fill="#00e000" stroke="#00e000" stroke-width="0.3"/>
<path d="M357.5 573.08L359.6 576.28L355.4 576.28Z" fill="#00e000" stroke="#00e000" stroke-width="0.3"/>
<path d="M359.12 571.72L361.22 574.92L357.02 574.92Z" fill="#00e000" stroke="#00e000" stroke-width="0.3"/>
<path d="M360.69 570.43L362.79 573.63L358.59 573.63Z" fill="#00e000" stroke="#00e000" stroke-width="0.3"/>
<path d="M362.22 569.18L364.32 572.38L360.12 572.38Z" fill="#00e000" stroke="#00e000" stroke-width="0.3"/>
<path d="M363.7 567.96L365.8 571.16L361.6 571.16Z" fill="#00e000" stroke="#00e000" stroke-width="0.3"/>
<path d="M365.15 566.73L367.25 569.93L363.05 569.93Z" fill="#00e000" stroke="#00e000" stroke-width="0.3"/>
<path d="M366.55 565.3L368.65 568.5L364.45 568.5Z" fill="#00e000" stroke="#00e000" stroke-width="0.3"/>
<path d="M367.92 563.91L370.02 567.11L365.82 567.11Z" fill="#00e000" stroke="#00e000" stroke-width="0.3"/>
<path d="M369.26 562.56L371.36 565.76L367.16 565.76Z" fill="#00e000" stroke="#00e000" stroke-width="0.3"/>
<path d="M370.56 561.23L372.66 564.43L368.46 564.43Z" fill="#00e000" stroke="#00e000" stroke-width="0.3"/>
<path d="M371.83 559.94L373.93 563.14L369.73 563.14Z" fill="#00e000" stroke="#00e000" stroke-width="0.3"/>
<path d="M373.07 558.57L375.17 561.77L370.97 561.77Z" fill="#00e000" stroke="#00e000" stroke-width="0.3"/>
<path d="M374.29 557.23L376.39 560.43L372.19 560.43Z" fill="#00e000" stroke="#00e000" stroke-width="0.3"/>
<path d="M375.47 555.92L377.57 559.12L373.37 559.12Z" fill="#00e000" stroke="#00e000" stroke-width="0.3"/>
<path d="M376.63 554.64L378.73 557.84L374.53 557.84Z" fill="#00e000" stroke="#00e000" stroke-width="0.3"/>
<path d="M377.77 553.39L379.87 556.59L375.67 556.59Z" fill="#00e000" stroke="#00e000" stroke-width="0.3"/>
<path d="M378.88 552.21L380.98 555.41L376.78 555.41Z" fill="#00e000" stroke="#00e000" stroke-width="0.3"/>
<path d="M379.97 551.24L382.07 554.44L377.87 554.44Z" fill="#00e000" stroke="#00e000" stroke-width="0.3"/>
<path d="M381.03 550.29L383.13 553.49L378.93 553.49Z" fill="#00e000" stroke="#00e000" stroke-width="0.3"/>
<path d="M382.08 549.36L384.18 552.56L379.98 552.56Z" fill="#00e000" stroke="#00e000" stroke-width="0.3"/>
<path d="M383.1 548.45L385.2 551.65L381 551.65Z" fill="#00e000" stroke="#00e000" stroke-width="0.3"/>
<path d="M384.11 547.56L386.21 550.76L382.01 550.76Z" fill="#00e000" stroke="#00e000" stroke-width="0.3"/>
<path d="M385.1 546.68L387.2 549.88L383 549.88Z" fill="#00e000" stroke="#00e000" stroke-width="0.3"/>
<path d="M386.06 545.79L388.16 548.99L383.96 548.99Z" fill="#00e000" stroke="#00e000" stroke-width="0.3"/>
<path d="M387.02 544.88L389.12 548.08L384.92 548.08Z" fill="#00e000" stroke="#00e000" stroke-width="0.3"/>
<path d="M387.95 543.99L390.05 547.19L385.85 547.19Z" fill="#00e000" stroke="#00e000" stroke-width="0.3"/>
<path d="M388.87 543.11L390.97 546.31L386.77 546.31Z" fill="#00e000" stroke="#00e000" stroke-width="0.3"/>
<path d="M389.77 542.25L391.87 545.45L387.67 545.45Z" fill="#00e000" stroke="#00e000" stroke-width="0.3"/>
<path d="M235.9 654.1L238 651.1L233.8 651.1Z" fill="none" stroke="#ffa040" stroke-width="0.75"/>
<path d="M250 645.1L252.1 642.1L247.9 642.1Z" fill="none" stroke="#ffa040" stroke-width="0.75"/>
<path d="M261.2 642.6L263.3 639.6L259.1 639.6Z" fill="none" stroke="#ffa040" stroke-width="0.75"/>
<path d="M270.4 635.6L272.5 632.6L268.3 632.6Z" fill="none" stroke="#ffa040" stroke-width="0.75"/>
<path d="M278.3 630.6L280.4 627.6L276.2 627.6Z" fill="none" stroke="#ffa040" stroke-width="0.75"/>
<path d="M285.1 626L287.2 623L283 623Z" fill="none" stroke="#ffa040" stroke-width="0.75"/>
<path d="M291.2 623.1L293.3 620.1L289.1 620.1Z" fill="none" stroke="#ffa040" stroke-width="0.75"/>
<path d="M296.6 619.1L298.7 616.1L294.5 616.1Z" fill="none" stroke="#ffa040" stroke-width="0.75"/>
<path d="M301.5 615.6L303.6 612.6L299.4 612.6Z" fill="none" stroke="#ffa040" stroke-width="0.75"/>
<path d="M306.04 610.91L308.14 607.91L303.94 607.91Z" fill="none" stroke="#ffa040" stroke-width="0.75"/>
<path d="M310.22 608.54L312.32 605.54L308.12 605.54Z" fill="none" stroke="#ffa040" stroke-width="0.75"/>
<path d="M314.09 605.82L316.19 602.82L311.99 602.82Z" fill="none" stroke="#ffa040" stroke-width="0.75"/>
<path d="M317.7 603.15L319.8 600.15L315.6 600.15Z" fill="none" stroke="#ffa040" stroke-width="0.75"/>
<path d="M321.08 600.31L323.18 597.31L318.98 597.31Z" fill="none" stroke="#ffa040" stroke-width="0.75"/>
<path d="M324.25 597.45L326.35 594.45L322.15 594.45Z" fill="none" stroke="#ffa040" stroke-width="0.75"/>
<path d="M327.25 594.39L329.35 591.39L325.15 591.39Z" fill="none" stroke="#ffa040" stroke-width="0.75"/>
<path d="M330.09 591.1L332.19 588.1L327.99 588.1Z" fill="none" stroke="#ffa040" stroke-width="0.75"/>
<path d="M332.78 588L334.88 585L330.68 585Z" fill="none" stroke="#ffa040" stroke-width="0.75"/>
<path d="M335.34 585.66L337.44 582.66L333.24 582.66Z" fill="none" stroke="#ffa040" stroke-width="0.75"/>
<path d="M337.78 583.43L339.88 580.43L335.68 580.43Z" fill="none" stroke="#ffa040" stroke-width="0.75"/>
<path d="M340.12 581.32L342.22 578.32L338.02 578.32Z" fill="none" stroke="#ffa040" stroke-width="0.75"/>
<path d="M342.36 579.3L344.46 576.3L340.26 576.3Z" fill="none" stroke="#ffa040" stroke-width="0.75"/>
<path d="M344.5 577.38L346.6 574.38L342.4 574.38Z" fill="none" stroke="#ffa040" stroke-width="0.75"/>
<path d="M346.57 575.45L348.67 572.45L344.47 572.45Z" fill="none" stroke="#ffa040" stroke-width="0.75"/>
<path d="M348.55 573.49L350.65 570.49L346.45 570.49Z" fill="none" stroke="#ffa040" stroke-width="0.75"/>
<path d="M350.47 571.6L352.57 568.6L348.37 568.6Z" fill="none" stroke="#ffa040" stroke-width="0.75"/>
<path d="M352.31 569.78L354.41 566.78L350.21 566.78Z" fill="none" stroke="#ffa040" stroke-width="0.75"/>
<path d="M354.1 568.26L356.2 565.26L352 565.26Z" fill="none" stroke="#ffa040" stroke-width="0.75"/>
<path d="M355.82 566.84L357.92 563.84L353.72 563.84Z" fill="none" stroke="#ffa040" stroke-width="0.75"/>
<path d="M357.5 565.48L359.6 562.48L355.4 562.48Z" fill="none" stroke="#ffa040" stroke-width="0.75"/>
<path d="M359.12 564.24L361.22 561.24L357.02 561.24Z" fill="none" stroke="#ffa040" stroke-width="0.75"/>
<path d="M360.69 563.12L362.79 560.12L358.59 560.12Z" fill="none" stroke="#ffa040" stroke-width="0.75"/>
<path d="M362.22 562.02L364.32 559.02L360.12 559.02Z" fill="none" stroke="#ffa040" stroke-width="0.75"/>
<path d="M363.7 560.96L365.8 557.96L361.6 557.96Z" fill="none" stroke="#ffa040" stroke-width="0.75"/>
<path d="M365.15 559.87L367.25 556.87L363.05 556.87Z" fill="none" stroke="#ffa040" stroke-width="0.75"/>
<path d="M366.55 558.59L368.65 555.59L364.45 555.59Z" fill="none" stroke="#ffa040" stroke-width="0.75"/>
<path d="M367.92 557.34L370.02 554.34L365.82 554.34Z" fill="none" stroke="#ffa040" stroke-width="0.75"/>
<path d="M369.26 556.12L371.36 553.12L367.16 553.12Z" fill="none" stroke="#ffa040" stroke-width="0.75"/>
<path d="M370.56 554.93L372.66 551.93L368.46 551.93Z" fill="none" stroke="#ffa040" stroke-width="0.75"/>
<path d="M371.83 553.77L373.93 550.77L369.73 550.77Z" fill="none" stroke="#ffa040" stroke-width="0.75"/>
<path d="M373.07 552.53L375.17 549.53L370.97 549.53Z" fill="none" stroke="#ffa040" stroke-width="0.75"/>
<path d="M374.29 551.31L376.39 548.31L372.19 548.31Z" fill="none" stroke="#ffa040" stroke-width="0.75"/>
<path d="M375.47 550.13L377.57 547.13L373.37 547.13Z" fill="none" stroke="#ffa040" stroke-width="0.75"/>
<path d="M376.63 548.97L378.73 545.97L374.53 545.97Z" fill="none" stroke="#ffa040" stroke-width="0.75"/>
<path d="M377.77 547.83L379.87 544.83L375.67 544.83Z" fill="none" stroke="#ffa040" stroke-width="0.75"/>
<path d="M378.88 546.76L380.98 543.76L376.78 543.76Z" fill="none" stroke="#ffa040" stroke-width="0.75"/>
<path d="M379.97 545.91L382.07 542.91L377.87 542.91Z" fill="none" stroke="#ffa040" stroke-width="0.75"/>
<path d="M381.03 545.07L383.13 542.07L378.93 542.07Z" fill="none" stroke="#ffa040" stroke-width="0.75"/>
<path d="M382.08 544.25L384.18 541.25L379.98 541.25Z" fill="none" stroke="#ffa040" stroke-width="0.75"/>
<path d="M383.1 543.44L385.2 540.44L381 540.44Z" fill="none" stroke="#ffa040" stroke-width="0.75"/>
<path d="M384.11 542.65L386.21 539.65L382.01 539.65Z" fill="none" stroke="#ffa040" stroke-width="0.75"/>
<path d="M385.1 541.88L387.2 538.88L383 538.88Z" fill="none" stroke="#ffa040" stroke-width="0.75"/>
<path d="M386.06 541.09L388.16 538.09L383.96 538.09Z" fill="none" stroke="#ffa040" stroke-width="0.75"/>
<path d="M387.02 540.28L389.12 537.28L384.92 537.28Z" fill="none" stroke="#ffa040" stroke-width="0.75"/>
<path d="M387.95 539.48L390.05 536.48L385.85 536.48Z" fill="none" stroke="#ffa040" stroke-width="0.75"/>
<path d="M388.87 538.69L390.97 535.69L386.77 535.69Z" fill="none" stroke="#ffa040" stroke-width="0.75"/>
<path d="M389.77 537.92L391.87 534.92L387.67 534.92Z" fill="none" stroke="#ffa040" stroke-width="0.75"/>
<path d="M236.4 656L238.5 653L234.3 653Z" fill="#ff7f00" stroke="#ff7f00" stroke-width="0.3"/>
<path d="M250.5 647L252.6 644L248.4 644Z" fill="#ff7f00" stroke="#ff7f00" stroke-width="0.3"/>
<path d="M261.7 644.5L263.8 641.5L259.6 641.5Z" fill="#ff7f00" stroke="#ff7f00" stroke-width="0.3"/>
<path d="M270.9 638L273 635L268.8 635Z" fill="#ff7f00" stroke="#ff7f00" stroke-width="0.3"/>
<path d="M278.8 632.5L280.9 629.5L276.7 629.5Z" fill="#ff7f00" stroke="#ff7f00" stroke-width="0.3"/>
<path d="M285.6 628L287.7 625L283.5 625Z" fill="#ff7f00" stroke="#ff7f00" stroke-width="0.3"/>
<path d="M291.7 625L293.8 622L289.6 622Z" fill="#ff7f00" stroke="#ff7f00" stroke-width="0.3"/>
<path d="M297.1 621L299.2 618L295 618Z" fill="#ff7f00" stroke="#ff7f00" stroke-width="0.3"/>
<path d="M301.96 617.5L304.06 614.5L299.86 614.5Z" fill="#ff7f00" stroke="#ff7f00" stroke-width="0.3"/>
<path d="M306.39 611.32L308.49 608.32L304.29 608.32Z" fill="#ff7f00" stroke="#ff7f00" stroke-width="0.3"/>
<path d="M310.46 608.89L312.56 605.89L308.36 605.89Z" fill="#ff7f00" stroke="#ff7f00" stroke-width="0.3"/>
<path d="M314.24 606.11L316.34 603.11L312.14 603.11Z" fill="#ff7f00" stroke="#ff7f00" stroke-width="0.3"/>
<path d="M317.76 603.39L319.86 600.39L315.66 600.39Z" fill="#ff7f00" stroke="#ff7f00" stroke-width="0.3"/>
<path d="M321.08 600.52L323.18 597.52L318.98 597.52Z" fill="#ff7f00" stroke="#ff7f00" stroke-width="0.3"/>
<path d="M324.25 597.65L326.35 594.65L322.15 594.65Z" fill="#ff7f00" stroke="#ff7f00" stroke-width="0.3"/>
<path d="M327.25 594.59L329.35 591.59L325.15 591.59Z" fill="#ff7f00" stroke="#ff7f00" stroke-width="0.3"/>
<path d="M330.09 591.3L332.19 588.3L327.99 588.3Z" fill="#ff7f00" stroke="#ff7f00" stroke-width="0.3"/>
<path d="M332.78 588.2L334.88 585.2L330.68 585.2Z" fill="#ff7f00" stroke="#ff7f00" stroke-width="0.3"/>
<path d="M335.34 585.86L337.44 582.86L333.24 582.86Z" fill="#ff7f00" stroke="#ff7f00" stroke-width="0.3"/>
<path d="M337.78 583.63L339.88 580.63L335.68 580.63Z" fill="#ff7f00" stroke="#ff7f00" stroke-width="0.3"/>
<path d="M340.12 581.52L342.22 578.52L338.02 578.52Z" fill="#ff7f00" stroke="#ff7f00" stroke-width="0.3"/>
<path d="M342.36 579.5L344.46 576.5L340.26 576.5Z" fill="#ff7f00" stroke="#ff7f00" stroke-width="0.3"/>
<path d="M344.5 577.58L346.6 574.58L342.4 574.58Z" fill="#ff7f00" stroke="#ff7f00" stroke-width="0.3"/>
<path d="M346.57 575.65L348.67 572.65L344.47 572.65Z" fill="#ff7f00" stroke="#ff7f00" stroke-width="0.3"/>
<path d="M348.55 573.69L350.65 570.69L346.45 570.69Z" fill="#ff7f00" stroke="#ff7f00" stroke-width="0.3"/>
<path d="M350.47 571.8L352.57 568.8L348.37 568.8Z" fill="#ff7f00" stroke="#ff7f00" stroke-width="0.3"/>
<path d="M352.31 569.98L354.41 566.98L350.21 566.98Z" fill="#ff7f00" stroke="#ff7f00" stroke-width="0.3"/>
<path d="M354.1 568.46L356.2 565.46L352 565.46Z" fill="#ff7f00" stroke="#ff7f00" stroke-width="0.3"/>
<path d="M355.82 567.04L357.92 564.04L353.72 564.04Z" fill="#ff7f00" stroke="#ff7f00" stroke-width="0.3"/>
<path d="M357.5 565.68L359.6 562.68L355.4 562.68Z" fill="#ff7f00" stroke="#ff7f00" stroke-width="0.3"/>
<path d="M359.12 564.44L361.22 561.44L357.02 561.44Z" fill="#ff7f00" stroke="#ff7f00" stroke-width="0.3"/>
<path d="M360.69 563.32L362.79 560.32L358.59 560.32Z" fill="#ff7f00" stroke="#ff7f00" stroke-width="0.3"/>
<path d="M362.22 562.22L364.32 559.22L360.12 559.22Z" fill="#ff7f00" stroke="#ff7f00" stroke-width="0.3"/>
<path d="M363.7 561.16L365.8 558.16L361.6 558.16Z" fill="#ff7f00" stroke="#ff7f00" stroke-width="0.3"/>
<path d="M365.15 560.07L367.25 557.07L363.05 557.07Z" fill="#ff7f00" stroke="#ff7f00" stroke-width="0.3"/>
<path d="M366.55 558.79L368.65 555.79L364.45 555.79Z" fill="#ff7f00" stroke="#ff7f00" stroke-width="0.3"/>
<path d="M367.92 557.54L370.02 554.54L365.82 554.54Z" fill="#ff7f00" stroke="#ff7f00" stroke-width="0.3"/>
<path d="M369.26 556.32L371.36 553.32L367.16 553.32Z" fill="#ff7f00" stroke="#ff7f00" stroke-width="0.3"/>
<path d="M370.56 555.13L372.66 552.13L368.46 552.13Z" fill="#ff7f00" stroke="#ff7f00" stroke-width="0.3"/>
<path d="M371.83 553.97L373.93 550.97L369.73 550.97Z" fill="#ff7f00" stroke="#ff7f00" stroke-width="0.3"/>
<path d="M373.07 552.73L375.17 549.73L370.97 549.73Z" fill="#ff7f00" stroke="#ff7f00" stroke-width="0.3"/>
<path d="M374.29 551.51L376.39 548.51L372.19 548.51Z" fill="#ff7f00" stroke="#ff7f00" stroke-width="0.3"/>
<path d="M375.47 550.33L377.57 547.33L373.37 547.33Z" fill="#ff7f00" stroke="#ff7f00" stroke-width="0.3"/>
<path d="M376.63 549.17L378.73 546.17L374.53 546.17Z" fill="#ff7f00" stroke="#ff7f00" stroke-width="0.3"/>
<path d="M377.77 548.03L379.87 545.03L375.67 545.03Z" fill="#ff7f00" stroke="#ff7f00" stroke-width="0.3"/>
<path d="M378.88 546.96L380.98 543.96L376.78 543.96Z" fill="#ff7f00" stroke="#ff7f00" stroke-width="0.3"/>
<path d="M379.97 546.11L382.07 543.11L377.87 543.11Z" fill="#ff7f00" stroke="#ff7f00" stroke-width="0.3"/>
<path d="M381.03 545.27L383.13 542.27L378.93 542.27Z" fill="#ff7f00" stroke="#ff7f00" stroke-width="0.3"/>
<path d="M382.08 544.45L384.18 541.45L379.98 541.45Z" fill="#ff7f00" stroke="#ff7f00" stroke-width="0.3"/>
<path d="M383.1 543.64L385.2 540.64L381 540.64Z" fill="#ff7f00" stroke="#ff7f00" stroke-width="0.3"/>
<path d="M384.11 542.85L386.21 539.85L382.01 539.85Z" fill="#ff7f00" stroke="#ff7f00" stroke-width="0.3"/>
<path d="M385.1 542.08L387.2 539.08L383 539.08Z" fill="#ff7f00" stroke="#ff7f00" stroke-width="0.3"/>
<path d="M386.06 541.29L388.16 538.29L383.96 538.29Z" fill="#ff7f00" stroke="#ff7f00" stroke-width="0.3"/>
<path d="M387.02 540.48L389.12 537.48L384.92 537.48Z" fill="#ff7f00" stroke="#ff7f00" stroke-width="0.3"/>
<path d="M387.95 539.68L390.05 536.68L385.85 536.68Z" fill="#ff7f00" stroke="#ff7f00" stroke-width="0.3"/>
<path d="M388.87 538.89L390.97 535.89L386.77 535.89Z" fill="#ff7f00" stroke="#ff7f00" stroke-width="0.3"/>
<path d="M389.77 538.12L391.87 535.12L387.67 535.12Z" fill="#ff7f00" stroke="#ff7f00" stroke-width="0.3"/>
<path d="M235.9 656.3L237.8 658.1L235.9 659.9L234 658.1Z" fill="none" stroke="#4040ff" stroke-width="0.75"/>
<path d="M250 650.8L251.9 652.6L250 654.4L248.1 652.6Z" fill="none" stroke="#4040ff" stroke-width="0.75"/>
<path d="M261.2 644.3L263.1 646.1L261.2 647.9L259.3 646.1Z" fill="none" stroke="#4040ff" stroke-width="0.75"/>
<path d="M270.4 640.3L272.3 642.1L270.4 643.9L268.5 642.1Z" fill="none" stroke="#4040ff" stroke-width="0.75"/>
<path d="M278.3 634.8L280.2 636.6L278.3 638.4L276.4 636.6Z" fill="none" stroke="#4040ff" stroke-width="0.75"/>
<path d="M285.1 630.3L287 632.1L285.1 633.9L283.2 632.1Z" fill="none" stroke="#4040ff" stroke-width="0.75"/>
<path d="M291.2 626.3L293.1 628.1L291.2 629.9L289.3 628.1Z" fill="none" stroke="#4040ff" stroke-width="0.75"/>
<path d="M296.6 626.8L298.5 628.6L296.6 630.4L294.7 628.6Z" fill="none" stroke="#4040ff" stroke-width="0.75"/>
<path d="M301.5 617.3L303.4 619.1L301.5 620.9L299.6 619.1Z" fill="none" stroke="#4040ff" stroke-width="0.75"/>
<path d="M306.04 612.36L307.94 614.16L306.04 615.96L304.14 614.16Z" fill="none" stroke="#4040ff" stroke-width="0.75"/>
<path d="M310.22 609.46L312.12 611.26L310.22 613.06L308.32 611.26Z" fill="none" stroke="#4040ff" stroke-width="0.75"/>
<path d="M314.09 606.26L315.99 608.06L314.09 609.86L312.19 608.06Z" fill="none" stroke="#4040ff" stroke-width="0.75"/>
<path d="M317.7 603.14L319.6 604.94L317.7 606.74L315.8 604.94Z" fill="none" stroke="#4040ff" stroke-width="0.75"/>
<path d="M321.08 600.05L322.98 601.85L321.08 603.65L319.18 601.85Z" fill="none" stroke="#4040ff" stroke-width="0.75"/>
<path d="M324.25 597.1L326.15 598.9L324.25 600.7L322.35 598.9Z" fill="none" stroke="#4040ff" stroke-width="0.75"/>
<path d="M327.25 594.01L329.15 595.81L327.25 597.61L325.35 595.81Z" fill="none" stroke="#4040ff" stroke-width="0.75"/>
<path d="M330.09 590.68L331.99 592.48L330.09 594.28L328.19 592.48Z" fill="none" stroke="#4040ff" stroke-width="0.75"/>
<path d="M332.78 587.55L334.68 589.35L332.78 591.15L330.88 589.35Z" fill="none" stroke="#4040ff" stroke-width="0.75"/>
<path d="M335.34 585.18L337.24 586.98L335.34 588.78L333.44 586.98Z" fill="none" stroke="#4040ff" stroke-width="0.75"/>
<path d="M337.78 582.93L339.68 584.73L337.78 586.53L335.88 584.73Z" fill="none" stroke="#4040ff" stroke-width="0.75"/>
<path d="M340.12 580.79L342.02 582.59L340.12 584.39L338.22 582.59Z" fill="none" stroke="#4040ff" stroke-width="0.75"/>
<path d="M342.36 578.75L344.26 580.55L342.36 582.35L340.46 580.55Z" fill="none" stroke="#4040ff" stroke-width="0.75"/>
<path d="M344.5 576.8L346.4 578.6L344.5 580.4L342.6 578.6Z" fill="none" stroke="#4040ff" stroke-width="0.75"/>
<path d="M346.57 574.84L348.47 576.64L346.57 578.44L344.67 576.64Z" fill="none" stroke="#4040ff" stroke-width="0.75"/>
<path d="M348.55 572.86L350.45 574.66L348.55 576.46L346.65 574.66Z" fill="none" stroke="#4040ff" stroke-width="0.75"/>
<path d="M350.47 570.95L352.37 572.75L350.47 574.55L348.57 572.75Z" fill="none" stroke="#4040ff" stroke-width="0.75"/>
<path d="M352.31 569.11L354.21 570.91L352.31 572.71L350.41 570.91Z" fill="none" stroke="#4040ff" stroke-width="0.75"/>
<path d="M354.1 567.57L356 569.37L354.1 571.17L352.2 569.37Z" fill="none" stroke="#4040ff" stroke-width="0.75"/>
<path d="M355.82 566.13L357.72 567.93L355.82 569.73L353.92 567.93Z" fill="none" stroke="#4040ff" stroke-width="0.75"/>
<path d="M357.5 564.75L359.4 566.55L357.5 568.35L355.6 566.55Z" fill="none" stroke="#4040ff" stroke-width="0.75"/>
<path d="M359.12 563.5L361.02 565.3L359.12 567.1L357.22 565.3Z" fill="none" stroke="#4040ff" stroke-width="0.75"/>
<path d="M360.69 562.35L362.59 564.15L360.69 565.95L358.79 564.15Z" fill="none" stroke="#4040ff" stroke-width="0.75"/>
<path d="M362.22 561.24L364.12 563.04L362.22 564.84L360.32 563.04Z" fill="none" stroke="#4040ff" stroke-width="0.75"/>
<path d="M363.7 560.16L365.6 561.96L363.7 563.76L361.8 561.96Z" fill="none" stroke="#4040ff" stroke-width="0.75"/>
<path d="M365.15 559.06L367.05 560.86L365.15 562.66L363.25 560.86Z" fill="none" stroke="#4040ff" stroke-width="0.75"/>
<path d="M366.55 557.76L368.45 559.56L366.55 561.36L364.65 559.56Z" fill="none" stroke="#4040ff" stroke-width="0.75"/>
<path d="M367.92 556.49L369.82 558.29L367.92 560.09L366.02 558.29Z" fill="none" stroke="#4040ff" stroke-width="0.75"/>
<path d="M369.26 555.26L371.16 557.06L369.26 558.86L367.36 557.06Z" fill="none" stroke="#4040ff" stroke-width="0.75"/>
<path d="M370.56 554.05L372.46 555.85L370.56 557.65L368.66 555.85Z" fill="none" stroke="#4040ff" stroke-width="0.75"/>
<path d="M371.83 552.88L373.73 554.68L371.83 556.48L369.93 554.68Z" fill="none" stroke="#4040ff" stroke-width="0.75"/>
<path d="M373.07 551.62L374.97 553.42L373.07 555.22L371.17 553.42Z" fill="none" stroke="#4040ff" stroke-width="0.75"/>
<path d="M374.29 550.39L376.19 552.19L374.29 553.99L372.39 552.19Z" fill="none" stroke="#4040ff" stroke-width="0.75"/>
<path d="M375.47 549.19L377.37 550.99L375.47 552.79L373.57 550.99Z" fill="none" stroke="#4040ff" stroke-width="0.75"/>
<path d="M376.63 548.02L378.53 549.82L376.63 551.62L374.73 549.82Z" fill="none" stroke="#4040ff" stroke-width="0.75"/>
<path d="M377.77 546.87L379.67 548.67L377.77 550.47L375.87 548.67Z" fill="none" stroke="#4040ff" stroke-width="0.75"/>
<path d="M378.88 545.79L380.78 547.59L378.88 549.39L376.98 547.59Z" fill="none" stroke="#4040ff" stroke-width="0.75"/>
<path d="M379.97 544.92L381.87 546.72L379.97 548.52L378.07 546.72Z" fill="none" stroke="#4040ff" stroke-width="0.75"/>
<path d="M381.03 544.07L382.93 545.87L381.03 547.67L379.13 545.87Z" fill="none" stroke="#4040ff" stroke-width="0.75"/>
<path d="M382.08 543.24L383.98 545.04L382.08 546.84L380.18 545.04Z" fill="none" stroke="#4040ff" stroke-width="0.75"/>
<path d="M383.1 542.42L385 544.22L383.1 546.02L381.2 544.22Z" fill="none" stroke="#4040ff" stroke-width="0.75"/>
<path d="M384.11 541.62L386.01 543.42L384.11 545.22L382.21 543.42Z" fill="none" stroke="#4040ff" stroke-width="0.75"/>
<path d="M385.1 540.83L387 542.63L385.1 544.43L383.2 542.63Z" fill="none" stroke="#4040ff" stroke-width="0.75"/>
<path d="M386.06 540.03L387.96 541.83L386.06 543.63L384.16 541.83Z" fill="none" stroke="#4040ff" stroke-width="0.75"/>
<path d="M387.02 539.21L388.92 541.01L387.02 542.81L385.12 541.01Z" fill="none" stroke="#4040ff" stroke-width="0.75"/>
<path d="M387.95 538.4L389.85 540.2L387.95 542L386.05 540.2Z" fill="none" stroke="#4040ff" stroke-width="0.75"/>
<path d="M388.87 537.61L390.77 539.41L388.87 541.21L386.97 539.41Z" fill="none" stroke="#4040ff" stroke-width="0.75"/>
<path d="M389.77 536.83L391.67 538.63L389.77 540.43L387.87 538.63Z" fill="none" stroke="#4040ff" stroke-width="0.75"/>
<path d="M236.2 658.7L238.1 660.5L236.2 662.3L234.3 660.5Z" fill="#0020ff" stroke="#0020ff" stroke-width="0.3"/>
<path d="M250.3 652.7L252.2 654.5L250.3 656.3L248.4 654.5Z" fill="#0020ff" stroke="#0020ff" stroke-width="0.3"/>
<path d="M261.5 646.7L263.4 648.5L261.5 650.3L259.6 648.5Z" fill="#0020ff" stroke="#0020ff" stroke-width="0.3"/>
<path d="M270.7 642.7L272.6 644.5L270.7 646.3L268.8 644.5Z" fill="#0020ff" stroke="#0020ff" stroke-width="0.3"/>
<path d="M278.6 636.7L280.5 638.5L278.6 640.3L276.7 638.5Z" fill="#0020ff" stroke="#0020ff" stroke-width="0.3"/>
<path d="M285.4 631.9L287.3 633.7L285.4 635.5L283.5 633.7Z" fill="#0020ff" stroke="#0020ff" stroke-width="0.3"/>
<path d="M291.5 628L293.4 629.8L291.5 631.6L289.6 629.8Z" fill="#0020ff" stroke="#0020ff" stroke-width="0.3"/>
<path d="M296.9 628.8L298.8 630.6L296.9 632.4L295 630.6Z" fill="#0020ff" stroke="#0020ff" stroke-width="0.3"/>
<path d="M301.78 619.2L303.68 621L301.78 622.8L299.88 621Z" fill="#0020ff" stroke="#0020ff" stroke-width="0.3"/>
<path d="M306.25 612.23L308.15 614.03L306.25 615.83L304.35 614.03Z" fill="#0020ff" stroke="#0020ff" stroke-width="0.3"/>
<path d="M310.36 608.89L312.26 610.69L310.36 612.49L308.46 610.69Z" fill="#0020ff" stroke="#0020ff" stroke-width="0.3"/>
<path d="M314.18 605.28L316.08 607.08L314.18 608.88L312.28 607.08Z" fill="#0020ff" stroke="#0020ff" stroke-width="0.3"/>
<path d="M317.73 601.78L319.63 603.58L317.73 605.38L315.83 603.58Z" fill="#0020ff" stroke="#0020ff" stroke-width="0.3"/>
<path d="M321.08 598.5L322.98 600.3L321.08 602.1L319.18 600.3Z" fill="#0020ff" stroke="#0020ff" stroke-width="0.3"/>
<path d="M324.25 595.53L326.15 597.33L324.25 599.13L322.35 597.33Z" fill="#0020ff" stroke="#0020ff" stroke-width="0.3"/>
<path d="M327.25 592.47L329.15 594.27L327.25 596.07L325.35 594.27Z" fill="#0020ff" stroke="#0020ff" stroke-width="0.3"/>
<path d="M330.09 589.17L331.99 590.97L330.09 592.77L328.19 590.97Z" fill="#0020ff" stroke="#0020ff" stroke-width="0.3"/>
<path d="M332.78 586.06L334.68 587.86L332.78 589.66L330.88 587.86Z" fill="#0020ff" stroke="#0020ff" stroke-width="0.3"/>
<path d="M335.34 583.72L337.24 585.52L335.34 587.32L333.44 585.52Z" fill="#0020ff" stroke="#0020ff" stroke-width="0.3"/>
<path d="M337.78 581.48L339.68 583.28L337.78 585.08L335.88 583.28Z" fill="#0020ff" stroke="#0020ff" stroke-width="0.3"/>
<path d="M340.12 579.36L342.02 581.16L340.12 582.96L338.22 581.16Z" fill="#0020ff" stroke="#0020ff" stroke-width="0.3"/>
<path d="M342.36 577.34L344.26 579.14L342.36 580.94L340.46 579.14Z" fill="#0020ff" stroke="#0020ff" stroke-width="0.3"/>
<path d="M344.5 575.41L346.4 577.21L344.5 579.01L342.6 577.21Z" fill="#0020ff" stroke="#0020ff" stroke-width="0.3"/>
<path d="M346.57 573.47L348.47 575.27L346.57 577.07L344.67 575.27Z" fill="#0020ff" stroke="#0020ff" stroke-width="0.3"/>
<path d="M348.55 571.51L350.45 573.31L348.55 575.11L346.65 573.31Z" fill="#0020ff" stroke="#0020ff" stroke-width="0.3"/>
<path d="M350.47 569.62L352.37 571.42L350.47 573.22L348.57 571.42Z" fill="#0020ff" stroke="#0020ff" stroke-width="0.3"/>
<path d="M352.31 567.79L354.21 569.59L352.31 571.39L350.41 569.59Z" fill="#0020ff" stroke="#0020ff" stroke-width="0.3"/>
<path d="M354.1 566.26L356 568.06L354.1 569.86L352.2 568.06Z" fill="#0020ff" stroke="#0020ff" stroke-width="0.3"/>
<path d="M355.82 564.84L357.72 566.64L355.82 568.44L353.92 566.64Z" fill="#0020ff" stroke="#0020ff" stroke-width="0.3"/>
<path d="M357.5 563.47L359.4 565.27L357.5 567.07L355.6 565.27Z" fill="#0020ff" stroke="#0020ff" stroke-width="0.3"/>
<path d="M359.12 562.23L361.02 564.03L359.12 565.83L357.22 564.03Z" fill="#0020ff" stroke="#0020ff" stroke-width="0.3"/>
<path d="M360.69 561.1L362.59 562.9L360.69 564.7L358.79 562.9Z" fill="#0020ff" stroke="#0020ff" stroke-width="0.3"/>
<path d="M362.22 560L364.12 561.8L362.22 563.6L360.32 561.8Z" fill="#0020ff" stroke="#0020ff" stroke-width="0.3"/>
<path d="M363.7 558.93L365.6 560.73L363.7 562.53L361.8 560.73Z" fill="#0020ff" stroke="#0020ff" stroke-width="0.3"/>
<path d="M365.15 557.85L367.05 559.65L365.15 561.45L363.25 559.65Z" fill="#0020ff" stroke="#0020ff" stroke-width="0.3"/>
<path d="M366.55 556.56L368.45 558.36L366.55 560.16L364.65 558.36Z" fill="#0020ff" stroke="#0020ff" stroke-width="0.3"/>
<path d="M367.92 555.3L369.82 557.1L367.92 558.9L366.02 557.1Z" fill="#0020ff" stroke="#0020ff" stroke-width="0.3"/>
<path d="M369.26 554.08L371.16 555.88L369.26 557.68L367.36 555.88Z" fill="#0020ff" stroke="#0020ff" stroke-width="0.3"/>
<path d="M370.56 552.89L372.46 554.69L370.56 556.49L368.66 554.69Z" fill="#0020ff" stroke="#0020ff" stroke-width="0.3"/>
<path d="M371.83 551.72L373.73 553.52L371.83 555.32L369.93 553.52Z" fill="#0020ff" stroke="#0020ff" stroke-width="0.3"/>
<path d="M373.07 550.48L374.97 552.28L373.07 554.08L371.17 552.28Z" fill="#0020ff" stroke="#0020ff" stroke-width="0.3"/>
<path d="M374.29 549.26L376.19 551.06L374.29 552.86L372.39 551.06Z" fill="#0020ff" stroke="#0020ff" stroke-width="0.3"/>
<path d="M375.47 548.07L377.37 549.87L375.47 551.67L373.57 549.87Z" fill="#0020ff" stroke="#0020ff" stroke-width="0.3"/>
<path d="M376.63 546.91L378.53 548.71L376.63 550.51L374.73 548.71Z" fill="#0020ff" stroke="#0020ff" stroke-width="0.3"/>
<path d="M377.77 545.77L379.67 547.57L377.77 549.37L375.87 547.57Z" fill="#0020ff" stroke="#0020ff" stroke-width="0.3"/>
<path d="M378.88 544.69L380.78 546.49L378.88 548.29L376.98 546.49Z" fill="#0020ff" stroke="#0020ff" stroke-width="0.3"/>
<path d="M379.97 543.83L381.87 545.63L379.97 547.43L378.07 545.63Z" fill="#0020ff" stroke="#0020ff" stroke-width="0.3"/>
<path d="M381.03 542.99L382.93 544.79L381.03 546.59L379.13 544.79Z" fill="#0020ff" stroke="#0020ff" stroke-width="0.3"/>
<path d="M382.08 542.17L383.98 543.97L382.08 545.77L380.18 543.97Z" fill="#0020ff" stroke="#0020ff" stroke-width="0.3"/>
<path d="M383.1 541.36L385 543.16L383.1 544.96L381.2 543.16Z" fill="#0020ff" stroke="#0020ff" stroke-width="0.3"/>
<path d="M384.11 540.57L386.01 542.37L384.11 544.17L382.21 542.37Z" fill="#0020ff" stroke="#0020ff" stroke-width="0.3"/>
<path d="M385.1 539.79L387 541.59L385.1 543.39L383.2 541.59Z" fill="#0020ff" stroke="#0020ff" stroke-width="0.3"/>
<path d="M386.06 539L387.96 540.8L386.06 542.6L384.16 540.8Z" fill="#0020ff" stroke="#0020ff" stroke-width="0.3"/>
<path d="M387.02 538.19L388.92 539.99L387.02 541.79L385.12 539.99Z" fill="#0020ff" stroke="#0020ff" stroke-width="0.3"/>
<path d="M387.95 537.38L389.85 539.18L387.95 540.98L386.05 539.18Z" fill="#0020ff" stroke="#0020ff" stroke-width="0.3"/>
<path d="M388.87 536.6L390.77 538.4L388.87 540.2L386.97 538.4Z" fill="#0020ff" stroke="#0020ff" stroke-width="0.3"/>
<path d="M389.77 535.82L391.67 537.62L389.77 539.42L387.87 537.62Z" fill="#0020ff" stroke="#0020ff" stroke-width="0.3"/>
<path d="M234.2 675.1L237.6 673.4L237.6 676.8Z" fill="none" stroke="#ff40ff" stroke-width="0.75"/>
<path d="M248.3 671.6L251.7 669.9L251.7 673.3Z" fill="none" stroke="#ff40ff" stroke-width="0.75"/>
<path d="M259.5 663.6L262.9 661.9L262.9 665.3Z" fill="none" stroke="#ff40ff" stroke-width="0.75"/>
<path d="M268.7 662.1L272.1 660.4L272.1 663.8Z" fill="none" stroke="#ff40ff" stroke-width="0.75"/>
<path d="M276.6 657.1L280 655.4L280 658.8Z" fill="none" stroke="#ff40ff" stroke-width="0.75"/>
<path d="M283.4 649.6L286.8 647.9L286.8 651.3Z" fill="none" stroke="#ff40ff" stroke-width="0.75"/>
<path d="M289.5 644.6L292.9 642.9L292.9 646.3Z" fill="none" stroke="#ff40ff" stroke-width="0.75"/>
<path d="M294.9 641.1L298.3 639.4L298.3 642.8Z" fill="none" stroke="#ff40ff" stroke-width="0.75"/>
<path d="M299.8 632.1L303.2 630.4L303.2 633.8Z" fill="none" stroke="#ff40ff" stroke-width="0.75"/>
<path d="M304.34 624.99L307.74 623.29L307.74 626.69Z" fill="none" stroke="#ff40ff" stroke-width="0.75"/>
<path d="M308.52 621.63L311.92 619.93L311.92 623.33Z" fill="none" stroke="#ff40ff" stroke-width="0.75"/>
<path d="M312.39 617.99L315.79 616.29L315.79 619.69Z" fill="none" stroke="#ff40ff" stroke-width="0.75"/>
<path d="M316 614.56L319.4 612.86L319.4 616.26Z" fill="none" stroke="#ff40ff" stroke-width="0.75"/>
<path d="M319.38 611.18L322.78 609.48L322.78 612.88Z" fill="none" stroke="#ff40ff" stroke-width="0.75"/>
<path d="M322.55 607.95L325.95 606.25L325.95 609.65Z" fill="none" stroke="#ff40ff" stroke-width="0.75"/>
<path d="M325.55 604.76L328.95 603.06L328.95 606.46Z" fill="none" stroke="#ff40ff" stroke-width="0.75"/>
<path d="M328.39 601.42L331.79 599.72L331.79 603.12Z" fill="none" stroke="#ff40ff" stroke-width="0.75"/>
<path d="M331.08 598.27L334.48 596.57L334.48 599.97Z" fill="none" stroke="#ff40ff" stroke-width="0.75"/>
<path d="M333.64 595.89L337.04 594.19L337.04 597.59Z" fill="none" stroke="#ff40ff" stroke-width="0.75"/>
<path d="M336.08 593.62L339.48 591.92L339.48 595.32Z" fill="none" stroke="#ff40ff" stroke-width="0.75"/>
<path d="M338.42 591.47L341.82 589.77L341.82 593.17Z" fill="none" stroke="#ff40ff" stroke-width="0.75"/>
<path d="M340.66 589.42L344.06 587.72L344.06 591.12Z" fill="none" stroke="#ff40ff" stroke-width="0.75"/>
<path d="M342.8 587.46L346.2 585.76L346.2 589.16Z" fill="none" stroke="#ff40ff" stroke-width="0.75"/>
<path d="M344.87 585.5L348.27 583.8L348.27 587.2Z" fill="none" stroke="#ff40ff" stroke-width="0.75"/>
<path d="M346.85 583.51L350.25 581.81L350.25 585.21Z" fill="none" stroke="#ff40ff" stroke-width="0.75"/>
<path d="M348.77 581.59L352.17 579.89L352.17 583.29Z" fill="none" stroke="#ff40ff" stroke-width="0.75"/>
<path d="M350.61 579.74L354.01 578.04L354.01 581.44Z" fill="none" stroke="#ff40ff" stroke-width="0.75"/>
<path d="M352.4 578.13L355.8 576.43L355.8 579.83Z" fill="none" stroke="#ff40ff" stroke-width="0.75"/>
<path d="M354.12 576.62L357.52 574.92L357.52 578.32Z" fill="none" stroke="#ff40ff" stroke-width="0.75"/>
<path d="M355.8 575.16L359.2 573.46L359.2 576.86Z" fill="none" stroke="#ff40ff" stroke-width="0.75"/>
<path d="M357.42 573.78L360.82 572.08L360.82 575.48Z" fill="none" stroke="#ff40ff" stroke-width="0.75"/>
<path d="M358.99 572.46L362.39 570.76L362.39 574.16Z" fill="none" stroke="#ff40ff" stroke-width="0.75"/>
<path d="M360.52 571.19L363.92 569.49L363.92 572.89Z" fill="none" stroke="#ff40ff" stroke-width="0.75"/>
<path d="M362 569.95L365.4 568.25L365.4 571.65Z" fill="none" stroke="#ff40ff" stroke-width="0.75"/>
<path d="M363.45 568.7L366.85 567L366.85 570.4Z" fill="none" stroke="#ff40ff" stroke-width="0.75"/>
<path d="M364.85 567.25L368.25 565.55L368.25 568.95Z" fill="none" stroke="#ff40ff" stroke-width="0.75"/>
<path d="M366.22 565.84L369.62 564.14L369.62 567.54Z" fill="none" stroke="#ff40ff" stroke-width="0.75"/>
<path d="M367.56 564.46L370.96 562.76L370.96 566.16Z" fill="none" stroke="#ff40ff" stroke-width="0.75"/>
<path d="M368.86 563.12L372.26 561.42L372.26 564.82Z" fill="none" stroke="#ff40ff" stroke-width="0.75"/>
<path d="M370.13 561.81L373.53 560.11L373.53 563.51Z" fill="none" stroke="#ff40ff" stroke-width="0.75"/>
<path d="M371.37 560.42L374.77 558.72L374.77 562.12Z" fill="none" stroke="#ff40ff" stroke-width="0.75"/>
<path d="M372.59 559.06L375.99 557.36L375.99 560.76Z" fill="none" stroke="#ff40ff" stroke-width="0.75"/>
<path d="M373.77 557.74L377.17 556.04L377.17 559.44Z" fill="none" stroke="#ff40ff" stroke-width="0.75"/>
<path d="M374.93 556.44L378.33 554.74L378.33 558.14Z" fill="none" stroke="#ff40ff" stroke-width="0.75"/>
<path d="M376.07 555.17L379.47 553.47L379.47 556.87Z" fill="none" stroke="#ff40ff" stroke-width="0.75"/>
<path d="M377.18 553.97L380.58 552.27L380.58 555.67Z" fill="none" stroke="#ff40ff" stroke-width="0.75"/>
<path d="M378.27 552.99L381.67 551.29L381.67 554.69Z" fill="none" stroke="#ff40ff" stroke-width="0.75"/>
<path d="M379.33 552.02L382.73 550.32L382.73 553.72Z" fill="none" stroke="#ff40ff" stroke-width="0.75"/>
<path d="M380.38 551.08L383.78 549.38L383.78 552.78Z" fill="none" stroke="#ff40ff" stroke-width="0.75"/>
<path d="M381.4 550.15L384.8 548.45L384.8 551.85Z" fill="none" stroke="#ff40ff" stroke-width="0.75"/>
<path d="M382.41 549.24L385.81 547.54L385.81 550.94Z" fill="none" stroke="#ff40ff" stroke-width="0.75"/>
<path d="M383.4 548.35L386.8 546.65L386.8 550.05Z" fill="none" stroke="#ff40ff" stroke-width="0.75"/>
<path d="M384.36 547.45L387.76 545.75L387.76 549.15Z" fill="none" stroke="#ff40ff" stroke-width="0.75"/>
<path d="M385.32 546.53L388.72 544.83L388.72 548.23Z" fill="none" stroke="#ff40ff" stroke-width="0.75"/>
<path d="M386.25 545.62L389.65 543.92L389.65 547.32Z" fill="none" stroke="#ff40ff" stroke-width="0.75"/>
<path d="M387.17 544.73L390.57 543.03L390.57 546.43Z" fill="none" stroke="#ff40ff" stroke-width="0.75"/>
<path d="M388.07 543.85L391.47 542.15L391.47 545.55Z" fill="none" stroke="#ff40ff" stroke-width="0.75"/>
<path d="M234.5 677L237.9 675.3L237.9 678.7Z" fill="#ff00ff" stroke="#ff00ff" stroke-width="0.3"/>
<path d="M248.6 673.7L252 672L252 675.4Z" fill="#ff00ff" stroke="#ff00ff" stroke-width="0.3"/>
<path d="M259.8 665.5L263.2 663.8L263.2 667.2Z" fill="#ff00ff" stroke="#ff00ff" stroke-width="0.3"/>
<path d="M269 664.4L272.4 662.7L272.4 666.1Z" fill="#ff00ff" stroke="#ff00ff" stroke-width="0.3"/>
<path d="M276.9 658.7L280.3 657L280.3 660.4Z" fill="#ff00ff" stroke="#ff00ff" stroke-width="0.3"/>
<path d="M283.7 651.7L287.1 650L287.1 653.4Z" fill="#ff00ff" stroke="#ff00ff" stroke-width="0.3"/>
<path d="M289.8 646.4L293.2 644.7L293.2 648.1Z" fill="#ff00ff" stroke="#ff00ff" stroke-width="0.3"/>
<path d="M295.2 642.9L298.6 641.2L298.6 644.6Z" fill="#ff00ff" stroke="#ff00ff" stroke-width="0.3"/>
<path d="M300.08 634.2L303.48 632.5L303.48 635.9Z" fill="#ff00ff" stroke="#ff00ff" stroke-width="0.3"/>
<path d="M304.55 625.8L307.95 624.1L307.95 627.5Z" fill="#ff00ff" stroke="#ff00ff" stroke-width="0.3"/>
<path d="M308.66 622.31L312.06 620.61L312.06 624.01Z" fill="#ff00ff" stroke="#ff00ff" stroke-width="0.3"/>
<path d="M312.48 618.55L315.88 616.85L315.88 620.25Z" fill="#ff00ff" stroke="#ff00ff" stroke-width="0.3"/>
<path d="M316.03 615.06L319.43 613.36L319.43 616.76Z" fill="#ff00ff" stroke="#ff00ff" stroke-width="0.3"/>
<path d="M319.38 611.68L322.78 609.98L322.78 613.38Z" fill="#ff00ff" stroke="#ff00ff" stroke-width="0.3"/>
<path d="M322.55 608.45L325.95 606.75L325.95 610.15Z" fill="#ff00ff" stroke="#ff00ff" stroke-width="0.3"/>
<path d="M325.55 605.26L328.95 603.56L328.95 606.96Z" fill="#ff00ff" stroke="#ff00ff" stroke-width="0.3"/>
<path d="M328.39 601.92L331.79 600.22L331.79 603.62Z" fill="#ff00ff" stroke="#ff00ff" stroke-width="0.3"/>
<path d="M331.08 598.77L334.48 597.07L334.48 600.47Z" fill="#ff00ff" stroke="#ff00ff" stroke-width="0.3"/>
<path d="M333.64 596.39L337.04 594.69L337.04 598.09Z" fill="#ff00ff" stroke="#ff00ff" stroke-width="0.3"/>
<path d="M336.08 594.12L339.48 592.42L339.48 595.82Z" fill="#ff00ff" stroke="#ff00ff" stroke-width="0.3"/>
<path d="M338.42 591.97L341.82 590.27L341.82 593.67Z" fill="#ff00ff" stroke="#ff00ff" stroke-width="0.3"/>
<path d="M340.66 589.92L344.06 588.22L344.06 591.62Z" fill="#ff00ff" stroke="#ff00ff" stroke-width="0.3"/>
<path d="M342.8 587.96L346.2 586.26L346.2 589.66Z" fill="#ff00ff" stroke="#ff00ff" stroke-width="0.3"/>
<path d="M344.87 586L348.27 584.3L348.27 587.7Z" fill="#ff00ff" stroke="#ff00ff" stroke-width="0.3"/>
<path d="M346.85 584.01L350.25 582.31L350.25 585.71Z" fill="#ff00ff" stroke="#ff00ff" stroke-width="0.3"/>
<path d="M348.77 582.09L352.17 580.39L352.17 583.79Z" fill="#ff00ff" stroke="#ff00ff" stroke-width="0.3"/>
<path d="M350.61 580.24L354.01 578.54L354.01 581.94Z" fill="#ff00ff" stroke="#ff00ff" stroke-width="0.3"/>
<path d="M352.4 578.63L355.8 576.93L355.8 580.33Z" fill="#ff00ff" stroke="#ff00ff" stroke-width="0.3"/>
<path d="M354.12 577.12L357.52 575.42L357.52 578.82Z" fill="#ff00ff" stroke="#ff00ff" stroke-width="0.3"/>
<path d="M355.8 575.66L359.2 573.96L359.2 577.36Z" fill="#ff00ff" stroke="#ff00ff" stroke-width="0.3"/>
<path d="M357.42 574.28L360.82 572.58L360.82 575.98Z" fill="#ff00ff" stroke="#ff00ff" stroke-width="0.3"/>
<path d="M358.99 572.96L362.39 571.26L362.39 574.66Z" fill="#ff00ff" stroke="#ff00ff" stroke-width="0.3"/>
<path d="M360.52 571.69L363.92 569.99L363.92 573.39Z" fill="#ff00ff" stroke="#ff00ff" stroke-width="0.3"/>
<path d="M362 570.45L365.4 568.75L365.4 572.15Z" fill="#ff00ff" stroke="#ff00ff" stroke-width="0.3"/>
<path d="M363.45 569.2L366.85 567.5L366.85 570.9Z" fill="#ff00ff" stroke="#ff00ff" stroke-width="0.3"/>
<path d="M364.85 567.75L368.25 566.05L368.25 569.45Z" fill="#ff00ff" stroke="#ff00ff" stroke-width="0.3"/>
<path d="M366.22 566.34L369.62 564.64L369.62 568.04Z" fill="#ff00ff" stroke="#ff00ff" stroke-width="0.3"/>
<path d="M367.56 564.96L370.96 563.26L370.96 566.66Z" fill="#ff00ff" stroke="#ff00ff" stroke-width="0.3"/>
<path d="M368.86 563.62L372.26 561.92L372.26 565.32Z" fill="#ff00ff" stroke="#ff00ff" stroke-width="0.3"/>
<path d="M370.13 562.31L373.53 560.61L373.53 564.01Z" fill="#ff00ff" stroke="#ff00ff" stroke-width="0.3"/>
<path d="M371.37 560.92L374.77 559.22L374.77 562.62Z" fill="#ff00ff" stroke="#ff00ff" stroke-width="0.3"/>
<path d="M372.59 559.56L375.99 557.86L375.99 561.26Z" fill="#ff00ff" stroke="#ff00ff" stroke-width="0.3"/>
<path d="M373.77 558.24L377.17 556.54L377.17 559.94Z" fill="#ff00ff" stroke="#ff00ff" stroke-width="0.3"/>
<path d="M374.93 556.94L378.33 555.24L378.33 558.64Z" fill="#ff00ff" stroke="#ff00ff" stroke-width="0.3"/>
<path d="M376.07 555.67L379.47 553.97L379.47 557.37Z" fill="#ff00ff" stroke="#ff00ff" stroke-width="0.3"/>
<path d="M377.18 554.47L380.58 552.77L380.58 556.17Z" fill="#ff00ff" stroke="#ff00ff" stroke-width="0.3"/>
<path d="M378.27 553.49L381.67 551.79L381.67 555.19Z" fill="#ff00ff" stroke="#ff00ff" stroke-width="0.3"/>
<path d="M379.33 552.52L382.73 550.82L382.73 554.22Z" fill="#ff00ff" stroke="#ff00ff" stroke-width="0.3"/>
<path d="M380.38 551.58L383.78 549.88L383.78 553.28Z" fill="#ff00ff" stroke="#ff00ff" stroke-width="0.3"/>
<path d="M381.4 550.65L384.8 548.95L384.8 552.35Z" fill="#ff00ff" stroke="#ff00ff" stroke-width="0.3"/>
<path d="M382.41 549.74L385.81 548.04L385.81 551.44Z" fill="#ff00ff" stroke="#ff00ff" stroke-width="0.3"/>
<path d="M383.4 548.85L386.8 547.15L386.8 550.55Z" fill="#ff00ff" stroke="#ff00ff" stroke-width="0.3"/>
<path d="M384.36 547.95L387.76 546.25L387.76 549.65Z" fill="#ff00ff" stroke="#ff00ff" stroke-width="0.3"/>
<path d="M385.32 547.03L388.72 545.33L388.72 548.73Z" fill="#ff00ff" stroke="#ff00ff" stroke-width="0.3"/>
<path d="M386.25 546.12L389.65 544.42L389.65 547.82Z" fill="#ff00ff" stroke="#ff00ff" stroke-width="0.3"/>
<path d="M387.17 545.23L390.57 543.53L390.57 546.93Z" fill="#ff00ff" stroke="#ff00ff" stroke-width="0.3"/>
<path d="M388.07 544.35L391.47 542.65L391.47 546.05Z" fill="#ff00ff" stroke="#ff00ff" stroke-width="0.3"/>
<path d="M237.6 657.6L234.2 655.9L234.2 659.3Z" fill="none" stroke="#000080" stroke-width="0.75"/>
<path d="M251.7 647.6L248.3 645.9L248.3 649.3Z" fill="none" stroke="#000080" stroke-width="0.75"/>
<path d="M262.9 643.6L259.5 641.9L259.5 645.3Z" fill="none" stroke="#000080" stroke-width="0.75"/>
<path d="M272.1 637.6L268.7 635.9L268.7 639.3Z" fill="none" stroke="#000080" stroke-width="0.75"/>
<path d="M280 633.1L276.6 631.4L276.6 634.8Z" fill="none" stroke="#000080" stroke-width="0.75"/>
<path d="M286.8 628.1L283.4 626.4L283.4 629.8Z" fill="none" stroke="#000080" stroke-width="0.75"/>
<path d="M292.9 623.6L289.5 621.9L289.5 625.3Z" fill="none" stroke="#000080" stroke-width="0.75"/>
<path d="M298.3 619.1L294.9 617.4L294.9 620.8Z" fill="none" stroke="#000080" stroke-width="0.75"/>
<path d="M303.2 616.1L299.8 614.4L299.8 617.8Z" fill="none" stroke="#000080" stroke-width="0.75"/>
<path d="M307.74 610.43L304.34 608.73L304.34 612.13Z" fill="none" stroke="#000080" stroke-width="0.75"/>
<path d="M311.92 607.72L308.52 606.02L308.52 609.42Z" fill="none" stroke="#000080" stroke-width="0.75"/>
<path d="M315.79 604.7L312.39 603L312.39 606.4Z" fill="none" stroke="#000080" stroke-width="0.75"/>
<path d="M319.4 601.74L316 600.04L316 603.44Z" fill="none" stroke="#000080" stroke-width="0.75"/>
<path d="M322.78 598.74L319.38 597.04L319.38 600.44Z" fill="none" stroke="#000080" stroke-width="0.75"/>
<path d="M325.95 595.85L322.55 594.15L322.55 597.55Z" fill="none" stroke="#000080" stroke-width="0.75"/>
<path d="M328.95 592.79L325.55 591.09L325.55 594.49Z" fill="none" stroke="#000080" stroke-width="0.75"/>
<path d="M331.79 589.5L328.39 587.8L328.39 591.2Z" fill="none" stroke="#000080" stroke-width="0.75"/>
<path d="M334.48 586.4L331.08 584.7L331.08 588.1Z" fill="none" stroke="#000080" stroke-width="0.75"/>
<path d="M337.04 584.06L333.64 582.36L333.64 585.76Z" fill="none" stroke="#000080" stroke-width="0.75"/>
<path d="M339.48 581.83L336.08 580.13L336.08 583.53Z" fill="none" stroke="#000080" stroke-width="0.75"/>
<path d="M341.82 579.72L338.42 578.02L338.42 581.42Z" fill="none" stroke="#000080" stroke-width="0.75"/>
<path d="M344.06 577.7L340.66 576L340.66 579.4Z" fill="none" stroke="#000080" stroke-width="0.75"/>
<path d="M346.2 575.78L342.8 574.08L342.8 577.48Z" fill="none" stroke="#000080" stroke-width="0.75"/>
<path d="M348.27 573.85L344.87 572.15L344.87 575.55Z" fill="none" stroke="#000080" stroke-width="0.75"/>
<path d="M350.25 571.89L346.85 570.19L346.85 573.59Z" fill="none" stroke="#000080" stroke-width="0.75"/>
<path d="M352.17 570L348.77 568.3L348.77 571.7Z" fill="none" stroke="#000080" stroke-width="0.75"/>
<path d="M354.01 568.18L350.61 566.48L350.61 569.88Z" fill="none" stroke="#000080" stroke-width="0.75"/>
<path d="M355.8 566.66L352.4 564.96L352.4 568.36Z" fill="none" stroke="#000080" stroke-width="0.75"/>
<path d="M357.52 565.24L354.12 563.54L354.12 566.94Z" fill="none" stroke="#000080" stroke-width="0.75"/>
<path d="M359.2 563.88L355.8 562.18L355.8 565.58Z" fill="none" stroke="#000080" stroke-width="0.75"/>
<path d="M360.82 562.64L357.42 560.94L357.42 564.34Z" fill="none" stroke="#000080" stroke-width="0.75"/>
<path d="M362.39 561.52L358.99 559.82L358.99 563.22Z" fill="none" stroke="#000080" stroke-width="0.75"/>
<path d="M363.92 560.42L360.52 558.72L360.52 562.12Z" fill="none" stroke="#000080" stroke-width="0.75"/>
<path d="M365.4 559.36L362 557.66L362 561.06Z" fill="none" stroke="#000080" stroke-width="0.75"/>
<path d="M366.85 558.27L363.45 556.57L363.45 559.97Z" fill="none" stroke="#000080" stroke-width="0.75"/>
<path d="M368.25 556.99L364.85 555.29L364.85 558.69Z" fill="none" stroke="#000080" stroke-width="0.75"/>
<path d="M369.62 555.74L366.22 554.04L366.22 557.44Z" fill="none" stroke="#000080" stroke-width="0.75"/>
<path d="M370.96 554.52L367.56 552.82L367.56 556.22Z" fill="none" stroke="#000080" stroke-width="0.75"/>
<path d="M372.26 553.33L368.86 551.63L368.86 555.03Z" fill="none" stroke="#000080" stroke-width="0.75"/>
<path d="M373.53 552.17L370.13 550.47L370.13 553.87Z" fill="none" stroke="#000080" stroke-width="0.75"/>
<path d="M374.77 550.93L371.37 549.23L371.37 552.63Z" fill="none" stroke="#000080" stroke-width="0.75"/>
<path d="M375.99 549.71L372.59 548.01L372.59 551.41Z" fill="none" stroke="#000080" stroke-width="0.75"/>
<path d="M377.17 548.53L373.77 546.83L373.77 550.23Z" fill="none" stroke="#000080" stroke-width="0.75"/>
<path d="M378.33 547.37L374.93 545.67L374.93 549.07Z" fill="none" stroke="#000080" stroke-width="0.75"/>
<path d="M379.47 546.23L376.07 544.53L376.07 547.93Z" fill="none" stroke="#000080" stroke-width="0.75"/>
<path d="M380.58 545.16L377.18 543.46L377.18 546.86Z" fill="none" stroke="#000080" stroke-width="0.75"/>
<path d="M381.67 544.31L378.27 542.61L378.27 546.01Z" fill="none" stroke="#000080" stroke-width="0.75"/>
<path d="M382.73 543.47L379.33 541.77L379.33 545.17Z" fill="none" stroke="#000080" stroke-width="0.75"/>
<path d="M383.78 542.65L380.38 540.95L380.38 544.35Z" fill="none" stroke="#000080" stroke-width="0.75"/>
<path d="M384.8 541.84L381.4 540.14L381.4 543.54Z" fill="none" stroke="#000080" stroke-width="0.75"/>
<path d="M385.81 541.05L382.41 539.35L382.41 542.75Z" fill="none" stroke="#000080" stroke-width="0.75"/>
<path d="M386.8 540.28L383.4 538.58L383.4 541.98Z" fill="none" stroke="#000080" stroke-width="0.75"/>
<path d="M387.76 539.49L384.36 537.79L384.36 541.19Z" fill="none" stroke="#000080" stroke-width="0.75"/>
<path d="M388.72 538.68L385.32 536.98L385.32 540.38Z" fill="none" stroke="#000080" stroke-width="0.75"/>
<path d="M389.65 537.88L386.25 536.18L386.25 539.58Z" fill="none" stroke="#000080" stroke-width="0.75"/>
<path d="M390.57 537.09L387.17 535.39L387.17 538.79Z" fill="none" stroke="#000080" stroke-width="0.75"/>
<path d="M391.47 536.32L388.07 534.62L388.07 538.02Z" fill="none" stroke="#000080" stroke-width="0.75"/>
<path d="M237.9 660L234.5 658.3L234.5 661.7Z" fill="#000080" stroke="#000080" stroke-width="0.3"/>
<path d="M252 650L248.6 648.3L248.6 651.7Z" fill="#000080" stroke="#000080" stroke-width="0.3"/>
<path d="M263.2 645.5L259.8 643.8L259.8 647.2Z" fill="#000080" stroke="#000080" stroke-width="0.3"/>
<path d="M272.4 639.8L269 638.1L269 641.5Z" fill="#000080" stroke="#000080" stroke-width="0.3"/>
<path d="M280.3 635L276.9 633.3L276.9 636.7Z" fill="#000080" stroke="#000080" stroke-width="0.3"/>
<path d="M287.1 630L283.7 628.3L283.7 631.7Z" fill="#000080" stroke="#000080" stroke-width="0.3"/>
<path d="M293.2 625.4L289.8 623.7L289.8 627.1Z" fill="#000080" stroke="#000080" stroke-width="0.3"/>
<path d="M298.6 620.6L295.2 618.9L295.2 622.3Z" fill="#000080" stroke="#000080" stroke-width="0.3"/>
<path d="M303.48 617.5L300.08 615.8L300.08 619.2Z" fill="#000080" stroke="#000080" stroke-width="0.3"/>
<path d="M307.95 610.93L304.55 609.23L304.55 612.63Z" fill="#000080" stroke="#000080" stroke-width="0.3"/>
<path d="M312.06 608.22L308.66 606.52L308.66 609.92Z" fill="#000080" stroke="#000080" stroke-width="0.3"/>
<path d="M315.88 605.2L312.48 603.5L312.48 606.9Z" fill="#000080" stroke="#000080" stroke-width="0.3"/>
<path d="M319.43 602.24L316.03 600.54L316.03 603.94Z" fill="#000080" stroke="#000080" stroke-width="0.3"/>
<path d="M322.78 599.24L319.38 597.54L319.38 600.94Z" fill="#000080" stroke="#000080" stroke-width="0.3"/>
<path d="M325.95 596.35L322.55 594.65L322.55 598.05Z" fill="#000080" stroke="#000080" stroke-width="0.3"/>
<path d="M328.95 593.29L325.55 591.59L325.55 594.99Z" fill="#000080" stroke="#000080" stroke-width="0.3"/>
<path d="M331.79 590L328.39 588.3L328.39 591.7Z" fill="#000080" stroke="#000080" stroke-width="0.3"/>
<path d="M334.48 586.9L331.08 585.2L331.08 588.6Z" fill="#000080" stroke="#000080" stroke-width="0.3"/>
<path d="M337.04 584.56L333.64 582.86L333.64 586.26Z" fill="#000080" stroke="#000080" stroke-width="0.3"/>
<path d="M339.48 582.33L336.08 580.63L336.08 584.03Z" fill="#000080" stroke="#000080" stroke-width="0.3"/>
<path d="M341.82 580.22L338.42 578.52L338.42 581.92Z" fill="#000080" stroke="#000080" stroke-width="0.3"/>
<path d="M344.06 578.2L340.66 576.5L340.66 579.9Z" fill="#000080" stroke="#000080" stroke-width="0.3"/>
<path d="M346.2 576.28L342.8 574.58L342.8 577.98Z" fill="#000080" stroke="#000080" stroke-width="0.3"/>
<path d="M348.27 574.35L344.87 572.65L344.87 576.05Z" fill="#000080" stroke="#000080" stroke-width="0.3"/>
<path d="M350.25 572.39L346.85 570.69L346.85 574.09Z" fill="#000080" stroke="#000080" stroke-width="0.3"/>
<path d="M352.17 570.5L348.77 568.8L348.77 572.2Z" fill="#000080" stroke="#000080" stroke-width="0.3"/>
<path d="M354.01 568.68L350.61 566.98L350.61 570.38Z" fill="#000080" stroke="#000080" stroke-width="0.3"/>
<path d="M355.8 567.16L352.4 565.46L352.4 568.86Z" fill="#000080" stroke="#000080" stroke-width="0.3"/>
<path d="M357.52 565.74L354.12 564.04L354.12 567.44Z" fill="#000080" stroke="#000080" stroke-width="0.3"/>
<path d="M359.2 564.38L355.8 562.68L355.8 566.08Z" fill="#000080" stroke="#000080" stroke-width="0.3"/>
<path d="M360.82 563.14L357.42 561.44L357.42 564.84Z" fill="#000080" stroke="#000080" stroke-width="0.3"/>
<path d="M362.39 562.02L358.99 560.32L358.99 563.72Z" fill="#000080" stroke="#000080" stroke-width="0.3"/>
<path d="M363.92 560.92L360.52 559.22L360.52 562.62Z" fill="#000080" stroke="#000080" stroke-width="0.3"/>
<path d="M365.4 559.86L362 558.16L362 561.56Z" fill="#000080" stroke="#000080" stroke-width="0.3"/>
<path d="M366.85 558.77L363.45 557.07L363.45 560.47Z" fill="#000080" stroke="#000080" stroke-width="0.3"/>
<path d="M368.25 557.49L364.85 555.79L364.85 559.19Z" fill="#000080" stroke="#000080" stroke-width="0.3"/>
<path d="M369.62 556.24L366.22 554.54L366.22 557.94Z" fill="#000080" stroke="#000080" stroke-width="0.3"/>
<path d="M370.96 555.02L367.56 553.32L367.56 556.72Z" fill="#000080" stroke="#000080" stroke-width="0.3"/>
<path d="M372.26 553.83L368.86 552.13L368.86 555.53Z" fill="#000080" stroke="#000080" stroke-width="0.3"/>
<path d="M373.53 552.67L370.13 550.97L370.13 554.37Z" fill="#000080" stroke="#000080" stroke-width="0.3"/>
<path d="M374.77 551.43L371.37 549.73L371.37 553.13Z" fill="#000080" stroke="#000080" stroke-width="0.3"/>
<path d="M375.99 550.21L372.59 548.51L372.59 551.91Z" fill="#000080" stroke="#000080" stroke-width="0.3"/>
<path d="M377.17 549.03L373.77 547.33L373.77 550.73Z" fill="#000080" stroke="#000080" stroke-width="0.3"/>
<path d="M378.33 547.87L374.93 546.17L374.93 549.57Z" fill="#000080" stroke="#000080" stroke-width="0.3"/>
<path d="M379.47 546.73L376.07 545.03L376.07 548.43Z" fill="#000080" stroke="#000080" stroke-width="0.3"/>
<path d="M380.58 545.66L377.18 543.96L377.18 547.36Z" fill="#000080" stroke="#000080" stroke-width="0.3"/>
<path d="M381.67 544.81L378.27 543.11L378.27 546.51Z" fill="#000080" stroke="#000080" stroke-width="0.3"/>
<path d="M382.73 543.97L379.33 542.27L379.33 545.67Z" fill="#000080" stroke="#000080" stroke-width="0.3"/>
<path d="M383.78 543.15L380.38 541.45L380.38 544.85Z" fill="#000080" stroke="#000080" stroke-width="0.3"/>
<path d="M384.8 542.34L381.4 540.64L381.4 544.04Z" fill="#000080" stroke="#000080" stroke-width="0.3"/>
<path d="M385.81 541.55L382.41 539.85L382.41 543.25Z" fill="#000080" stroke="#000080" stroke-width="0.3"/>
<path d="M386.8 540.78L383.4 539.08L383.4 542.48Z" fill="#000080" stroke="#000080" stroke-width="0.3"/>
<path d="M387.76 539.99L384.36 538.29L384.36 541.69Z" fill="#000080" stroke="#000080" stroke-width="0.3"/>
<path d="M388.72 539.18L385.32 537.48L385.32 540.88Z" fill="#000080" stroke="#000080" stroke-width="0.3"/>
<path d="M389.65 538.38L386.25 536.68L386.25 540.08Z" fill="#000080" stroke="#000080" stroke-width="0.3"/>
<path d="M390.57 537.59L387.17 535.89L387.17 539.29Z" fill="#000080" stroke="#000080" stroke-width="0.3"/>
<path d="M391.47 536.82L388.07 535.12L388.07 538.52Z" fill="#000080" stroke="#000080" stroke-width="0.3"/>
<ellipse cx="235.9" cy="663.6" rx="1.8" ry="1.4" fill="none" stroke="#8000ff" stroke-width="0.75"/>
<ellipse cx="250" cy="655.6" rx="1.8" ry="1.4" fill="none" stroke="#8000ff" stroke-width="0.75"/>
<ellipse cx="261.2" cy="651.6" rx="1.8" ry="1.4" fill="none" stroke="#8000ff" stroke-width="0.75"/>
<ellipse cx="270.4" cy="645.1" rx="1.8" ry="1.4" fill="none" stroke="#8000ff" stroke-width="0.75"/>
<ellipse cx="278.3" cy="640.6" rx="1.8" ry="1.4" fill="none" stroke="#8000ff" stroke-width="0.75"/>
<ellipse cx="285.1" cy="636.1" rx="1.8" ry="1.4" fill="none" stroke="#8000ff" stroke-width="0.75"/>
<ellipse cx="291.2" cy="632.6" rx="1.8" ry="1.4" fill="none" stroke="#8000ff" stroke-width="0.75"/>
<ellipse cx="296.6" cy="632.1" rx="1.8" ry="1.4" fill="none" stroke="#8000ff" stroke-width="0.75"/>
<ellipse cx="301.5" cy="622.6" rx="1.8" ry="1.4" fill="none" stroke="#8000ff" stroke-width="0.75"/>
<ellipse cx="306.04" cy="618.94" rx="1.8" ry="1.4" fill="none" stroke="#8000ff" stroke-width="0.75"/>
<ellipse cx="310.22" cy="616.47" rx="1.8" ry="1.4" fill="none" stroke="#8000ff" stroke-width="0.75"/>
<ellipse cx="314.09" cy="613.22" rx="1.8" ry="1.4" fill="none" stroke="#8000ff" stroke-width="0.75"/>
<ellipse cx="317.7" cy="609.92" rx="1.8" ry="1.4" fill="none" stroke="#8000ff" stroke-width="0.75"/>
<ellipse cx="321.08" cy="606.61" rx="1.8" ry="1.4" fill="none" stroke="#8000ff" stroke-width="0.75"/>
<ellipse cx="324.25" cy="603.43" rx="1.8" ry="1.4" fill="none" stroke="#8000ff" stroke-width="0.75"/>
<ellipse cx="327.25" cy="600.23" rx="1.8" ry="1.4" fill="none" stroke="#8000ff" stroke-width="0.75"/>
<ellipse cx="330.09" cy="596.85" rx="1.8" ry="1.4" fill="none" stroke="#8000ff" stroke-width="0.75"/>
<ellipse cx="332.78" cy="593.67" rx="1.8" ry="1.4" fill="none" stroke="#8000ff" stroke-width="0.75"/>
<ellipse cx="335.34" cy="591.26" rx="1.8" ry="1.4" fill="none" stroke="#8000ff" stroke-width="0.75"/>
<ellipse cx="337.78" cy="588.95" rx="1.8" ry="1.4" fill="none" stroke="#8000ff" stroke-width="0.75"/>
<ellipse cx="340.12" cy="586.77" rx="1.8" ry="1.4" fill="none" stroke="#8000ff" stroke-width="0.75"/>
<ellipse cx="342.36" cy="584.68" rx="1.8" ry="1.4" fill="none" stroke="#8000ff" stroke-width="0.75"/>
<ellipse cx="344.5" cy="582.68" rx="1.8" ry="1.4" fill="none" stroke="#8000ff" stroke-width="0.75"/>
<ellipse cx="346.57" cy="580.68" rx="1.8" ry="1.4" fill="none" stroke="#8000ff" stroke-width="0.75"/>
<ellipse cx="348.55" cy="578.66" rx="1.8" ry="1.4" fill="none" stroke="#8000ff" stroke-width="0.75"/>
<ellipse cx="350.47" cy="576.7" rx="1.8" ry="1.4" fill="none" stroke="#8000ff" stroke-width="0.75"/>
<ellipse cx="352.31" cy="574.81" rx="1.8" ry="1.4" fill="none" stroke="#8000ff" stroke-width="0.75"/>
<ellipse cx="354.1" cy="573.15" rx="1.8" ry="1.4" fill="none" stroke="#8000ff" stroke-width="0.75"/>
<ellipse cx="355.82" cy="571.58" rx="1.8" ry="1.4" fill="none" stroke="#8000ff" stroke-width="0.75"/>
<ellipse cx="357.5" cy="570.05" rx="1.8" ry="1.4" fill="none" stroke="#8000ff" stroke-width="0.75"/>
<ellipse cx="359.12" cy="568.6" rx="1.8" ry="1.4" fill="none" stroke="#8000ff" stroke-width="0.75"/>
<ellipse cx="360.69" cy="567.19" rx="1.8" ry="1.4" fill="none" stroke="#8000ff" stroke-width="0.75"/>
<ellipse cx="362.22" cy="565.83" rx="1.8" ry="1.4" fill="none" stroke="#8000ff" stroke-width="0.75"/>
<ellipse cx="363.7" cy="564.51" rx="1.8" ry="1.4" fill="none" stroke="#8000ff" stroke-width="0.75"/>
<ellipse cx="365.15" cy="563.17" rx="1.8" ry="1.4" fill="none" stroke="#8000ff" stroke-width="0.75"/>
<ellipse cx="366.55" cy="561.64" rx="1.8" ry="1.4" fill="none" stroke="#8000ff" stroke-width="0.75"/>
<ellipse cx="367.92" cy="560.15" rx="1.8" ry="1.4" fill="none" stroke="#8000ff" stroke-width="0.75"/>
<ellipse cx="369.26" cy="558.7" rx="1.8" ry="1.4" fill="none" stroke="#8000ff" stroke-width="0.75"/>
<ellipse cx="370.56" cy="557.28" rx="1.8" ry="1.4" fill="none" stroke="#8000ff" stroke-width="0.75"/>
<ellipse cx="371.83" cy="555.9" rx="1.8" ry="1.4" fill="none" stroke="#8000ff" stroke-width="0.75"/>
<ellipse cx="373.07" cy="554.64" rx="1.8" ry="1.4" fill="none" stroke="#8000ff" stroke-width="0.75"/>
<ellipse cx="374.29" cy="553.41" rx="1.8" ry="1.4" fill="none" stroke="#8000ff" stroke-width="0.75"/>
<ellipse cx="375.47" cy="552.21" rx="1.8" ry="1.4" fill="none" stroke="#8000ff" stroke-width="0.75"/>
<ellipse cx="376.63" cy="551.03" rx="1.8" ry="1.4" fill="none" stroke="#8000ff" stroke-width="0.75"/>
<ellipse cx="377.77" cy="549.87" rx="1.8" ry="1.4" fill="none" stroke="#8000ff" stroke-width="0.75"/>
<ellipse cx="378.88" cy="548.78" rx="1.8" ry="1.4" fill="none" stroke="#8000ff" stroke-width="0.75"/>
<ellipse cx="379.97" cy="547.92" rx="1.8" ry="1.4" fill="none" stroke="#8000ff" stroke-width="0.75"/>
<ellipse cx="381.03" cy="547.07" rx="1.8" ry="1.4" fill="none" stroke="#8000ff" stroke-width="0.75"/>
<ellipse cx="382.08" cy="546.23" rx="1.8" ry="1.4" fill="none" stroke="#8000ff" stroke-width="0.75"/>
<ellipse cx="383.1" cy="545.42" rx="1.8" ry="1.4" fill="none" stroke="#8000ff" stroke-width="0.75"/>
<ellipse cx="384.11" cy="544.62" rx="1.8" ry="1.4" fill="none" stroke="#8000ff" stroke-width="0.75"/>
<ellipse cx="385.1" cy="543.83" rx="1.8" ry="1.4" fill="none" stroke="#8000ff" stroke-width="0.75"/>
<ellipse cx="386.06" cy="543.03" rx="1.8" ry="1.4" fill="none" stroke="#8000ff" stroke-width="0.75"/>
<ellipse cx="387.02" cy="542.21" rx="1.8" ry="1.4" fill="none" stroke="#8000ff" stroke-width="0.75"/>
<ellipse cx="387.95" cy="541.4" rx="1.8" ry="1.4" fill="none" stroke="#8000ff" stroke-width="0.75"/>
<ellipse cx="388.87" cy="540.61" rx="1.8" ry="1.4" fill="none" stroke="#8000ff" stroke-width="0.75"/>
<ellipse cx="389.77" cy="539.83" rx="1.8" ry="1.4" fill="none" stroke="#8000ff" stroke-width="0.75"/>
<ellipse cx="236.1" cy="668" rx="1.9" ry="1.5" fill="#8000ff" stroke="#8000ff" stroke-width="0.3"/>
<ellipse cx="250.2" cy="658.5" rx="1.9" ry="1.5" fill="#8000ff" stroke="#8000ff" stroke-width="0.3"/>
<ellipse cx="261.4" cy="654.2" rx="1.9" ry="1.5" fill="#8000ff" stroke="#8000ff" stroke-width="0.3"/>
<ellipse cx="270.6" cy="648" rx="1.9" ry="1.5" fill="#8000ff" stroke="#8000ff" stroke-width="0.3"/>
<ellipse cx="278.5" cy="643.3" rx="1.9" ry="1.5" fill="#8000ff" stroke="#8000ff" stroke-width="0.3"/>
<ellipse cx="285.3" cy="638.5" rx="1.9" ry="1.5" fill="#8000ff" stroke="#8000ff" stroke-width="0.3"/>
<ellipse cx="291.4" cy="635" rx="1.9" ry="1.5" fill="#8000ff" stroke="#8000ff" stroke-width="0.3"/>
<ellipse cx="296.8" cy="634.2" rx="1.9" ry="1.5" fill="#8000ff" stroke="#8000ff" stroke-width="0.3"/>
<ellipse cx="301.69" cy="624.5" rx="1.9" ry="1.5" fill="#8000ff" stroke="#8000ff" stroke-width="0.3"/>
<ellipse cx="306.18" cy="620.27" rx="1.9" ry="1.5" fill="#8000ff" stroke="#8000ff" stroke-width="0.3"/>
<ellipse cx="310.31" cy="618" rx="1.9" ry="1.5" fill="#8000ff" stroke="#8000ff" stroke-width="0.3"/>
<ellipse cx="314.15" cy="614.88" rx="1.9" ry="1.5" fill="#8000ff" stroke="#8000ff" stroke-width="0.3"/>
<ellipse cx="317.72" cy="611.69" rx="1.9" ry="1.5" fill="#8000ff" stroke="#8000ff" stroke-width="0.3"/>
<ellipse cx="321.08" cy="608.49" rx="1.9" ry="1.5" fill="#8000ff" stroke="#8000ff" stroke-width="0.3"/>
<ellipse cx="324.25" cy="605.4" rx="1.9" ry="1.5" fill="#8000ff" stroke="#8000ff" stroke-width="0.3"/>
<ellipse cx="327.25" cy="602.23" rx="1.9" ry="1.5" fill="#8000ff" stroke="#8000ff" stroke-width="0.3"/>
<ellipse cx="330.09" cy="598.85" rx="1.9" ry="1.5" fill="#8000ff" stroke="#8000ff" stroke-width="0.3"/>
<ellipse cx="332.78" cy="595.67" rx="1.9" ry="1.5" fill="#8000ff" stroke="#8000ff" stroke-width="0.3"/>
<ellipse cx="335.34" cy="593.26" rx="1.9" ry="1.5" fill="#8000ff" stroke="#8000ff" stroke-width="0.3"/>
<ellipse cx="337.78" cy="590.95" rx="1.9" ry="1.5" fill="#8000ff" stroke="#8000ff" stroke-width="0.3"/>
<ellipse cx="340.12" cy="588.77" rx="1.9" ry="1.5" fill="#8000ff" stroke="#8000ff" stroke-width="0.3"/>
<ellipse cx="342.36" cy="586.68" rx="1.9" ry="1.5" fill="#8000ff" stroke="#8000ff" stroke-width="0.3"/>
<ellipse cx="344.5" cy="584.68" rx="1.9" ry="1.5" fill="#8000ff" stroke="#8000ff" stroke-width="0.3"/>
<ellipse cx="346.57" cy="582.68" rx="1.9" ry="1.5" fill="#8000ff" stroke="#8000ff" stroke-width="0.3"/>
<ellipse cx="348.55" cy="580.66" rx="1.9" ry="1.5" fill="#8000ff" stroke="#8000ff" stroke-width="0.3"/>
<ellipse cx="350.47" cy="578.7" rx="1.9" ry="1.5" fill="#8000ff" stroke="#8000ff" stroke-width="0.3"/>
<ellipse cx="352.31" cy="576.81" rx="1.9" ry="1.5" fill="#8000ff" stroke="#8000ff" stroke-width="0.3"/>
<ellipse cx="354.1" cy="575.15" rx="1.9" ry="1.5" fill="#8000ff" stroke="#8000ff" stroke-width="0.3"/>
<ellipse cx="355.82" cy="573.58" rx="1.9" ry="1.5" fill="#8000ff" stroke="#8000ff" stroke-width="0.3"/>
<ellipse cx="357.5" cy="572.05" rx="1.9" ry="1.5" fill="#8000ff" stroke="#8000ff" stroke-width="0.3"/>
<ellipse cx="359.12" cy="570.6" rx="1.9" ry="1.5" fill="#8000ff" stroke="#8000ff" stroke-width="0.3"/>
<ellipse cx="360.69" cy="569.19" rx="1.9" ry="1.5" fill="#8000ff" stroke="#8000ff" stroke-width="0.3"/>
<ellipse cx="362.22" cy="567.83" rx="1.9" ry="1.5" fill="#8000ff" stroke="#8000ff" stroke-width="0.3"/>
<ellipse cx="363.7" cy="566.51" rx="1.9" ry="1.5" fill="#8000ff" stroke="#8000ff" stroke-width="0.3"/>
<ellipse cx="365.15" cy="565.17" rx="1.9" ry="1.5" fill="#8000ff" stroke="#8000ff" stroke-width="0.3"/>
<ellipse cx="366.55" cy="563.64" rx="1.9" ry="1.5" fill="#8000ff" stroke="#8000ff" stroke-width="0.3"/>
<ellipse cx="367.92" cy="562.15" rx="1.9" ry="1.5" fill="#8000ff" stroke="#8000ff" stroke-width="0.3"/>
<ellipse cx="369.26" cy="560.7" rx="1.9" ry="1.5" fill="#8000ff" stroke="#8000ff" stroke-width="0.3"/>
<ellipse cx="370.56" cy="559.28" rx="1.9" ry="1.5" fill="#8000ff" stroke="#8000ff" stroke-width="0.3"/>
<ellipse cx="371.83" cy="557.9" rx="1.9" ry="1.5" fill="#8000ff" stroke="#8000ff" stroke-width="0.3"/>
<ellipse cx="373.07" cy="556.64" rx="1.9" ry="1.5" fill="#8000ff" stroke="#8000ff" stroke-width="0.3"/>
<ellipse cx="374.29" cy="555.41" rx="1.9" ry="1.5" fill="#8000ff" stroke="#8000ff" stroke-width="0.3"/>
<ellipse cx="375.47" cy="554.21" rx="1.9" ry="1.5" fill="#8000ff" stroke="#8000ff" stroke-width="0.3"/>
<ellipse cx="376.63" cy="553.03" rx="1.9" ry="1.5" fill="#8000ff" stroke="#8000ff" stroke-width="0.3"/>
<ellipse cx="377.77" cy="551.87" rx="1.9" ry="1.5" fill="#8000ff" stroke="#8000ff" stroke-width="0.3"/>
<ellipse cx="378.88" cy="550.78" rx="1.9" ry="1.5" fill="#8000ff" stroke="#8000ff" stroke-width="0.3"/>
<ellipse cx="379.97" cy="549.92" rx="1.9" ry="1.5" fill="#8000ff" stroke="#8000ff" stroke-width="0.3"/>
<ellipse cx="381.03" cy="549.07" rx="1.9" ry="1.5" fill="#8000ff" stroke="#8000ff" stroke-width="0.3"/>
<ellipse cx="382.08" cy="548.23" rx="1.9" ry="1.5" fill="#8000ff" stroke="#8000ff" stroke-width="0.3"/>
<ellipse cx="383.1" cy="547.42" rx="1.9" ry="1.5" fill="#8000ff" stroke="#8000ff" stroke-width="0.3"/>
<ellipse cx="384.11" cy="546.62" rx="1.9" ry="1.5" fill="#8000ff" stroke="#8000ff" stroke-width="0.3"/>
<ellipse cx="385.1" cy="545.83" rx="1.9" ry="1.5" fill="#8000ff" stroke="#8000ff" stroke-width="0.3"/>
<ellipse cx="386.06" cy="545.03" rx="1.9" ry="1.5" fill="#8000ff" stroke="#8000ff" stroke-width="0.3"/>
<ellipse cx="387.02" cy="544.21" rx="1.9" ry="1.5" fill="#8000ff" stroke="#8000ff" stroke-width="0.3"/>
<ellipse cx="387.95" cy="543.4" rx="1.9" ry="1.5" fill="#8000ff" stroke="#8000ff" stroke-width="0.3"/>
<ellipse cx="388.87" cy="542.61" rx="1.9" ry="1.5" fill="#8000ff" stroke="#8000ff" stroke-width="0.3"/>
<ellipse cx="389.77" cy="541.83" rx="1.9" ry="1.5" fill="#8000ff" stroke="#8000ff" stroke-width="0.3"/>
<path d="M237.8 683.6L236.85 684.99L234.95 684.99L234 683.6L234.95 682.21L236.85 682.21Z" fill="none" stroke="#ff1493" stroke-width="0.75"/>
<path d="M251.9 675.6L250.95 676.99L249.05 676.99L248.1 675.6L249.05 674.21L250.95 674.21Z" fill="none" stroke="#ff1493" stroke-width="0.75"/>
<path d="M263.1 670.6L262.15 671.99L260.25 671.99L259.3 670.6L260.25 669.21L262.15 669.21Z" fill="none" stroke="#ff1493" stroke-width="0.75"/>
<path d="M272.3 667.1L271.35 668.49L269.45 668.49L268.5 667.1L269.45 665.71L271.35 665.71Z" fill="none" stroke="#ff1493" stroke-width="0.75"/>
<path d="M280.2 664.1L279.25 665.49L277.35 665.49L276.4 664.1L277.35 662.71L279.25 662.71Z" fill="none" stroke="#ff1493" stroke-width="0.75"/>
<path d="M287 655.1L286.05 656.49L284.15 656.49L283.2 655.1L284.15 653.71L286.05 653.71Z" fill="none" stroke="#ff1493" stroke-width="0.75"/>
<path d="M293.1 649.1L292.15 650.49L290.25 650.49L289.3 649.1L290.25 647.71L292.15 647.71Z" fill="none" stroke="#ff1493" stroke-width="0.75"/>
<path d="M298.5 643.6L297.55 644.99L295.65 644.99L294.7 643.6L295.65 642.21L297.55 642.21Z" fill="none" stroke="#ff1493" stroke-width="0.75"/>
<path d="M303.4 636.1L302.45 637.49L300.55 637.49L299.6 636.1L300.55 634.71L302.45 634.71Z" fill="none" stroke="#ff1493" stroke-width="0.75"/>
<path d="M307.94 630.43L306.99 631.82L305.09 631.82L304.14 630.43L305.09 629.05L306.99 629.05Z" fill="none" stroke="#ff1493" stroke-width="0.75"/>
<path d="M312.12 627.23L311.17 628.61L309.27 628.61L308.32 627.23L309.27 625.84L311.17 625.84Z" fill="none" stroke="#ff1493" stroke-width="0.75"/>
<path d="M315.99 623.24L315.04 624.63L313.14 624.63L312.19 623.24L313.14 621.86L315.04 621.86Z" fill="none" stroke="#ff1493" stroke-width="0.75"/>
<path d="M319.6 618.63L318.65 620.02L316.75 620.02L315.8 618.63L316.75 617.25L318.65 617.25Z" fill="none" stroke="#ff1493" stroke-width="0.75"/>
<path d="M322.98 613.64L322.03 615.03L320.13 615.03L319.18 613.64L320.13 612.26L322.03 612.26Z" fill="none" stroke="#ff1493" stroke-width="0.75"/>
<path d="M326.15 608.96L325.2 610.35L323.3 610.35L322.35 608.96L323.3 607.58L325.2 607.58Z" fill="none" stroke="#ff1493" stroke-width="0.75"/>
<path d="M329.15 605.29L328.2 606.68L326.3 606.68L325.35 605.29L326.3 603.91L328.2 603.91Z" fill="none" stroke="#ff1493" stroke-width="0.75"/>
<path d="M331.99 602L331.04 603.38L329.14 603.38L328.19 602L329.14 600.61L331.04 600.61Z" fill="none" stroke="#ff1493" stroke-width="0.75"/>
<path d="M334.68 598.9L333.73 600.28L331.83 600.28L330.88 598.9L331.83 597.51L333.73 597.51Z" fill="none" stroke="#ff1493" stroke-width="0.75"/>
<path d="M337.24 596.56L336.29 597.95L334.39 597.95L333.44 596.56L334.39 595.17L336.29 595.17Z" fill="none" stroke="#ff1493" stroke-width="0.75"/>
<path d="M339.68 594.33L338.73 595.71L336.83 595.71L335.88 594.33L336.83 592.94L338.73 592.94Z" fill="none" stroke="#ff1493" stroke-width="0.75"/>
<path d="M342.02 592.19L341.07 593.58L339.17 593.58L338.22 592.19L339.17 590.8L341.07 590.8Z" fill="none" stroke="#ff1493" stroke-width="0.75"/>
<path d="M344.26 590.14L343.31 591.52L341.41 591.52L340.46 590.14L341.41 588.75L343.31 588.75Z" fill="none" stroke="#ff1493" stroke-width="0.75"/>
<path d="M346.4 588.17L345.45 589.55L343.55 589.55L342.6 588.17L343.55 586.78L345.45 586.78Z" fill="none" stroke="#ff1493" stroke-width="0.75"/>
<path d="M348.47 586.18L347.52 587.57L345.62 587.57L344.67 586.18L345.62 584.8L347.52 584.8Z" fill="none" stroke="#ff1493" stroke-width="0.75"/>
<path d="M350.45 584.16L349.5 585.54L347.6 585.54L346.65 584.16L347.6 582.77L349.5 582.77Z" fill="none" stroke="#ff1493" stroke-width="0.75"/>
<path d="M352.37 582.2L351.42 583.59L349.52 583.59L348.57 582.2L349.52 580.81L351.42 580.81Z" fill="none" stroke="#ff1493" stroke-width="0.75"/>
<path d="M354.21 580.31L353.26 581.7L351.36 581.7L350.41 580.31L351.36 578.93L353.26 578.93Z" fill="none" stroke="#ff1493" stroke-width="0.75"/>
<path d="M356 578.59L355.05 579.97L353.15 579.97L352.2 578.59L353.15 577.2L355.05 577.2Z" fill="none" stroke="#ff1493" stroke-width="0.75"/>
<path d="M357.72 576.94L356.77 578.33L354.87 578.33L353.92 576.94L354.87 575.56L356.77 575.56Z" fill="none" stroke="#ff1493" stroke-width="0.75"/>
<path d="M359.4 575.35L358.45 576.74L356.55 576.74L355.6 575.35L356.55 573.97L358.45 573.97Z" fill="none" stroke="#ff1493" stroke-width="0.75"/>
<path d="M361.02 573.77L360.07 575.15L358.17 575.15L357.22 573.77L358.17 572.38L360.07 572.38Z" fill="none" stroke="#ff1493" stroke-width="0.75"/>
<path d="M362.59 572.2L361.64 573.58L359.74 573.58L358.79 572.2L359.74 570.81L361.64 570.81Z" fill="none" stroke="#ff1493" stroke-width="0.75"/>
<path d="M364.12 570.67L363.17 572.06L361.27 572.06L360.32 570.67L361.27 569.29L363.17 569.29Z" fill="none" stroke="#ff1493" stroke-width="0.75"/>
<path d="M365.6 569.19L364.65 570.58L362.75 570.58L361.8 569.19L362.75 567.81L364.65 567.81Z" fill="none" stroke="#ff1493" stroke-width="0.75"/>
<path d="M367.05 567.7L366.1 569.09L364.2 569.09L363.25 567.7L364.2 566.32L366.1 566.32Z" fill="none" stroke="#ff1493" stroke-width="0.75"/>
<path d="M368.45 566.02L367.5 567.41L365.6 567.41L364.65 566.02L365.6 564.64L367.5 564.64Z" fill="none" stroke="#ff1493" stroke-width="0.75"/>
<path d="M369.82 564.39L368.87 565.77L366.97 565.77L366.02 564.39L366.97 563L368.87 563Z" fill="none" stroke="#ff1493" stroke-width="0.75"/>
<path d="M371.16 562.79L370.21 564.18L368.31 564.18L367.36 562.79L368.31 561.41L370.21 561.41Z" fill="none" stroke="#ff1493" stroke-width="0.75"/>
<path d="M372.46 561.24L371.51 562.62L369.61 562.62L368.66 561.24L369.61 559.85L371.51 559.85Z" fill="none" stroke="#ff1493" stroke-width="0.75"/>
<path d="M373.73 559.73L372.78 561.11L370.88 561.11L369.93 559.73L370.88 558.34L372.78 558.34Z" fill="none" stroke="#ff1493" stroke-width="0.75"/>
<path d="M374.97 558.5L374.02 559.89L372.12 559.89L371.17 558.5L372.12 557.11L374.02 557.11Z" fill="none" stroke="#ff1493" stroke-width="0.75"/>
<path d="M376.19 557.3L375.24 558.69L373.34 558.69L372.39 557.3L373.34 555.92L375.24 555.92Z" fill="none" stroke="#ff1493" stroke-width="0.75"/>
<path d="M377.37 556.13L376.42 557.52L374.52 557.52L373.57 556.13L374.52 554.75L376.42 554.75Z" fill="none" stroke="#ff1493" stroke-width="0.75"/>
<path d="M378.53 554.99L377.58 556.38L375.68 556.38L374.73 554.99L375.68 553.6L377.58 553.6Z" fill="none" stroke="#ff1493" stroke-width="0.75"/>
<path d="M379.67 553.87L378.72 555.26L376.82 555.26L375.87 553.87L376.82 552.48L378.72 552.48Z" fill="none" stroke="#ff1493" stroke-width="0.75"/>
<path d="M380.78 552.81L379.83 554.2L377.93 554.2L376.98 552.81L377.93 551.43L379.83 551.43Z" fill="none" stroke="#ff1493" stroke-width="0.75"/>
<path d="M381.87 551.98L380.92 553.37L379.02 553.37L378.07 551.98L379.02 550.6L380.92 550.6Z" fill="none" stroke="#ff1493" stroke-width="0.75"/>
<path d="M382.93 551.17L381.98 552.55L380.08 552.55L379.13 551.17L380.08 549.78L381.98 549.78Z" fill="none" stroke="#ff1493" stroke-width="0.75"/>
<path d="M383.98 550.37L383.03 551.76L381.13 551.76L380.18 550.37L381.13 548.98L383.03 548.98Z" fill="none" stroke="#ff1493" stroke-width="0.75"/>
<path d="M385 549.59L384.05 550.97L382.15 550.97L381.2 549.59L382.15 548.2L384.05 548.2Z" fill="none" stroke="#ff1493" stroke-width="0.75"/>
<path d="M386.01 548.82L385.06 550.21L383.16 550.21L382.21 548.82L383.16 547.43L385.06 547.43Z" fill="none" stroke="#ff1493" stroke-width="0.75"/>
<path d="M387 548.07L386.05 549.45L384.15 549.45L383.2 548.07L384.15 546.68L386.05 546.68Z" fill="none" stroke="#ff1493" stroke-width="0.75"/>
<path d="M387.96 547.3L387.01 548.69L385.11 548.69L384.16 547.3L385.11 545.92L387.01 545.92Z" fill="none" stroke="#ff1493" stroke-width="0.75"/>
<path d="M388.92 546.51L387.97 547.9L386.07 547.9L385.12 546.51L386.07 545.12L387.97 545.12Z" fill="none" stroke="#ff1493" stroke-width="0.75"/>
<path d="M389.85 545.73L388.9 547.12L387 547.12L386.05 545.73L387 544.35L388.9 544.35Z" fill="none" stroke="#ff1493" stroke-width="0.75"/>
<path d="M390.77 544.97L389.82 546.36L387.92 546.36L386.97 544.97L387.92 543.58L389.82 543.58Z" fill="none" stroke="#ff1493" stroke-width="0.75"/>
<path d="M391.67 544.22L390.72 545.6L388.82 545.6L387.87 544.22L388.82 542.83L390.72 542.83Z" fill="none" stroke="#ff1493" stroke-width="0.75"/>
<path d="M238 687L237.05 688.39L235.15 688.39L234.2 687L235.15 685.61L237.05 685.61Z" fill="#ff1493" stroke="#ff1493" stroke-width="0.3"/>
<path d="M252.1 677.8L251.15 679.19L249.25 679.19L248.3 677.8L249.25 676.41L251.15 676.41Z" fill="#ff1493" stroke="#ff1493" stroke-width="0.3"/>
<path d="M263.3 673.1L262.35 674.49L260.45 674.49L259.5 673.1L260.45 671.71L262.35 671.71Z" fill="#ff1493" stroke="#ff1493" stroke-width="0.3"/>
<path d="M272.5 669.6L271.55 670.99L269.65 670.99L268.7 669.6L269.65 668.21L271.55 668.21Z" fill="#ff1493" stroke="#ff1493" stroke-width="0.3"/>
<path d="M280.4 666.1L279.45 667.49L277.55 667.49L276.6 666.1L277.55 664.71L279.45 664.71Z" fill="#ff1493" stroke="#ff1493" stroke-width="0.3"/>
<path d="M287.2 656.9L286.25 658.29L284.35 658.29L283.4 656.9L284.35 655.51L286.25 655.51Z" fill="#ff1493" stroke="#ff1493" stroke-width="0.3"/>
<path d="M293.3 650.8L292.35 652.19L290.45 652.19L289.5 650.8L290.45 649.41L292.35 649.41Z" fill="#ff1493" stroke="#ff1493" stroke-width="0.3"/>
<path d="M298.7 645.5L297.75 646.89L295.85 646.89L294.9 645.5L295.85 644.11L297.75 644.11Z" fill="#ff1493" stroke="#ff1493" stroke-width="0.3"/>
<path d="M303.58 638.1L302.63 639.49L300.74 639.49L299.79 638.1L300.74 636.71L302.63 636.71Z" fill="#ff1493" stroke="#ff1493" stroke-width="0.3"/>
<path d="M308.08 631.1L307.13 632.48L305.23 632.48L304.28 631.1L305.23 629.71L307.13 629.71Z" fill="#ff1493" stroke="#ff1493" stroke-width="0.3"/>
<path d="M312.21 627.76L311.26 629.14L309.36 629.14L308.41 627.76L309.36 626.37L311.26 626.37Z" fill="#ff1493" stroke="#ff1493" stroke-width="0.3"/>
<path d="M316.05 623.74L315.1 625.13L313.2 625.13L312.25 623.74L313.2 622.36L315.1 622.36Z" fill="#ff1493" stroke="#ff1493" stroke-width="0.3"/>
<path d="M319.62 619.24L318.67 620.62L316.77 620.62L315.82 619.24L316.77 617.85L318.67 617.85Z" fill="#ff1493" stroke="#ff1493" stroke-width="0.3"/>
<path d="M322.98 614.42L322.03 615.81L320.13 615.81L319.18 614.42L320.13 613.04L322.03 613.04Z" fill="#ff1493" stroke="#ff1493" stroke-width="0.3"/>
<path d="M326.15 609.91L325.2 611.29L323.3 611.29L322.35 609.91L323.3 608.52L325.2 608.52Z" fill="#ff1493" stroke="#ff1493" stroke-width="0.3"/>
<path d="M329.15 606.29L328.2 607.68L326.3 607.68L325.35 606.29L326.3 604.91L328.2 604.91Z" fill="#ff1493" stroke="#ff1493" stroke-width="0.3"/>
<path d="M331.99 603L331.04 604.38L329.14 604.38L328.19 603L329.14 601.61L331.04 601.61Z" fill="#ff1493" stroke="#ff1493" stroke-width="0.3"/>
<path d="M334.68 599.9L333.73 601.28L331.83 601.28L330.88 599.9L331.83 598.51L333.73 598.51Z" fill="#ff1493" stroke="#ff1493" stroke-width="0.3"/>
<path d="M337.24 597.56L336.29 598.95L334.39 598.95L333.44 597.56L334.39 596.17L336.29 596.17Z" fill="#ff1493" stroke="#ff1493" stroke-width="0.3"/>
<path d="M339.68 595.33L338.73 596.71L336.83 596.71L335.88 595.33L336.83 593.94L338.73 593.94Z" fill="#ff1493" stroke="#ff1493" stroke-width="0.3"/>
<path d="M342.02 593.18L341.07 594.57L339.17 594.57L338.22 593.18L339.17 591.8L341.07 591.8Z" fill="#ff1493" stroke="#ff1493" stroke-width="0.3"/>
<path d="M344.26 591.12L343.31 592.51L341.41 592.51L340.46 591.12L341.41 589.74L343.31 589.74Z" fill="#ff1493" stroke="#ff1493" stroke-width="0.3"/>
<path d="M346.4 589.14L345.45 590.53L343.55 590.53L342.6 589.14L343.55 587.76L345.45 587.76Z" fill="#ff1493" stroke="#ff1493" stroke-width="0.3"/>
<path d="M348.47 587.15L347.52 588.54L345.62 588.54L344.67 587.15L345.62 585.77L347.52 585.77Z" fill="#ff1493" stroke="#ff1493" stroke-width="0.3"/>
<path d="M350.45 585.11L349.5 586.49L347.6 586.49L346.65 585.11L347.6 583.72L349.5 583.72Z" fill="#ff1493" stroke="#ff1493" stroke-width="0.3"/>
<path d="M352.37 583.14L351.42 584.53L349.52 584.53L348.57 583.14L349.52 581.75L351.42 581.75Z" fill="#ff1493" stroke="#ff1493" stroke-width="0.3"/>
<path d="M354.21 581.24L353.26 582.63L351.36 582.63L350.41 581.24L351.36 579.85L353.26 579.85Z" fill="#ff1493" stroke="#ff1493" stroke-width="0.3"/>
<path d="M356 579.51L355.05 580.89L353.15 580.89L352.2 579.51L353.15 578.12L355.05 578.12Z" fill="#ff1493" stroke="#ff1493" stroke-width="0.3"/>
<path d="M357.72 577.86L356.77 579.25L354.87 579.25L353.92 577.86L354.87 576.48L356.77 576.48Z" fill="#ff1493" stroke="#ff1493" stroke-width="0.3"/>
<path d="M359.4 576.27L358.45 577.65L356.55 577.65L355.6 576.27L356.55 574.88L358.45 574.88Z" fill="#ff1493" stroke="#ff1493" stroke-width="0.3"/>
<path d="M361.02 574.69L360.07 576.07L358.17 576.07L357.22 574.69L358.17 573.3L360.07 573.3Z" fill="#ff1493" stroke="#ff1493" stroke-width="0.3"/>
<path d="M362.59 573.13L361.64 574.51L359.74 574.51L358.79 573.13L359.74 571.74L361.64 571.74Z" fill="#ff1493" stroke="#ff1493" stroke-width="0.3"/>
<path d="M364.12 571.61L363.17 573L361.27 573L360.32 571.61L361.27 570.23L363.17 570.23Z" fill="#ff1493" stroke="#ff1493" stroke-width="0.3"/>
<path d="M365.6 570.14L364.65 571.52L362.75 571.52L361.8 570.14L362.75 568.75L364.65 568.75Z" fill="#ff1493" stroke="#ff1493" stroke-width="0.3"/>
<path d="M367.05 568.66L366.1 570.04L364.2 570.04L363.25 568.66L364.2 567.27L366.1 567.27Z" fill="#ff1493" stroke="#ff1493" stroke-width="0.3"/>
<path d="M368.45 566.99L367.5 568.37L365.6 568.37L364.65 566.99L365.6 565.6L367.5 565.6Z" fill="#ff1493" stroke="#ff1493" stroke-width="0.3"/>
<path d="M369.82 565.36L368.87 566.75L366.97 566.75L366.02 565.36L366.97 563.98L368.87 563.98Z" fill="#ff1493" stroke="#ff1493" stroke-width="0.3"/>
<path d="M371.16 563.77L370.21 565.16L368.31 565.16L367.36 563.77L368.31 562.39L370.21 562.39Z" fill="#ff1493" stroke="#ff1493" stroke-width="0.3"/>
<path d="M372.46 562.23L371.51 563.61L369.61 563.61L368.66 562.23L369.61 560.84L371.51 560.84Z" fill="#ff1493" stroke="#ff1493" stroke-width="0.3"/>
<path d="M373.73 560.72L372.78 562.11L370.88 562.11L369.93 560.72L370.88 559.34L372.78 559.34Z" fill="#ff1493" stroke="#ff1493" stroke-width="0.3"/>
<path d="M374.97 559.5L374.02 560.89L372.12 560.89L371.17 559.5L372.12 558.11L374.02 558.11Z" fill="#ff1493" stroke="#ff1493" stroke-width="0.3"/>
<path d="M376.19 558.3L375.24 559.69L373.34 559.69L372.39 558.3L373.34 556.92L375.24 556.92Z" fill="#ff1493" stroke="#ff1493" stroke-width="0.3"/>
<path d="M377.37 557.13L376.42 558.52L374.52 558.52L373.57 557.13L374.52 555.75L376.42 555.75Z" fill="#ff1493" stroke="#ff1493" stroke-width="0.3"/>
<path d="M378.53 555.99L377.58 557.38L375.68 557.38L374.73 555.99L375.68 554.6L377.58 554.6Z" fill="#ff1493" stroke="#ff1493" stroke-width="0.3"/>
<path d="M379.67 554.87L378.72 556.26L376.82 556.26L375.87 554.87L376.82 553.48L378.72 553.48Z" fill="#ff1493" stroke="#ff1493" stroke-width="0.3"/>
<path d="M380.78 553.81L379.83 555.2L377.93 555.2L376.98 553.81L377.93 552.43L379.83 552.43Z" fill="#ff1493" stroke="#ff1493" stroke-width="0.3"/>
<path d="M381.87 552.98L380.92 554.37L379.02 554.37L378.07 552.98L379.02 551.6L380.92 551.6Z" fill="#ff1493" stroke="#ff1493" stroke-width="0.3"/>
<path d="M382.93 552.17L381.98 553.55L380.08 553.55L379.13 552.17L380.08 550.78L381.98 550.78Z" fill="#ff1493" stroke="#ff1493" stroke-width="0.3"/>
<path d="M383.98 551.37L383.03 552.76L381.13 552.76L380.18 551.37L381.13 549.98L383.03 549.98Z" fill="#ff1493" stroke="#ff1493" stroke-width="0.3"/>
<path d="M385 550.59L384.05 551.97L382.15 551.97L381.2 550.59L382.15 549.2L384.05 549.2Z" fill="#ff1493" stroke="#ff1493" stroke-width="0.3"/>
<path d="M386.01 549.82L385.06 551.21L383.16 551.21L382.21 549.82L383.16 548.43L385.06 548.43Z" fill="#ff1493" stroke="#ff1493" stroke-width="0.3"/>
<path d="M387 549.07L386.05 550.45L384.15 550.45L383.2 549.07L384.15 547.68L386.05 547.68Z" fill="#ff1493" stroke="#ff1493" stroke-width="0.3"/>
<path d="M387.96 548.3L387.01 549.69L385.11 549.69L384.16 548.3L385.11 546.92L387.01 546.92Z" fill="#ff1493" stroke="#ff1493" stroke-width="0.3"/>
<path d="M388.92 547.51L387.97 548.9L386.07 548.9L385.12 547.51L386.07 546.12L387.97 546.12Z" fill="#ff1493" stroke="#ff1493" stroke-width="0.3"/>
<path d="M389.85 546.73L388.9 548.12L387 548.12L386.05 546.73L387 545.35L388.9 545.35Z" fill="#ff1493" stroke="#ff1493" stroke-width="0.3"/>
<path d="M390.77 545.97L389.82 547.36L387.92 547.36L386.97 545.97L387.92 544.58L389.82 544.58Z" fill="#ff1493" stroke="#ff1493" stroke-width="0.3"/>
<path d="M391.67 545.22L390.72 546.6L388.82 546.6L387.87 545.22L388.82 543.83L390.72 543.83Z" fill="#ff1493" stroke="#ff1493" stroke-width="0.3"/>
<path d="M224.04 691.3v1.6 M224.04 528v1.3 M226.5 691.3v1.6 M226.5 528v1.3 M228.86 691.3v1.6 M228.86 528v1.3 M231.11 691.3v1.6 M231.11 528v1.3 M233.27 691.3v1.6 M233.27 528v1.3 M235.35 691.3v1.6 M235.35 528v1.3 M237.35 691.3v1.6 M237.35 528v1.3 M239.28 691.3v1.6 M239.28 528v1.3 M241.14 691.3v1.6 M241.14 528v1.3 M246.35 691.3v1.6 M246.35 528v1.3 M249.57 691.3v1.6 M249.57 528v1.3 M252.59 691.3v1.6 M252.59 528v1.3 M255.46 691.3v1.6 M255.46 528v1.3 M258.18 691.3v1.6 M258.18 528v1.3 M260.76 691.3v1.6 M260.76 528v1.3 M263.23 691.3v1.6 M263.23 528v1.3 M265.58 691.3v1.6 M265.58 528v1.3 M267.84 691.3v1.6 M267.84 528v1.3 M272.59 691.3v1.6 M272.59 528v1.3 M275.05 691.3v1.6 M275.05 528v1.3 M277.41 691.3v1.6 M277.41 528v1.3 M279.66 691.3v1.6 M279.66 528v1.3 M281.82 691.3v1.6 M281.82 528v1.3 M283.9 691.3v1.6 M283.9 528v1.3 M285.9 691.3v1.6 M285.9 528v1.3 M287.83 691.3v1.6 M287.83 528v1.3 M289.69 691.3v1.6 M289.69 528v1.3 M296.53 691.3v1.6 M296.53 528v1.3 M301.14 691.3v1.6 M301.14 528v1.3 M305.38 691.3v1.6 M305.38 528v1.3 M309.31 691.3v1.6 M309.31 528v1.3 M312.97 691.3v1.6 M312.97 528v1.3 M316.39 691.3v1.6 M316.39 528v1.3 M319.6 691.3v1.6 M319.6 528v1.3 M322.63 691.3v1.6 M322.63 528v1.3 M325.49 691.3v1.6 M325.49 528v1.3 M331.63 691.3v1.6 M331.63 528v1.3 M334.84 691.3v1.6 M334.84 528v1.3 M337.87 691.3v1.6 M337.87 528v1.3 M340.73 691.3v1.6 M340.73 528v1.3 M343.45 691.3v1.6 M343.45 528v1.3 M346.04 691.3v1.6 M346.04 528v1.3 M348.5 691.3v1.6 M348.5 528v1.3 M350.86 691.3v1.6 M350.86 528v1.3 M353.11 691.3v1.6 M353.11 528v1.3 M357.35 691.3v1.6 M357.35 528v1.3 M359.35 691.3v1.6 M359.35 528v1.3 M361.28 691.3v1.6 M361.28 528v1.3 M363.14 691.3v1.6 M363.14 528v1.3 M364.93 691.3v1.6 M364.93 528v1.3 M366.67 691.3v1.6 M366.67 528v1.3 M368.35 691.3v1.6 M368.35 528v1.3 M369.98 691.3v1.6 M369.98 528v1.3 M371.57 691.3v1.6 M371.57 528v1.3 M375.33 691.3v1.6 M375.33 528v1.3 M377.46 691.3v1.6 M377.46 528v1.3 M379.51 691.3v1.6 M379.51 528v1.3 M381.49 691.3v1.6 M381.49 528v1.3 M383.39 691.3v1.6 M383.39 528v1.3 M385.23 691.3v1.6 M385.23 528v1.3 M387 691.3v1.6 M387 528v1.3 M388.72 691.3v1.6 M388.72 528v1.3 M390.39 691.3v1.6 M390.39 528v1.3 M222.2 686.44h-1.6 M397.2 686.44h-1.6 M222.2 682.27h-1.6 M397.2 682.27h-1.6 M222.2 678.44h-1.6 M397.2 678.44h-1.6 M222.2 674.89h-1.6 M397.2 674.89h-1.6 M222.2 671.58h-1.6 M397.2 671.58h-1.6 M222.2 668.49h-1.6 M397.2 668.49h-1.6 M222.2 665.59h-1.6 M397.2 665.59h-1.6 M222.2 662.85h-1.6 M397.2 662.85h-1.6 M222.2 660.26h-1.6 M397.2 660.26h-1.6 M222.2 653.23h-1.6 M397.2 653.23h-1.6 M222.2 649.07h-1.6 M397.2 649.07h-1.6 M222.2 645.23h-1.6 M397.2 645.23h-1.6 M222.2 641.68h-1.6 M397.2 641.68h-1.6 M222.2 638.38h-1.6 M397.2 638.38h-1.6 M222.2 635.29h-1.6 M397.2 635.29h-1.6 M222.2 632.38h-1.6 M397.2 632.38h-1.6 M222.2 629.64h-1.6 M397.2 629.64h-1.6 M222.2 627.05h-1.6 M397.2 627.05h-1.6 M222.2 622.26h-1.6 M397.2 622.26h-1.6 M222.2 620.03h-1.6 M397.2 620.03h-1.6 M222.2 617.9h-1.6 M397.2 617.9h-1.6 M222.2 615.86h-1.6 M397.2 615.86h-1.6 M222.2 613.91h-1.6 M397.2 613.91h-1.6 M222.2 612.03h-1.6 M397.2 612.03h-1.6 M222.2 610.22h-1.6 M397.2 610.22h-1.6 M222.2 608.48h-1.6 M397.2 608.48h-1.6 M222.2 606.8h-1.6 M397.2 606.8h-1.6 M222.2 602.08h-1.6 M397.2 602.08h-1.6 M222.2 599.18h-1.6 M397.2 599.18h-1.6 M222.2 596.44h-1.6 M397.2 596.44h-1.6 M222.2 593.85h-1.6 M397.2 593.85h-1.6 M222.2 591.39h-1.6 M397.2 591.39h-1.6 M222.2 589.06h-1.6 M397.2 589.06h-1.6 M222.2 586.83h-1.6 M397.2 586.83h-1.6 M222.2 584.7h-1.6 M397.2 584.7h-1.6 M222.2 582.66h-1.6 M397.2 582.66h-1.6 M222.2 577.91h-1.6 M397.2 577.91h-1.6 M222.2 575.27h-1.6 M397.2 575.27h-1.6 M222.2 572.78h-1.6 M397.2 572.78h-1.6 M222.2 570.4h-1.6 M397.2 570.4h-1.6 M222.2 568.14h-1.6 M397.2 568.14h-1.6 M222.2 565.97h-1.6 M397.2 565.97h-1.6 M222.2 563.91h-1.6 M397.2 563.91h-1.6 M222.2 561.92h-1.6 M397.2 561.92h-1.6 M222.2 560.02h-1.6 M397.2 560.02h-1.6 M222.2 557.01h-1.6 M397.2 557.01h-1.6 M222.2 555.85h-1.6 M397.2 555.85h-1.6 M222.2 554.72h-1.6 M397.2 554.72h-1.6 M222.2 553.62h-1.6 M397.2 553.62h-1.6 M222.2 552.55h-1.6 M397.2 552.55h-1.6 M222.2 551.49h-1.6 M397.2 551.49h-1.6 M222.2 550.46h-1.6 M397.2 550.46h-1.6 M222.2 549.46h-1.6 M397.2 549.46h-1.6 M222.2 548.47h-1.6 M397.2 548.47h-1.6 M222.2 545.16h-1.6 M397.2 545.16h-1.6 M222.2 542.93h-1.6 M397.2 542.93h-1.6 M222.2 540.81h-1.6 M397.2 540.81h-1.6 M222.2 538.77h-1.6 M397.2 538.77h-1.6 M222.2 536.81h-1.6 M397.2 536.81h-1.6 M222.2 534.93h-1.6 M397.2 534.93h-1.6 M222.2 533.12h-1.6 M397.2 533.12h-1.6 M222.2 531.38h-1.6 M397.2 531.38h-1.6 M222.2 529.7h-1.6 M397.2 529.7h-1.6" stroke="#000" stroke-width="1.0" fill="none"/>
<path d="M221.45 691.3v3 M221.45 528v2.5 M242.93 691.3v3 M242.93 528v2.5 M270 691.3v3 M270 528v2.5 M291.48 691.3v3 M291.48 528v2.5 M328.21 691.3v3 M328.21 528v2.5 M355.27 691.3v3 M355.27 528v2.5 M373.1 691.3v3 M373.1 528v2.5 M392 691.3v3 M392 528v2.5 M222.2 691h-3 M397.2 691h-3 M222.2 657.8h-3 M397.2 657.8h-3 M222.2 624.6h-3 M397.2 624.6h-3 M222.2 605.17h-3 M397.2 605.17h-3 M222.2 580.7h-3 M397.2 580.7h-3 M222.2 558.19h-3 M397.2 558.19h-3 M222.2 547.5h-3 M397.2 547.5h-3 M222.2 528.08h-3 M397.2 528.08h-3" stroke="#000" stroke-width="1.2" fill="none"/>
<rect x="222.2" y="528" width="175" height="163.3" fill="none" stroke="#000" stroke-width="1.4"/>
<text transform="translate(221.45,700.8) scale(1.34,1)" font-family="'Liberation Serif', serif" font-size="5.6" font-weight="bold" font-style="normal" fill="#000" text-anchor="middle" stroke="#000" stroke-width="0.15">400</text>
<text transform="translate(242.93,700.8) scale(1.34,1)" font-family="'Liberation Serif', serif" font-size="5.6" font-weight="bold" font-style="normal" fill="#000" text-anchor="middle" stroke="#000" stroke-width="0.15">600</text>
<text transform="translate(270,700.8) scale(1.34,1)" font-family="'Liberation Serif', serif" font-size="5.6" font-weight="bold" font-style="normal" fill="#000" text-anchor="middle" stroke="#000" stroke-width="0.15">1000</text>
<text transform="translate(291.48,700.8) scale(1.34,1)" font-family="'Liberation Serif', serif" font-size="5.6" font-weight="bold" font-style="normal" fill="#000" text-anchor="middle" stroke="#000" stroke-width="0.15">1500</text>
<text transform="translate(328.21,700.8) scale(1.34,1)" font-family="'Liberation Serif', serif" font-size="5.6" font-weight="bold" font-style="normal" fill="#000" text-anchor="middle" stroke="#000" stroke-width="0.15">3000</text>
<text transform="translate(355.27,700.8) scale(1.34,1)" font-family="'Liberation Serif', serif" font-size="5.6" font-weight="bold" font-style="normal" fill="#000" text-anchor="middle" stroke="#000" stroke-width="0.15">5000</text>
<text transform="translate(373.1,700.8) scale(1.34,1)" font-family="'Liberation Serif', serif" font-size="5.6" font-weight="bold" font-style="normal" fill="#000" text-anchor="middle" stroke="#000" stroke-width="0.15">7000</text>
<text transform="translate(392,700.8) scale(1.34,1)" font-family="'Liberation Serif', serif" font-size="5.6" font-weight="bold" font-style="normal" fill="#000" text-anchor="middle" stroke="#000" stroke-width="0.15">10000</text>
<text transform="translate(216,692.8) scale(1.34,1)" font-family="'Liberation Serif', serif" font-size="5.6" font-weight="bold" font-style="normal" fill="#000" text-anchor="end" stroke="#000" stroke-width="0.15">5</text>
<text transform="translate(216,659.6) scale(1.34,1)" font-family="'Liberation Serif', serif" font-size="5.6" font-weight="bold" font-style="normal" fill="#000" text-anchor="end" stroke="#000" stroke-width="0.15">10</text>
<text transform="translate(216,626.4) scale(1.34,1)" font-family="'Liberation Serif', serif" font-size="5.6" font-weight="bold" font-style="normal" fill="#000" text-anchor="end" stroke="#000" stroke-width="0.15">20</text>
<text transform="translate(216,606.97) scale(1.34,1)" font-family="'Liberation Serif', serif" font-size="5.6" font-weight="bold" font-style="normal" fill="#000" text-anchor="end" stroke="#000" stroke-width="0.15">30</text>
<text transform="translate(216,582.5) scale(1.34,1)" font-family="'Liberation Serif', serif" font-size="5.6" font-weight="bold" font-style="normal" fill="#000" text-anchor="end" stroke="#000" stroke-width="0.15">50</text>
<text transform="translate(216,559.99) scale(1.34,1)" font-family="'Liberation Serif', serif" font-size="5.6" font-weight="bold" font-style="normal" fill="#000" text-anchor="end" stroke="#000" stroke-width="0.15">80</text>
<text transform="translate(216,549.3) scale(1.34,1)" font-family="'Liberation Serif', serif" font-size="5.6" font-weight="bold" font-style="normal" fill="#000" text-anchor="end" stroke="#000" stroke-width="0.15">100</text>
<text transform="translate(216,529.88) scale(1.34,1)" font-family="'Liberation Serif', serif" font-size="5.6" font-weight="bold" font-style="normal" fill="#000" text-anchor="end" stroke="#000" stroke-width="0.15">150</text>
<rect x="399.6" y="569.0" width="120.0" height="122.4" fill="#fff" stroke="#222" stroke-width="1.1"/>
<rect x="406.33" y="572.52" width="3.13" height="2.56" fill="none" stroke="#000" stroke-width="0.6"/>
<text transform="translate(416.3,575.7)" font-family="'Liberation Serif', serif" font-size="5.6" font-weight="bold" font-style="normal" fill="#000" text-anchor="start" stroke="#000" stroke-width="0.1" textLength="102" lengthAdjust="spacingAndGlyphs">θ = 15°, Heat Flux = 2 kW/m², S.R. = 3</text>
<rect x="406.33" y="579.25" width="3.13" height="2.56" fill="#000" stroke="#000" stroke-width="0.3"/>
<text transform="translate(416.3,582.43)" font-family="'Liberation Serif', serif" font-size="5.6" font-weight="bold" font-style="normal" fill="#000" text-anchor="start" stroke="#000" stroke-width="0.1" textLength="102" lengthAdjust="spacingAndGlyphs">θ = 30°, Heat Flux = 2 kW/m², S.R. = 3</text>
<ellipse cx="407.9" cy="587.26" rx="1.61" ry="1.42" fill="none" stroke="#b03030" stroke-width="0.6"/>
<text transform="translate(416.3,589.16)" font-family="'Liberation Serif', serif" font-size="5.6" font-weight="bold" font-style="normal" fill="#000" text-anchor="start" stroke="#000" stroke-width="0.1" textLength="102" lengthAdjust="spacingAndGlyphs">θ = 15°, Heat Flux = 2 kW/m², S.R. = 4</text>
<ellipse cx="407.9" cy="593.99" rx="1.8" ry="1.42" fill="#ff0000" stroke="#ff0000" stroke-width="0.3"/>
<text transform="translate(416.3,595.89)" font-family="'Liberation Serif', serif" font-size="5.6" font-weight="bold" font-style="normal" fill="#000" text-anchor="start" stroke="#000" stroke-width="0.1" textLength="102" lengthAdjust="spacingAndGlyphs">θ = 30°, Heat Flux = 2 kW/m², S.R. = 4</text>
<path d="M407.9 599.2L409.89 602.24L405.9 602.24Z" fill="none" stroke="#40e040" stroke-width="0.6"/>
<text transform="translate(416.3,602.62)" font-family="'Liberation Serif', serif" font-size="5.6" font-weight="bold" font-style="normal" fill="#000" text-anchor="start" stroke="#000" stroke-width="0.1" textLength="102" lengthAdjust="spacingAndGlyphs">θ = 15°, Heat Flux = 2 kW/m², S.R. = 5</text>
<path d="M407.9 605.93L409.89 608.97L405.9 608.97Z" fill="#00e000" stroke="#00e000" stroke-width="0.3"/>
<text transform="translate(416.3,609.35)" font-family="'Liberation Serif', serif" font-size="5.6" font-weight="bold" font-style="normal" fill="#000" text-anchor="start" stroke="#000" stroke-width="0.1" textLength="102" lengthAdjust="spacingAndGlyphs">θ = 30°, Heat Flux = 2 kW/m², S.R. = 5</text>
<path d="M407.9 615.6L409.89 612.75L405.9 612.75Z" fill="none" stroke="#ffa040" stroke-width="0.6"/>
<text transform="translate(416.3,616.08)" font-family="'Liberation Serif', serif" font-size="5.6" font-weight="bold" font-style="normal" fill="#000" text-anchor="start" stroke="#000" stroke-width="0.1" textLength="102" lengthAdjust="spacingAndGlyphs">θ = 15°, Heat Flux = 2 kW/m², S.R. = 3</text>
<path d="M407.9 622.33L409.89 619.49L405.9 619.49Z" fill="#ff7f00" stroke="#ff7f00" stroke-width="0.3"/>
<text transform="translate(416.3,622.81)" font-family="'Liberation Serif', serif" font-size="5.6" font-weight="bold" font-style="normal" fill="#000" text-anchor="start" stroke="#000" stroke-width="0.1" textLength="102" lengthAdjust="spacingAndGlyphs">θ = 30°, Heat Flux = 2 kW/m², S.R. = 3</text>
<path d="M407.9 625.93L409.7 627.64L407.9 629.35L406.09 627.64Z" fill="none" stroke="#4040ff" stroke-width="0.6"/>
<text transform="translate(416.3,629.54)" font-family="'Liberation Serif', serif" font-size="5.6" font-weight="bold" font-style="normal" fill="#000" text-anchor="start" stroke="#000" stroke-width="0.1" textLength="102" lengthAdjust="spacingAndGlyphs">θ = 15°, Heat Flux = 2 kW/m², S.R. = 4</text>
<path d="M407.9 632.66L409.7 634.37L407.9 636.08L406.09 634.37Z" fill="#0020ff" stroke="#0020ff" stroke-width="0.3"/>
<text transform="translate(416.3,636.27)" font-family="'Liberation Serif', serif" font-size="5.6" font-weight="bold" font-style="normal" fill="#000" text-anchor="start" stroke="#000" stroke-width="0.1" textLength="102" lengthAdjust="spacingAndGlyphs">θ = 30°, Heat Flux = 2 kW/m², S.R. = 4</text>
<path d="M406.28 641.1L409.51 639.48L409.51 642.71Z" fill="none" stroke="#ff40ff" stroke-width="0.6"/>
<text transform="translate(416.3,643)" font-family="'Liberation Serif', serif" font-size="5.6" font-weight="bold" font-style="normal" fill="#000" text-anchor="start" stroke="#000" stroke-width="0.1" textLength="102" lengthAdjust="spacingAndGlyphs">θ = 15°, Heat Flux = 2 kW/m², S.R. = 5</text>
<path d="M406.28 647.83L409.51 646.21L409.51 649.44Z" fill="#ff00ff" stroke="#ff00ff" stroke-width="0.3"/>
<text transform="translate(416.3,649.73)" font-family="'Liberation Serif', serif" font-size="5.6" font-weight="bold" font-style="normal" fill="#000" text-anchor="start" stroke="#000" stroke-width="0.1" textLength="102" lengthAdjust="spacingAndGlyphs">θ = 30°, Heat Flux = 2 kW/m², S.R. = 5</text>
<path d="M409.51 654.56L406.28 652.94L406.28 656.17Z" fill="none" stroke="#000080" stroke-width="0.6"/>
<text transform="translate(416.3,656.46)" font-family="'Liberation Serif', serif" font-size="5.6" font-weight="bold" font-style="normal" fill="#000" text-anchor="start" stroke="#000" stroke-width="0.1" textLength="102" lengthAdjust="spacingAndGlyphs">θ = 15°, Heat Flux = 2 kW/m², S.R. = 3</text>
<path d="M409.51 661.29L406.28 659.67L406.28 662.9Z" fill="#000080" stroke="#000080" stroke-width="0.3"/>
<text transform="translate(416.3,663.19)" font-family="'Liberation Serif', serif" font-size="5.6" font-weight="bold" font-style="normal" fill="#000" text-anchor="start" stroke="#000" stroke-width="0.1" textLength="102" lengthAdjust="spacingAndGlyphs">θ = 30°, Heat Flux = 2 kW/m², S.R. = 3</text>
<ellipse cx="407.9" cy="668.02" rx="1.61" ry="1.42" fill="none" stroke="#8000ff" stroke-width="0.6"/>
<text transform="translate(416.3,669.92)" font-family="'Liberation Serif', serif" font-size="5.6" font-weight="bold" font-style="normal" fill="#000" text-anchor="start" stroke="#000" stroke-width="0.1" textLength="102" lengthAdjust="spacingAndGlyphs">θ = 15°, Heat Flux = 2 kW/m², S.R. = 4</text>
<ellipse cx="407.9" cy="674.75" rx="1.8" ry="1.42" fill="#8000ff" stroke="#8000ff" stroke-width="0.3"/>
<text transform="translate(416.3,676.65)" font-family="'Liberation Serif', serif" font-size="5.6" font-weight="bold" font-style="normal" fill="#000" text-anchor="start" stroke="#000" stroke-width="0.1" textLength="102" lengthAdjust="spacingAndGlyphs">θ = 30°, Heat Flux = 2 kW/m², S.R. = 4</text>
<path d="M409.7 681.48L408.8 682.8L407 682.8L406.09 681.48L407 680.16L408.8 680.16Z" fill="none" stroke="#ff1493" stroke-width="0.6"/>
<text transform="translate(416.3,683.38)" font-family="'Liberation Serif', serif" font-size="5.6" font-weight="bold" font-style="normal" fill="#000" text-anchor="start" stroke="#000" stroke-width="0.1" textLength="102" lengthAdjust="spacingAndGlyphs">θ = 15°, Heat Flux = 2 kW/m², S.R. = 5</text>
<path d="M409.7 688.21L408.8 689.53L407 689.53L406.09 688.21L407 686.89L408.8 686.89Z" fill="#ff1493" stroke="#ff1493" stroke-width="0.3"/>
<text transform="translate(416.3,690.11)" font-family="'Liberation Serif', serif" font-size="5.6" font-weight="bold" font-style="normal" fill="#000" text-anchor="start" stroke="#000" stroke-width="0.1" textLength="102" lengthAdjust="spacingAndGlyphs">θ = 30°, Heat Flux = 2 kW/m², S.R. = 5</text>
<text transform="translate(199.8,609.7) rotate(-90)" font-family="'Liberation Serif', serif" font-size="8.3" font-weight="bold" font-style="italic" fill="#000" text-anchor="middle" textLength="9" lengthAdjust="spacingAndGlyphs">Nu</text>
<text transform="translate(309.6,713)" font-family="'Liberation Sans', sans-serif" font-size="8.6" font-weight="normal" font-style="normal" fill="#000" text-anchor="middle" textLength="12.3" lengthAdjust="spacingAndGlyphs">Re</text>
<text transform="translate(351.7,722)" font-family="'Liberation Serif', serif" font-size="8" font-weight="normal" font-style="normal" fill="#000" text-anchor="middle" textLength="10.6" lengthAdjust="spacingAndGlyphs">(e)</text>
</svg></body></html>
